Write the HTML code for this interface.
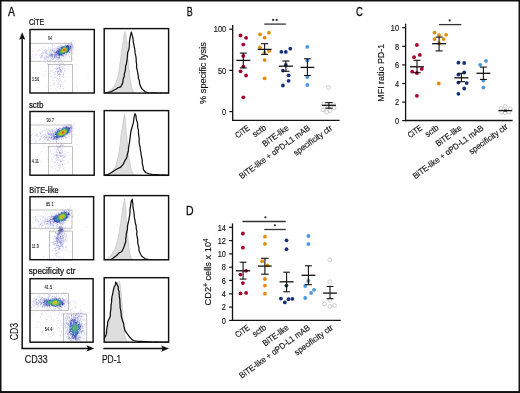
<!DOCTYPE html>
<html><head><meta charset="utf-8"><style>
html,body{margin:0;padding:0;background:#fff;}
svg{display:block;will-change:transform;}
text{font-family:"Liberation Sans", sans-serif;fill:#111;stroke:#111;stroke-width:.15px;}
</style></head><body>
<svg width="520" height="393" viewBox="0 0 520 393">
<defs><filter id="bl" x="-5%" y="-5%" width="110%" height="110%"><feGaussianBlur stdDeviation=".3"/></filter></defs>
<rect width="520" height="393" fill="#fff"/>
<text x="8" y="16" font-size="12" textLength="7" lengthAdjust="spacingAndGlyphs" style="stroke-width:.3px">A</text>
<text x="28.9" y="24.8" font-size="8.3" textLength="15.2" lengthAdjust="spacingAndGlyphs" style="stroke-width:.22px">CiTE</text>
<g filter="url(#bl)">
<path d="M64.31 43.74h.7M73.39 45.21h.7M73.06 49.47h.7M68.14 43.02h.7M70.6 42.76h.7M73.26 48.03h.7M73.92 45.92h.7M74.35 44.31h.7M66.52 56.23h.7M60.24 60.04h.7M63.67 58.58h.7M45.4 55.83h.7M71.19 42.38h.7M69.18 56.82h.7M64.02 43.04h.7M51.9 59.94h.7M45.96 58.68h.7M53.33 61.92h.7M49.59 60.65h.7M55.77 60.75h.7M46.66 59.37h.7M74.69 49.84h.7M45.32 59.85h.7M40.7 56.93h.7M53.88 45.61h.7M32.18 54.97h.7M45.15 53.67h.7M52.15 49.17h.7M31.36 59.19h.7M46.03 53.46h.7M35.51 55.01h.7M57.16 46.41h.7M43.7 53.9h.7M72.64 53.82h.7M43.96 50.42h.7M43.82 59.63h.7M36.39 53.93h.7M50.08 50.84h.7M39.69 54.91h.7M39.82 57.45h.7M47.42 60.2h.7M41.66 57.43h.7M65.34 57.34h.7M48.49 58.64h.7M52.44 48.24h.7M42.38 55.61h.7M46.99 63.77h.7M51.66 45.41h.7M37.36 50.99h.7M46.57 50.71h.7M44.06 57.28h.7M42.24 52.89h.7M32 51.48h.7M48.28 47.74h.7M39.56 54.93h.7M40.7 57.62h.7M41.51 53.47h.7M32.45 61.24h.7M41.67 55.68h.7M41.45 48.44h.7M39.45 61.47h.7M45.15 58.77h.7M44.52 50.12h.7M47.94 48.76h.7M51.49 44.42h.7M72.38 52.36h.7M41.61 55.34h.7M46.27 50.21h.7M45.96 51.28h.7M43.05 52.93h.7M34.44 59.24h.7M41.1 54.85h.7M49.81 49.91h.7M39.02 50.25h.7M41.3 53.63h.7M44.36 59.65h.7M48.63 49.25h.7M42.42 54.91h.7M59.96 45.26h.7M55.62 47.46h.7M68.47 56.42h.7M50.47 49.85h.7M71.26 56.91h.7M48.9 51.46h.7M41.02 56.92h.7M44.89 49.68h.7M50.5 60.93h.7M52.45 44.85h.7M43.04 54.07h.7M43.59 58.28h.7M31.44 56.91h.7M39.27 50.18h.7M47.24 53.01h.7M52.12 47.25h.7M44.79 58.52h.7M49.78 43.1h.7M50.04 48.03h.7M71.32 58.69h.7M71.33 53.83h.7M44.63 56.91h.7M42.68 52.08h.7M42.53 56.9h.7M39.93 56.83h.7M49.7 59.96h.7M44.2 47.43h.7M57.49 87.34h.7M63.2 74.45h.7M62.74 74.33h.7M58.29 61.97h.7M63.03 73.49h.7M55.6 71.69h.7M59.66 80.82h.7M51.89 65.71h.7M59.02 88.41h.7M59.69 79.04h.7M57.19 75.08h.7M53.89 72.99h.7M54.78 77.33h.7M51.47 76.15h.7M65.45 64.99h.7M57.26 78.35h.7M61.55 91.66h.7M60.99 81.76h.7M53.88 74.85h.7M55.98 64.13h.7M62.82 65.22h.7M50.18 64.14h.7M53.54 83.22h.7M53.9 77.86h.7M52.46 78.22h.7M60.06 88.08h.7M57.65 84.05h.7M59.8 65.7h.7M75.25 64.18h.7M57.87 80.79h.7M56.09 69.17h.7M53.03 85.08h.7M56.81 79.12h.7M61.27 61.41h.7M52.35 80.55h.7M58.31 79.64h.7M52.83 72.8h.7M59.35 78.08h.7M58.25 84.03h.7M58.96 78.14h.7M55.99 80.53h.7M54.37 82.88h.7M55.39 60.91h.7M62.39 88.49h.7M50.42 85.54h.7M60.1 84.96h.7M58.47 65.65h.7M50.62 76.69h.7M52.02 71h.7M54.93 72.55h.7M60.66 84.53h.7M45.72 71.62h.7M55.95 76.13h.7M53.94 62.03h.7M65.11 77.1h.7M64.16 70.8h.7M55.47 71.44h.7M63.1 68.12h.7M64.62 69.92h.7M60.47 86.41h.7M53.75 80.04h.7M51.76 71.79h.7M43.61 74.82h.7M54.37 85.87h.7M63.35 88.2h.7M76.18 86.79h.7M61.01 77.3h.7M59.33 82.07h.7M53.7 83.4h.7M56.04 89.65h.7M54.34 68.88h.7M57.76 86.51h.7M54.45 74.3h.7M50.25 71.51h.7M63.38 77.35h.7M60.13 75.09h.7M64.23 68.53h.7M48.82 64.98h.7M50.88 70.06h.7M55.27 88.9h.7M57.59 82.26h.7M60 86.35h.7M58.88 76.3h.7M63.01 75.25h.7M55.93 67.23h.7M55.21 74.74h.7M62.21 68.46h.7M58.89 61.06h.7M57.26 75.36h.7M61.3 63.71h.7M61.51 60.13h.7M59.91 64.34h.7M62.8 67.03h.7M61.97 65.16h.7M58.48 62.87h.7M63.57 72.46h.7M61.31 67.48h.7M59.59 65.49h.7M59.7 63.48h.7M58.65 65.35h.7M58.89 84.88h.7M59.39 65.75h.7M56.46 78.21h.7M64.23 65.5h.7M62.19 66.73h.7M61.73 61.95h.7M54.93 68.49h.7M62.54 81.93h.7M55.04 76.95h.7M61.6 76.19h.7M64.09 80.15h.7M59.13 76.49h.7M64.17 71.24h.7M55.78 71.07h.7M63.86 65.45h.7M60.89 66.02h.7M61.98 69.28h.7M51.99 62.26h.7M72.69 40.56h.7M63.42 63.86h.7M45.52 49.73h.7M66.36 73.3h.7M46.83 60.09h.7M87.51 76.81h.7M49.41 73.54h.7M60.42 80.59h.7M33.34 57.05h.7M47.01 63.98h.7M46.68 49.96h.7M72.96 59.43h.7M47.42 86.48h.7M62.88 85.99h.7M64.62 57.86h.7M37.65 87.77h.7M58.66 61.31h.7M39.92 68.09h.7M72.02 76.14h.7" stroke="rgb(96,96,204)" stroke-width=".7" stroke-opacity="0.45"/>
<path d="M52.06 59.4h.7M52.82 59.45h.7M45.25 51.33h.7M45.36 51.84h.7M44.88 57.6h.7M45.83 52.86h.7M44.81 52.3h.7M54.58 48.46h.7M44.47 52.59h.7M46.08 53.11h.7M47.01 54.03h.7M71.64 50.82h.7M56.41 68.9h.7M58.74 75.66h.7M60.66 74.12h.7" stroke="rgb(84,96,204)" stroke-width=".7" stroke-opacity="0.45"/>
<path d="M71.73 44.62h.7M67.54 44.16h.7M68.36 43.94h.7M72.19 46.3h.7M63.57 56.29h.7M71.57 44.18h.7M53.25 58.6h.7M70.14 51.83h.7M72.32 47.77h.7M57.12 59.4h.7M69.21 44.22h.7M65.66 44.28h.7M71.14 44.09h.7M72.99 47.68h.7M71.92 45.66h.7M70.83 50.99h.7M61.64 57.41h.7M71.87 45.91h.7M70.21 44.32h.7M50.83 58.15h.7M52.75 50.42h.7M68.17 53.86h.7M58.8 58.91h.7M50.18 53.42h.7M69.29 52.74h.7M65.04 55.88h.7M72.07 45.86h.7M50.62 51.11h.7M48.98 55.63h.7M52.72 59.02h.7M53.12 49.24h.7M50.42 57.8h.7M47.16 56.12h.7M57.7 59.51h.7M52.87 51.72h.7M56.53 47.98h.7M47.54 57.09h.7M53.34 58.06h.7M59.06 46.85h.7M51.04 58.33h.7M57.27 47.96h.7M72.31 47.04h.7M47.13 57.46h.7M50.52 58.92h.7M61.4 45.55h.7M58.48 47.18h.7M72.23 49.59h.7M52.14 49.96h.7M48.73 54.13h.7M55.07 49.29h.7M45.99 56.44h.7M48.95 54.41h.7M53.81 50.46h.7M48.23 55.21h.7M59.98 46h.7M46.01 57.49h.7M54.4 50.18h.7M59.83 59.34h.7M51.78 51.01h.7M48.67 56.52h.7M48.75 55.51h.7M58.38 58.66h.7M52.15 50.55h.7M51.69 50.65h.7M58.64 46.77h.7M59.52 58.51h.7M48.11 57.5h.7M56.32 59.24h.7M46.2 56.19h.7M49.48 52.36h.7M48.87 57.99h.7M65.85 54.84h.7M51.64 51.03h.7M49.64 53.98h.7M47.98 56.24h.7M47.25 57.74h.7M51.37 52.19h.7M52.03 57.7h.7M54.07 49.03h.7M55.69 58.09h.7M49.04 53.34h.7M54.17 58.17h.7M49.44 56.58h.7M46.29 56.07h.7M56.84 69.32h.7M58.36 71.27h.7M60.78 70.44h.7M59.21 67.82h.7M59.77 74.71h.7M59.44 69.7h.7M60.33 70.65h.7M61.23 71.72h.7M61.52 71.19h.7M59.62 74.12h.7M61.25 70.24h.7M57.03 67.99h.7M59.17 68.05h.7M58.7 74.72h.7M58.5 75.09h.7M60.25 71.26h.7M58.35 67.25h.7M60.32 69.48h.7M57.24 72.92h.7M59.24 73.11h.7M59.57 67.63h.7M57.94 71.39h.7M57.66 68.18h.7M59.31 69.32h.7M57.16 71.69h.7M58.61 67.61h.7M61.23 72.58h.7M59.5 74.44h.7M58.71 68.53h.7M60.66 71.87h.7M60.79 69.89h.7M57.33 73.42h.7M59.62 70.27h.7M59.56 67.26h.7M57.91 70.95h.7M60.46 72.1h.7M57.09 68.36h.7M59.05 73.24h.7M58.42 68.15h.7M57.2 71.94h.7M57.34 72.19h.7M57.55 70.68h.7M59.61 68.48h.7M56.6 68.59h.7M59.23 70.99h.7M59.95 69.7h.7M58.24 74.61h.7M58.15 74.19h.7M60.32 71.66h.7M60.29 69.32h.7M60.36 71.58h.7M58.5 71.78h.7M45.26 52.51h.7" stroke="rgb(84,84,204)" stroke-width=".7" stroke-opacity="0.45"/>
<path d="M69.37 52.44h.7M59.22 57.96h.7M58.79 58.06h.7M70.49 50.55h.7M69.35 52.24h.7M63.53 56.05h.7M54.73 50.74h.7M50.39 54.02h.7M59.01 57.71h.7M58.59 58.06h.7M55.7 57.93h.7M56.66 48.66h.7M66.03 54.28h.7M51.11 53.1h.7M71.45 45.69h.7M53.97 57.87h.7M50.24 56.35h.7M51.65 53.39h.7M53.64 51.29h.7M53.11 52.05h.7M57.31 57.92h.7M57.35 48.23h.7M53.65 52.02h.7M58.08 58.03h.7M55.63 57.68h.7M56.5 57.9h.7M53.77 51.36h.7M56.22 48.91h.7M52.2 57.16h.7M59.38 46.98h.7M49.28 55.52h.7M54.76 57.67h.7" stroke="rgb(84,84,192)" stroke-width=".7" stroke-opacity="0.45"/>
<path d="M65.09 44.89h.7M69.72 44.86h.7M57.97 57.79h.7M53.88 57.36h.7M51.08 56.71h.7M63.51 55.71h.7M53.93 57.25h.7M57.15 48.61h.7M49.88 55.14h.7M51.86 56.87h.7M50.02 54.58h.7M58.34 57.68h.7M50.33 56.01h.7M54.77 50.99h.7" stroke="rgb(72,84,192)" stroke-width=".7" stroke-opacity="0.45"/>
<path d="M56.25 57.28h.7M70.69 48.2h.7M64.78 54.76h.7M61.93 56.02h.7M70.61 48.89h.7M68.31 44.74h.7M71.35 47.99h.7M69.04 52.15h.7M70.64 46.15h.7M69.78 45.47h.7M65.85 54.13h.7M64.76 45.27h.7M56.67 49.9h.7M54.56 57.11h.7M62.74 55.63h.7M68.72 52.43h.7M70.42 45.88h.7M51.95 55.67h.7M59.23 56.71h.7M51.17 55.18h.7M52.5 54.63h.7M50.79 55.17h.7M56.76 56.99h.7M50.9 55.55h.7M54.94 56.35h.7M61.73 56h.7M56.92 57.34h.7M54.56 56.28h.7M53.8 56.62h.7M52.16 54.38h.7M56.3 56.44h.7M66.86 53.37h.7M51.71 56.09h.7M59.63 56.95h.7M61.61 56.33h.7M54.48 53.14h.7M64.86 45.33h.7M51.42 55.12h.7M69.38 51.75h.7M54.17 55.47h.7M52.69 56.24h.7M56.17 56.18h.7M52.44 55.4h.7M58.03 57.3h.7M51.71 54.89h.7M53.58 56.42h.7M51.43 53.91h.7M51.34 54.43h.7M54.24 55.61h.7M54.51 56.26h.7M54.2 52.85h.7M59.28 57.24h.7M58.22 48.39h.7M52.82 54.71h.7M52.48 55.11h.7M70.89 47.74h.7M51.04 54.44h.7M54.72 56.29h.7M51.39 55.16h.7M54.09 53.04h.7M54.67 55.99h.7M53.54 54.72h.7M58.71 57.36h.7M54.39 52.16h.7M51.39 54.91h.7M50.27 55.48h.7M54.69 52.88h.7M51.95 56.58h.7M62.77 55.94h.7M53.81 54.09h.7M54.64 52.3h.7M52.15 54.87h.7M54.95 55.97h.7M51.62 54.11h.7M51.86 56.65h.7M51.11 55.95h.7M52.01 54.01h.7M57.56 48.59h.7M51.41 54.89h.7M57.37 57.3h.7" stroke="rgb(72,72,192)" stroke-width=".7" stroke-opacity="0.45"/>
<path d="M68.65 45.21h.7M58.49 56.53h.7M60.93 46.73h.7M54.81 55.59h.7M54.33 54.18h.7M54.48 55.11h.7M55.97 55.83h.7M54.81 52.91h.7M54.44 54.76h.7M60.05 47.35h.7" stroke="rgb(60,72,192)" stroke-width=".7" stroke-opacity="0.45"/>
<path d="M57.06 55.96h.7M70.56 46.63h.7M69.82 45.74h.7M55 55.47h.7M55.99 55.73h.7M59.22 48.05h.7M70.65 47.04h.7" stroke="rgb(60,72,180)" stroke-width=".7" stroke-opacity="0.45"/>
<path d="M60.45 47.39h.7M61.6 55.6h.7M58.98 56.02h.7M64.64 54.21h.7M69.98 46.47h.7M65.94 53.46h.7M70.44 46.49h.7M61.77 46.4h.7M56.29 51.11h.7M56.86 50.29h.7M70.53 47.56h.7M70.21 47.66h.7M69.75 50.05h.7M70.12 46.3h.7M57.03 55.19h.7M57.08 49.93h.7M69.97 48.94h.7M70.32 46.8h.7M66.48 53.16h.7M70.38 46.38h.7M70.13 46.36h.7M60.89 47.09h.7M61.96 55.54h.7M58.15 48.96h.7M57.87 49.55h.7M69.55 50.53h.7M56.17 51.65h.7M58.65 48.82h.7M70.55 47.73h.7M70.44 48.37h.7M62.23 46.19h.7M55.56 52.64h.7M59.99 47.83h.7M60.22 55.87h.7M66.35 53.24h.7M55.74 54.26h.7M56.19 54.79h.7M54.77 54.96h.7M56.72 55.02h.7M55.45 53.25h.7M55.16 54.67h.7M56.15 51.13h.7M55.08 52.96h.7M58.41 55.8h.7M56.78 50.39h.7M55.7 51.68h.7M67.65 52.49h.7M55.59 54.12h.7M69.02 51.28h.7M55.3 52.99h.7M55.52 54.27h.7M55.27 54.78h.7M56.15 54.93h.7" stroke="rgb(60,60,180)" stroke-width=".7" stroke-opacity="0.45"/>
<path d="M67.35 52.37h.7M64.2 54.24h.7M62.48 55.23h.7M69.82 49.11h.7M68.38 51.55h.7M58.18 55.64h.7M69.26 46.12h.7M62.63 55.06h.7M69.94 46.83h.7M61.49 55.48h.7M69.73 49.04h.7M55.85 52.55h.7M55.99 52.42h.7M56.78 51.07h.7M56.37 51.76h.7M55.91 53.83h.7M56.1 54.32h.7M57.63 55.33h.7M59.36 55.73h.7M56.03 52.56h.7" stroke="rgb(48,60,180)" stroke-width=".7" stroke-opacity="0.45"/>
<path d="M58.29 55.44h.7M61.3 55.42h.7M57.37 54.76h.7M67.41 45.63h.7M62.53 46.44h.7M69.28 49.95h.7M69.76 48.77h.7M69.69 48.87h.7M69.64 46.67h.7M67.93 51.87h.7M64.11 46h.7M58 49.83h.7M59.49 55.7h.7M61.49 46.9h.7M56.31 52.25h.7M56.25 53.5h.7M68.53 51.17h.7" stroke="rgb(48,48,180)" stroke-width=".7" stroke-opacity="0.45"/>
<path d="M67.51 45.72h.7M68.14 45.83h.7M65.56 45.78h.7M56.42 53.1h.7M68.95 46.16h.7M59.35 55.53h.7M58.04 55.05h.7M67.56 45.69h.7M62.77 46.44h.7M68.95 46.21h.7M56.41 52.25h.7M57.29 50.67h.7M64.83 53.67h.7M56.61 52.22h.7M58.89 49.12h.7M62.62 54.86h.7" stroke="rgb(48,48,168)" stroke-width=".7" stroke-opacity="0.45"/>
<path d="M69.05 47.4h.7M65.66 45.86h.7M59.11 54.98h.7M68.19 51.34h.7M63.81 46.48h.7M67.42 46.29h.7M69.56 47.35h.7M68.1 46.31h.7M58.38 54.45h.7M62.05 47.03h.7M68.56 46.39h.7M66.41 45.87h.7M66.45 52.3h.7M66.86 46.11h.7M68.38 46.29h.7M61.77 54.92h.7M68.13 46.4h.7M58.11 50.07h.7M69.46 47.69h.7M57.76 53.94h.7M68.89 49h.7M59.07 54.9h.7M58.68 54.69h.7M56.95 51.52h.7M67.13 45.74h.7M67.49 51.53h.7M66.85 46.13h.7M60.64 47.88h.7M65.34 46.19h.7M69.18 49.1h.7M59.16 55.34h.7M56.78 52.35h.7M67.96 46.04h.7M60.03 55.34h.7M57.04 53.46h.7M67 52.27h.7M68.96 47.07h.7M67.28 45.76h.7M59.63 49.11h.7M57.1 53.6h.7M59.16 55.06h.7M56.87 53.43h.7M68.13 46.19h.7M59.3 49.38h.7M57.84 50.94h.7M58.96 49.18h.7M58.02 50.11h.7M69.25 48.87h.7M57.03 52.46h.7M68.73 50.2h.7M57.43 51.06h.7M68.94 49.2h.7M57.26 53.65h.7M68 51.05h.7M57.27 51.17h.7M64.4 53.5h.7M57.41 54.13h.7M66.55 46.12h.7M57.74 50.75h.7M57.32 52.17h.7" stroke="rgb(36,48,168)" stroke-width=".7" stroke-opacity="0.7"/>
<path d="M63.14 54.08h.7M68.68 48.93h.7M68.55 49.72h.7M61.47 54.58h.7M67.46 46.41h.7M58.08 51.51h.7M66.12 52.33h.7M64.15 53.47h.7M61.65 54.51h.7M58.81 54.52h.7M59.66 49.14h.7M66.31 46.2h.7M66.45 52.1h.7M58.73 50.06h.7M68.37 47.03h.7M67.88 46.76h.7M61.31 47.84h.7M68.22 50.48h.7M58.56 53.94h.7M63.66 46.69h.7M68.6 48.34h.7M57.9 51.54h.7M68.93 48.44h.7M57.81 51.5h.7M58.34 54.05h.7M68.31 50.18h.7M61.35 47.74h.7M60.81 54.73h.7M61.35 54.68h.7M57.93 53.56h.7M57.76 53.07h.7M57.69 52.5h.7M60.95 48.02h.7M59.18 49.6h.7M63.86 53.7h.7M67.28 46.27h.7M59.21 54.58h.7" stroke="rgb(36,60,168)" stroke-width=".7" stroke-opacity="0.7"/>
<path d="M59.4 54.29h.7M66.47 46.56h.7M66.14 52.07h.7M67.12 51.32h.7M67.96 47.17h.7M66.53 46.46h.7M68.45 48.29h.7M58.27 53.33h.7M58.63 53.89h.7M61.69 47.67h.7M68.14 47.46h.7M68.17 47.55h.7M61.38 47.93h.7M59.56 54.39h.7M59.11 50.05h.7M58.05 51.95h.7M67.97 50.27h.7M67.5 51.06h.7M59 54.21h.7M58.06 51.73h.7M59.88 54.51h.7M58.01 52.3h.7M60.6 48.61h.7" stroke="rgb(36,60,180)" stroke-width=".7" stroke-opacity="0.7"/>
<path d="M62.91 47.18h.7M61.17 48.18h.7M59.16 53.78h.7M64.23 53.09h.7M68.28 48.53h.7M66.11 46.73h.7M67.98 47.75h.7M65.98 46.69h.7M60.83 54.42h.7M62.67 47.24h.7M58.39 51.38h.7M67.66 47.56h.7M67.93 47.87h.7M68.02 48.47h.7M66.07 46.66h.7M61.6 54.14h.7M58.76 53.67h.7M67.53 50.59h.7M67.08 51.04h.7M59.17 50.38h.7M68.22 48.48h.7M65.88 46.63h.7M66.89 46.81h.7M66.62 46.87h.7M58.53 51.68h.7M58.88 53.58h.7M68.25 49.52h.7M66.33 51.74h.7M61.34 54.32h.7M60.83 54.34h.7M60.71 54.34h.7M61.19 54.34h.7M58.36 52.22h.7M67.88 49.84h.7M60.7 54.44h.7M61.2 54.35h.7M59.48 54.06h.7M58.36 52.29h.7M59.91 49.63h.7M61.97 47.55h.7M67.96 50.14h.7" stroke="rgb(36,72,180)" stroke-width=".7" stroke-opacity="0.7"/>
<path d="M67.75 47.81h.7M66.96 47.13h.7M67.53 47.53h.7M58.72 52.98h.7M67.9 49.62h.7M62.83 53.6h.7M60.63 54.13h.7M66.56 46.96h.7" stroke="rgb(24,72,180)" stroke-width=".7" stroke-opacity="0.7"/>
<path d="M63.31 47.19h.7M67.82 49.24h.7M67.79 49.31h.7M61.69 48.07h.7M63.33 53.37h.7M67.88 49.15h.7M63.01 53.46h.7M67.76 48.05h.7M67.41 47.5h.7M64.95 52.51h.7M58.77 52.93h.7M60.85 54.01h.7M65.73 46.86h.7M67.82 48.52h.7" stroke="rgb(24,84,180)" stroke-width=".7" stroke-opacity="0.7"/>
<path d="M62.85 47.37h.7M64.15 47.01h.7M66.64 51.2h.7M67.62 48.03h.7M67.65 49.79h.7M58.82 51.9h.7M63.2 53.33h.7" stroke="rgb(36,84,180)" stroke-width=".7" stroke-opacity="0.7"/>
<path d="M66.46 51.34h.7M67.09 50.7h.7M59.82 53.61h.7M60.72 53.9h.7M66.92 47.36h.7M59.11 53h.7M59.45 50.63h.7M62.78 47.47h.7M59.72 50.3h.7M59.49 53.41h.7" stroke="rgb(36,96,180)" stroke-width=".7" stroke-opacity="0.7"/>
<path d="M67.34 50.06h.7M62.63 47.66h.7M59.23 51.22h.7M59.43 50.84h.7M60.23 49.9h.7M67.44 48.23h.7M66.24 47.23h.7M62.49 47.69h.7M59.43 53.09h.7M61.41 48.6h.7M67.43 49.7h.7M67.45 49.53h.7M64.88 52.32h.7M59.6 50.55h.7M62.22 53.45h.7M59.05 52.19h.7M59.33 53.06h.7M62.16 53.56h.7M59.65 50.62h.7M59.63 50.57h.7M63.76 52.94h.7M60.8 53.67h.7M65.08 52.22h.7M62.92 53.31h.7M63.4 53.11h.7M59.09 51.66h.7M60.92 49.22h.7M65.85 47.16h.7M61.53 48.57h.7" stroke="rgb(36,108,168)" stroke-width=".7" stroke-opacity="0.9"/>
<path d="M63.3 52.98h.7M65.73 51.63h.7M66.65 47.67h.7M65.82 47.3h.7M63.05 47.51h.7M64.67 47.16h.7M67.38 49.61h.7M63.89 52.78h.7M61.49 48.71h.7M65.61 51.74h.7M61.36 53.6h.7M63.42 52.97h.7M66.44 47.49h.7M61.75 53.52h.7M62.2 48.01h.7M61.26 53.55h.7M59.56 53.08h.7M60.15 50.06h.7M59.21 52.25h.7M59.34 52.76h.7" stroke="rgb(36,120,168)" stroke-width=".7" stroke-opacity="0.9"/>
<path d="M59.51 52.82h.7M60.24 53.32h.7M63.53 52.86h.7M59.4 51.69h.7M67.18 49.57h.7M63.18 52.94h.7M59.83 53.15h.7M66.9 50.28h.7M63.45 52.89h.7M66.46 50.92h.7M60.04 53.2h.7M59.67 53h.7M61.8 53.39h.7M59.6 52.95h.7M60.98 49.37h.7M65.54 47.28h.7M64.16 52.56h.7M60.74 49.67h.7M60.82 49.46h.7" stroke="rgb(36,132,168)" stroke-width=".7" stroke-opacity="0.9"/>
<path d="M62.69 53.08h.7M60.87 53.35h.7M64.26 52.42h.7M59.55 52.53h.7M62.63 53.07h.7M60.75 49.69h.7M65.84 47.45h.7M64.31 52.38h.7M67.14 49.37h.7M62.68 53.08h.7M59.47 51.65h.7" stroke="rgb(36,144,168)" stroke-width=".7" stroke-opacity="0.9"/>
<path d="M66.85 50.13h.7M60.03 50.61h.7M64.73 52.09h.7M66.56 50.58h.7M59.56 52.26h.7M59.95 52.95h.7" stroke="rgb(36,144,156)" stroke-width=".7" stroke-opacity="0.9"/>
<path d="M63.22 52.78h.7M59.56 51.87h.7M65.8 47.57h.7M60.29 50.32h.7M61.96 48.53h.7M60.67 53.2h.7M66.86 48.45h.7M60.93 53.27h.7M65.34 47.46h.7M65.28 47.42h.7M60.97 53.26h.7" stroke="rgb(48,144,156)" stroke-width=".7" stroke-opacity="0.9"/>
<path d="M66.94 48.74h.7M66.73 50.2h.7M63.24 47.69h.7M63.42 52.69h.7" stroke="rgb(48,144,144)" stroke-width=".7" stroke-opacity="0.9"/>
<path d="M66.3 50.77h.7M59.82 51.39h.7M59.9 52.63h.7M64.35 47.45h.7M61.26 49.34h.7M62.74 47.96h.7M66.95 49.1h.7M59.99 52.68h.7M63.92 47.49h.7" stroke="rgb(48,156,144)" stroke-width=".7" stroke-opacity="0.9"/>
<path d="M64.69 47.47h.7M62.09 48.52h.7M61.78 48.82h.7" stroke="rgb(48,156,132)" stroke-width=".7" stroke-opacity="0.9"/>
<path d="M66.82 49.1h.7M66.6 50.18h.7M65.42 47.57h.7M60.01 52.53h.7M66.57 48.38h.7M60.16 52.75h.7M63.94 47.55h.7M66.85 49.14h.7" stroke="rgb(60,156,132)" stroke-width=".7" stroke-opacity="0.9"/>
<path d="M66.42 50.4h.7M62.23 52.86h.7M60.69 52.92h.7M66.79 49.18h.7M65.75 51.18h.7M63.06 52.68h.7M60.13 52.55h.7M60.55 50.4h.7" stroke="rgb(60,156,120)" stroke-width=".7" stroke-opacity="0.9"/>
<path d="M65.35 47.67h.7" stroke="rgb(60,156,108)" stroke-width=".7" stroke-opacity="0.9"/>
<path d="M66.32 50.43h.7M60.41 50.66h.7M60.02 52.1h.7" stroke="rgb(60,168,108)" stroke-width=".7" stroke-opacity="0.9"/>
<path d="M65.74 47.88h.7M61.28 52.89h.7M63.49 47.78h.7M60.27 50.98h.7M66.58 48.75h.7M66.2 50.59h.7M66.4 48.42h.7M60.13 51.33h.7M65.76 51.05h.7M60.07 51.67h.7M60.21 51.09h.7" stroke="rgb(72,168,108)" stroke-width=".7" stroke-opacity="0.9"/>
<path d="M63.73 52.21h.7M63.02 52.5h.7M64.76 51.7h.7M60.8 50.25h.7M65.92 48.08h.7M60.22 51.8h.7M60.41 52.41h.7M66.48 48.81h.7M60.93 50.11h.7" stroke="rgb(72,168,96)" stroke-width=".7" stroke-opacity="0.9"/>
<path d="M65.34 47.85h.7M60.84 50.34h.7M63.01 48.11h.7" stroke="rgb(84,168,96)" stroke-width=".7" stroke-opacity="0.9"/>
<path d="M66.3 50.01h.7M66.42 49.75h.7M60.36 51.78h.7M60.46 51.95h.7M66.4 49.84h.7M66.08 50.34h.7M66.3 50.03h.7M62.75 52.44h.7M60.85 50.36h.7M66.45 49.48h.7M64.03 47.77h.7M65.49 47.98h.7M60.58 50.95h.7M60.81 52.52h.7M65.37 47.94h.7" stroke="rgb(84,168,84)" stroke-width=".7" stroke-opacity="0.9"/>
<path d="M63.75 52.05h.7M65.35 51.12h.7M60.66 52.16h.7M65.77 50.71h.7M60.54 51.16h.7M60.55 51.95h.7M60.53 51.24h.7M66.36 49.28h.7" stroke="rgb(84,180,84)" stroke-width=".7" stroke-opacity="0.9"/>
<path d="M61.63 52.43h.7M60.56 51.59h.7M66.31 49.55h.7M65.28 51.08h.7M60.58 51.97h.7M61.81 52.44h.7M61.36 52.41h.7M63.7 47.98h.7M61.28 52.46h.7M63.92 51.93h.7M64.62 47.86h.7M61.29 52.36h.7M62.24 52.44h.7" stroke="rgb(96,180,84)" stroke-width=".7" stroke-opacity="0.9"/>
<path d="M60.96 52.1h.7M60.93 52.02h.7M60.91 52.11h.7M62.56 48.7h.7M60.74 51.88h.7M63.42 52.04h.7M60.95 52.07h.7M65.66 48.31h.7M65.17 51.15h.7M61.27 52.33h.7M62 49.34h.7M65.59 50.74h.7M63.01 52.21h.7M66.1 50.03h.7M60.7 51.33h.7M66.18 49.29h.7M65.69 48.4h.7" stroke="rgb(96,180,72)" stroke-width=".7" stroke-opacity="0.9"/>
<path d="M61.15 52.01h.7M64.06 48.08h.7M64.08 51.64h.7M60.9 51.37h.7M64.55 51.38h.7M65.44 50.8h.7M64.76 51.29h.7M63.36 51.98h.7M60.91 51.02h.7M65.98 49.83h.7M61 51.17h.7M63.8 48.12h.7M61.21 50.58h.7M62.14 52.2h.7M64.75 48.01h.7M61.22 50.46h.7M64.65 47.99h.7M65.84 48.62h.7M65.76 48.65h.7M63.91 48.11h.7M60.95 51.1h.7M61.03 50.8h.7M60.95 51.08h.7M64.02 48.08h.7" stroke="rgb(108,180,72)" stroke-width=".7" stroke-opacity="0.9"/>
<path d="M63.66 51.81h.7M62.64 52.06h.7" stroke="rgb(108,180,60)" stroke-width=".7" stroke-opacity="0.9"/>
<path d="M65.76 48.79h.7M65.9 49.44h.7M61.17 51.55h.7M64.18 51.54h.7M64.1 48.16h.7M61.42 50.56h.7M62.61 48.87h.7M62.83 52.01h.7M65.63 50.33h.7M62.02 52.09h.7" stroke="rgb(120,180,60)" stroke-width=".7" stroke-opacity="0.9"/>
<path d="M63.47 51.76h.7M61.24 51.14h.7M61.42 50.64h.7M62.33 51.99h.7" stroke="rgb(120,192,60)" stroke-width=".7" stroke-opacity="0.9"/>
<path d="M61.43 51.44h.7M63.99 48.26h.7M61.54 51.51h.7M61.64 51.65h.7M63.28 48.49h.7M62.65 48.97h.7M65.76 49.89h.7M61.49 51.69h.7M64.06 51.44h.7M64.84 48.26h.7M61.32 51.34h.7M61.42 51.36h.7" stroke="rgb(132,192,60)" stroke-width=".7" stroke-opacity="0.9"/>
<path d="M63.36 51.63h.7M61.77 50.49h.7M64.53 51.12h.7M61.96 50.13h.7M61.91 51.73h.7M64.04 51.38h.7M63.09 48.7h.7M62.9 51.74h.7M64.94 50.83h.7M63.45 48.48h.7M63 48.77h.7M64.71 51.03h.7M62.96 48.82h.7M65.62 49.95h.7M61.54 51.18h.7M63.43 48.53h.7M61.54 51.09h.7M65.52 48.93h.7M65.21 48.55h.7M62.96 51.7h.7" stroke="rgb(144,192,60)" stroke-width=".7" stroke-opacity="0.9"/>
<path d="M61.74 50.86h.7M62.46 49.47h.7M63.23 48.67h.7M63.94 48.41h.7M64.88 48.48h.7M63.32 48.65h.7M64.15 48.37h.7M61.84 51.38h.7" stroke="rgb(156,192,60)" stroke-width=".7" stroke-opacity="0.9"/>
<path d="M61.98 51.37h.7M62.04 50.15h.7M65.49 49.84h.7M64.62 50.93h.7M65.08 48.65h.7M61.86 50.53h.7" stroke="rgb(156,192,48)" stroke-width=".7" stroke-opacity="0.9"/>
<path d="M61.96 50.75h.7M64.62 48.56h.7M62.24 49.9h.7M63.38 48.71h.7M62.05 51.3h.7M62.25 49.86h.7M64.84 48.59h.7M61.96 51.33h.7M64.24 51.14h.7M64.83 48.61h.7M63.6 48.58h.7M61.98 51h.7M62.94 49.08h.7M65.31 50.15h.7M61.88 51.23h.7M62.15 51.43h.7M65.48 49.49h.7M62.03 51.4h.7M62.75 51.47h.7M61.97 51.32h.7" stroke="rgb(168,192,48)" stroke-width=".7" stroke-opacity="0.9"/>
<path d="M64.37 48.59h.7M65.18 50.18h.7M64.76 50.68h.7M64.97 48.81h.7M64.3 48.62h.7M62.07 50.67h.7M64.16 48.55h.7M64.69 48.66h.7M62.38 51.17h.7M65.16 48.92h.7M62.23 51.05h.7M62.71 51.35h.7M65.24 49.9h.7M64.51 50.8h.7" stroke="rgb(180,204,48)" stroke-width=".7" stroke-opacity="0.9"/>
<path d="M62.63 49.63h.7" stroke="rgb(192,204,48)" stroke-width=".7" stroke-opacity="0.9"/>
<path d="M64.2 48.7h.7M64.55 48.76h.7M63.18 49.13h.7M64.62 48.8h.7M65.17 49.61h.7M62.23 50.68h.7M62.26 50.69h.7M62.24 50.84h.7M63.86 48.68h.7M64.24 50.84h.7M63.2 49.06h.7M62.29 50.58h.7M63.74 48.79h.7M62.56 49.9h.7M62.98 49.22h.7M63.52 51.12h.7" stroke="rgb(192,192,48)" stroke-width=".7" stroke-opacity="0.9"/>
<path d="M64.06 50.86h.7M64.66 50.43h.7M62.42 50.55h.7M65.07 49.85h.7M63.35 51.04h.7M63.07 49.27h.7M64.73 50.4h.7M64.96 49.05h.7M63.86 50.96h.7M64.35 50.69h.7M63.46 51.04h.7M62.44 50.34h.7M64.57 48.88h.7M64.4 48.84h.7M62.54 50.16h.7" stroke="rgb(204,192,48)" stroke-width=".7" stroke-opacity="0.9"/>
<path d="M63.19 49.27h.7M65 49.48h.7M62.87 50.96h.7M64.96 49.95h.7" stroke="rgb(204,192,36)" stroke-width=".7" stroke-opacity="0.9"/>
<path d="M64.97 49.45h.7M64.62 50.37h.7M62.94 50.82h.7M62.76 50.01h.7M63.78 48.97h.7M64.64 50.35h.7M63.29 50.93h.7M64.76 49.15h.7M64.07 50.77h.7M64.24 48.92h.7M62.77 50.03h.7M64.37 49.03h.7M63.04 50.82h.7M63.44 49.21h.7M63.06 50.78h.7M62.91 49.89h.7M63.46 49.08h.7" stroke="rgb(216,192,36)" stroke-width=".7" stroke-opacity="0.9"/>
<path d="M64.71 49.31h.7M63.28 49.39h.7" stroke="rgb(216,180,36)" stroke-width=".7" stroke-opacity="0.9"/>
<path d="M64.72 49.93h.7" stroke="rgb(228,180,36)" stroke-width=".7" stroke-opacity="0.9"/>
<path d="M64.06 49.08h.7M64.45 50.23h.7M64.13 49.12h.7M64.04 50.58h.7M63.51 50.66h.7M63 50.07h.7M64.55 50.11h.7M63.88 49.14h.7M64.7 49.85h.7M63.33 50.65h.7" stroke="rgb(228,168,36)" stroke-width=".7" stroke-opacity="0.9"/>
<path d="M63.13 49.99h.7M64.19 49.21h.7M63.8 50.56h.7M64.58 49.46h.7M64.59 49.84h.7M64.15 50.36h.7M63.42 49.46h.7" stroke="rgb(228,156,36)" stroke-width=".7" stroke-opacity="0.9"/>
<path d="M63.32 50.47h.7M64.36 49.4h.7M64.07 49.24h.7M63.83 49.3h.7M64.42 50.05h.7" stroke="rgb(228,144,36)" stroke-width=".7" stroke-opacity="0.9"/>
<path d="M63.23 50.16h.7M63.41 50.39h.7M63.28 50.15h.7M63.31 50.31h.7M63.32 49.81h.7" stroke="rgb(228,132,36)" stroke-width=".7" stroke-opacity="0.9"/>
<path d="M63.53 50.37h.7M63.5 49.7h.7M64.28 49.5h.7M63.48 50.28h.7M64.21 49.44h.7M64.25 50.1h.7M64.13 50.22h.7M63.35 50.26h.7" stroke="rgb(228,120,36)" stroke-width=".7" stroke-opacity="0.9"/>
<path d="M64.27 49.56h.7M64.3 49.88h.7M63.96 49.49h.7M64.27 49.6h.7M64.21 50.04h.7M63.62 50.25h.7" stroke="rgb(228,108,36)" stroke-width=".7" stroke-opacity="0.9"/>
<path d="M64.26 49.66h.7M63.53 50.17h.7" stroke="rgb(228,108,24)" stroke-width=".7" stroke-opacity="0.9"/>
<path d="M63.87 50.18h.7M63.69 49.68h.7" stroke="rgb(228,96,24)" stroke-width=".7" stroke-opacity="0.9"/>
<path d="M63.62 49.97h.7M63.89 50.06h.7M63.8 49.68h.7M63.83 50.05h.7M63.97 50.04h.7" stroke="rgb(228,84,24)" stroke-width=".7" stroke-opacity="0.9"/>
</g>
<rect x="30" y="43.2" width="41.8" height="18" fill="none" stroke="#9a9a9a" stroke-width=".6"/>
<rect x="48.4" y="64.4" width="24.2" height="28.6" fill="none" stroke="#9a9a9a" stroke-width=".6"/>
<text x="48" y="39.7" font-size="4.6" textLength="3.9" lengthAdjust="spacingAndGlyphs" fill="#111" style="stroke-width:.06px">94</text>
<text x="31.7" y="81.2" font-size="4.6" textLength="7.3" lengthAdjust="spacingAndGlyphs" fill="#111" style="stroke-width:.06px">3.56</text>
<rect x="30" y="29.5" width="64.3" height="63.5" fill="none" stroke="#111" stroke-width="1.45"/>
<clipPath id="hc0"><rect x="104.2" y="28.6" width="64.4" height="64.5"/></clipPath>
<path clip-path="url(#hc0)" d="M104.3 93L106.5 92.6L108.39 91.39L110.7 90.1L112.97 87.59L114.9 85.1L115.8 82.92L116.28 80.54L117.4 78.4L118.27 75.54L118.8 72.8L119.1 70L119.33 67.02L119.73 64.34L120.3 61.6L120.6 58.78L121 55.99L121.3 53.2L121.42 50.32L122.38 47.43L122.5 44.8L123.07 41.99L123.49 39.14L123.8 36.4L124.32 34.06L125 31.7L125.9 33.99L126.3 36.4L126.35 39.03L127.13 41.93L127.2 44.8L127.17 47.63L127.81 50.44L127.8 53.2L127.76 55.97L127.99 58.63L128.3 61.6L128.88 64.39L128.68 67.34L129.2 70L129.76 72.91L129.59 75.49L130 78.4L130.42 80.66L131.03 83.03L131.2 85.1L132.1 87.54L132.5 90.1L134.2 92.6L136 93.2Z" fill="#dedede" stroke="#bdbdbd" stroke-width=".6"/>
<path clip-path="url(#hc0)" d="M104.4 93L107.4 92.6L111.6 91.5L113.73 90.2L115.7 89.3L118.3 87.6L120.8 86.8L122.5 83.4L123.05 80.93L123.22 78.73L124.1 76.7L124.39 73.8L125.22 70.87L125.5 68.3L125.55 66.15L126.46 63.95L126.7 61.6L127.16 59.45L127.28 57.26L127.5 54.9L127.77 52.19L128.8 49.8L129.25 46.83L129.29 44.07L129.5 41.4L129.84 39.08L130.3 36.4L131.3 32.2L132.5 36.4L133.11 39.17L133.23 42.16L133.9 44.8L134.41 47.57L134.97 50.5L135 53.2L135.83 56.09L136.16 58.83L136.2 61.6L136.72 64.58L136.5 67.19L137.2 70L137.7 72.56L138.26 75.72L138.4 78.4L139.36 80.56L139.51 83.09L140.1 85.1L141.12 87.38L142.3 89.3L145.1 91.8L149.3 93L151.57 92.92L153.77 92.87L156.25 92.85L158.95 93.31L160.63 92.82L162.88 93.31L165.28 93.18L168 93.1" fill="none" stroke="#111" stroke-width="1.25" stroke-linejoin="round"/>
<rect x="104.2" y="28.6" width="64.4" height="64.5" fill="none" stroke="#111" stroke-width="1.45"/>
<text x="28.9" y="107.9" font-size="8.3" textLength="14.6" lengthAdjust="spacingAndGlyphs" style="stroke-width:.22px">sctb</text>
<g filter="url(#bl)">
<path d="M72.19 130.67h.7M72.65 124.6h.7M72.83 125.64h.7M73.12 128.81h.7M74.3 122.96h.7M72.8 126.66h.7M67.03 123.84h.7M74.43 128.21h.7M70.91 123.11h.7M61.36 139.88h.7M50.36 141.83h.7M46.07 140.91h.7M47.85 129.88h.7M45.15 134.32h.7M40.09 136.58h.7M37.89 136.59h.7M35.38 132.17h.7M42.23 131.25h.7M65.09 138.45h.7M35.03 140.51h.7M49.01 130.88h.7M41.69 135.87h.7M69.3 136.21h.7M47.59 150.24h.7M41.54 132.47h.7M46.53 129.42h.7M46.54 130.65h.7M43.36 137.52h.7M41.17 137.18h.7M31.38 135.55h.7M42.72 130.63h.7M42.37 140.87h.7M40.65 134.6h.7M72.51 136.84h.7M36.82 135.27h.7M40.52 140.75h.7M50.86 143.52h.7M36.83 136.33h.7M38.66 140.42h.7M40.27 138.82h.7M47.25 131.41h.7M52.11 129.79h.7M51.54 129.92h.7M34.27 139.11h.7M42.02 135.23h.7M38.9 132.45h.7M45.98 128.15h.7M54.68 127.27h.7M37.27 133.97h.7M40.07 133.81h.7M44.36 138.85h.7M34.31 133.24h.7M45.14 131.07h.7M43.44 137.44h.7M30.96 140.93h.7M71.71 134.84h.7M34.62 139.03h.7M44.38 130.82h.7M43.08 134.5h.7M44.13 142.68h.7M32.03 134.14h.7M43.69 136.66h.7M59.78 141.98h.7M36.26 134.36h.7M32.94 136.85h.7M44.55 130.23h.7M66.58 138.15h.7M36.42 141.41h.7M71.57 134.43h.7M32.99 130.1h.7M45.26 134.96h.7M44.93 139.59h.7M49.63 130.5h.7M44.91 143.45h.7M66.67 137.84h.7M40.59 133.14h.7M47.23 140.61h.7M39.76 139.29h.7M42.89 142.76h.7M35.43 135.86h.7M43.7 127.17h.7M40 133.44h.7M34.99 142.59h.7M40.1 132.07h.7M45.6 126.52h.7M32.61 139.06h.7M49.9 142.93h.7M36.65 135.7h.7M35.94 134.62h.7M40.27 139.14h.7M41.45 136.47h.7M39.08 140.13h.7M70.88 158.95h.7M54.75 157.87h.7M51.2 158.76h.7M60.75 162.86h.7M52.8 153.85h.7M59.81 166.98h.7M63.64 167.85h.7M62.98 169.04h.7M54.1 172.45h.7M54.54 162.08h.7M56.98 169.93h.7M54.62 159.29h.7M56.68 166.8h.7M64.27 163.77h.7M59.34 167.75h.7M57.33 162.81h.7M62.37 151.32h.7M62.26 164.74h.7M55.08 155.08h.7M50.98 153.99h.7M58 167.31h.7M67.53 163.26h.7M53.63 156.62h.7M54.03 165.15h.7M56.42 164.35h.7M62.1 164.51h.7M60.77 163.99h.7M55.73 151.14h.7M56.32 152h.7M58.75 159.46h.7M57.66 165.52h.7M67.47 162.22h.7M62.94 157.84h.7M61.18 171.94h.7M64.37 170.1h.7M55.82 161.06h.7M56.12 141.84h.7M67.37 160.28h.7M64.46 156.61h.7M51.18 167.12h.7M61.52 161.55h.7M59.13 165.15h.7M59.29 158.82h.7M51.42 161.08h.7M57.97 160.12h.7M54.52 155.67h.7M52.98 154.84h.7M63.79 157.78h.7M49.84 151.14h.7M54.61 148.27h.7M55.05 168.79h.7M54.82 158.17h.7M61.6 157.96h.7M47.56 159.18h.7M56.13 158.77h.7M58.59 165.52h.7M53.89 152.89h.7M54 166.75h.7M54.67 142.97h.7M52.1 150.08h.7M52.27 166.56h.7M64.95 156.29h.7M63.84 160.59h.7M51.77 159.25h.7M63.79 153.95h.7M54.15 162.76h.7M62.16 164.76h.7M58.51 170.96h.7M67.56 152.5h.7M53.58 141.96h.7M57.14 170.52h.7M63.71 156.88h.7M62.27 152.52h.7M56.89 149.41h.7M59.49 168.82h.7M57.64 162.79h.7M57.66 159.88h.7M60.6 148.22h.7M54.84 162.24h.7M55.86 150.07h.7M59.92 161.71h.7M57.23 148.77h.7M61.94 150.57h.7M61.86 146.31h.7M60.61 149.73h.7M63.56 157.36h.7M61.37 149.48h.7M64.8 151.05h.7M54.6 149.14h.7M56.65 143.81h.7M56.72 160.92h.7M57.83 143.66h.7M61.9 159.71h.7M63.04 145.56h.7M62.98 160.42h.7M56.18 160.06h.7M61.35 144.96h.7M61.21 143.48h.7M62.36 160.2h.7M64.87 154.5h.7M59.36 160.27h.7M62.22 145.5h.7M57.15 147h.7M61.95 146.42h.7M59.98 165.36h.7M58.78 163.81h.7M60.08 142.54h.7M56.19 145.15h.7M56.26 142.94h.7M57.17 147.61h.7M58.18 143.36h.7M60.91 144.23h.7M62.29 148.82h.7M68.23 136.26h.7M40.96 151.75h.7M76.85 144.32h.7M65.37 155.62h.7M46.86 147.03h.7M43.45 146.61h.7M48.7 153.08h.7M40.11 162.08h.7M49.13 140.93h.7M48.85 147.04h.7M38.25 126.34h.7M63.66 147.55h.7" stroke="rgb(96,96,204)" stroke-width=".7" stroke-opacity="0.45"/>
<path d="M69.87 124.73h.7M54.37 129.37h.7M47.88 140.65h.7M44.27 136.57h.7M52.02 129.97h.7M56.16 141.8h.7M58.33 157.83h.7M60.69 161.28h.7M60.57 161.33h.7M60.43 160.32h.7M60.22 161.39h.7M57.69 149.72h.7M60.64 160.42h.7M57.2 152.45h.7M58.08 146.3h.7M60.63 145.12h.7" stroke="rgb(84,96,204)" stroke-width=".7" stroke-opacity="0.45"/>
<path d="M72.3 127.5h.7M70.87 131.34h.7M70.59 132.51h.7M65.82 137.45h.7M55.5 140.76h.7M70.19 126.04h.7M72.46 128.87h.7M69.86 125.07h.7M69.53 134.03h.7M62.41 126.53h.7M69.75 125.81h.7M68.24 125.08h.7M65.06 137.57h.7M49.65 140.29h.7M51.5 139.66h.7M47.69 139.85h.7M63.33 126.34h.7M47.52 137.89h.7M50.44 131.42h.7M52.54 131.59h.7M48.27 133.37h.7M47.89 139.2h.7M46.65 136.24h.7M63.19 138.28h.7M48.53 138.28h.7M51.61 131.08h.7M49.09 131.21h.7M47.75 133.26h.7M46.41 137.75h.7M45.64 135.62h.7M57.91 140.38h.7M56.36 128.62h.7M45.47 137.18h.7M50.31 132.43h.7M56.09 129.03h.7M48.29 136.88h.7M52.2 130.43h.7M47.05 133.34h.7M65.7 124.94h.7M46.73 132.61h.7M47.78 139.35h.7M50.8 131.31h.7M58.25 128.03h.7M45.34 137.6h.7M46.55 137.21h.7M47.78 134.08h.7M47.21 139.14h.7M48.55 139.99h.7M51.73 131.73h.7M47.48 132.21h.7M47.49 134.17h.7M46.61 136.52h.7M45.85 138.21h.7M45.79 134.58h.7M52.09 131.65h.7M53.81 130.58h.7M47.98 132.62h.7M46.33 137.63h.7M46.87 136.07h.7M56.33 140.74h.7M46.88 139.94h.7M59.82 156.01h.7M59.2 146.68h.7M56.18 154.87h.7M58 150.17h.7M56.07 156.91h.7M60.11 154.84h.7M59.76 153.6h.7M60.95 156.55h.7M56.63 156.26h.7M56.66 155.78h.7M60.29 156.04h.7M62.68 156.66h.7M59.88 153h.7M58.59 154.92h.7M60.7 155.73h.7M63.05 155.72h.7M56.76 157.11h.7M59.54 151.49h.7M60.86 152.45h.7M54.1 140.64h.7M59.91 152.7h.7M58.79 151.16h.7M61.35 151.79h.7M58.21 157.4h.7M58.49 147.75h.7M59 152.58h.7M60.04 146.94h.7M57.72 148.11h.7M56.81 155.36h.7M57.65 155.67h.7M59.13 146.93h.7M61.22 153.41h.7M62.61 155.25h.7M58.94 152.61h.7M57.41 153.32h.7M55.7 154.8h.7M60.76 155.95h.7M60.11 153.69h.7M57.53 154.97h.7M59.15 152.5h.7M59.84 146.73h.7M59.2 153.89h.7M58.19 150.09h.7M58.79 152.56h.7M58.69 139.34h.7M60.99 139.05h.7M60.37 146.36h.7M55.98 155.24h.7M59.18 146.6h.7M61.74 153.88h.7M56.55 155.26h.7M60.34 146.03h.7M61.69 156.15h.7M59.18 155.55h.7M59.98 156.18h.7M60.07 146.33h.7M60.27 152.69h.7M61.87 155.43h.7M58.77 152.09h.7M60.01 150.69h.7M58.78 147.83h.7M57.67 157.58h.7M55.55 128.75h.7" stroke="rgb(84,84,204)" stroke-width=".7" stroke-opacity="0.45"/>
<path d="M68.65 125.67h.7M60.21 127.84h.7M70.75 126.65h.7M71.53 129.33h.7M71.49 127.14h.7M69.26 133.59h.7M59.19 128.2h.7M48.24 134.55h.7M57.33 139.75h.7M68.35 125.76h.7M65.22 136.66h.7M49.27 134.04h.7M49.13 136.73h.7M49.46 135.7h.7M53.17 139.8h.7M52.06 139.55h.7M68.44 134.41h.7M49.75 133.35h.7M48.69 137.42h.7M50.93 138.83h.7M48.74 137.49h.7M50.3 138.49h.7M49.4 134.45h.7M51.86 132.74h.7M49.42 137.96h.7M48.24 134.72h.7M48.79 136.67h.7M59.26 138.88h.7M48.94 134.4h.7M48.35 134.38h.7M49.6 137.99h.7" stroke="rgb(84,84,192)" stroke-width=".7" stroke-opacity="0.45"/>
<path d="M64.96 126.11h.7M71.27 127.82h.7M71.34 128.19h.7M67.85 125.88h.7M50.2 134.16h.7M49.46 134.85h.7M51.31 138.63h.7M53.28 139.59h.7M49.92 135.89h.7M50.51 134h.7M50.64 133.79h.7" stroke="rgb(72,84,192)" stroke-width=".7" stroke-opacity="0.45"/>
<path d="M70.86 127.59h.7M66.43 135.46h.7M70.57 128.02h.7M70.76 127.18h.7M70.03 131.35h.7M64.17 126.8h.7M57.77 139.13h.7M53.85 139.46h.7M70.69 128.74h.7M65.38 136.03h.7M54.9 131.3h.7M56.15 139.31h.7M70.09 131.86h.7M53.1 139.19h.7M70.93 128.44h.7M60.65 138.19h.7M71.02 129.02h.7M51.69 135.72h.7M54.33 132.44h.7M55.93 139.43h.7M51.3 134.68h.7M51.3 137.35h.7M57.65 129h.7M59.04 128.56h.7M57.63 129.28h.7M50.67 134.09h.7M54.18 132.01h.7M52.56 132.96h.7M50.13 134.45h.7M51.48 133.52h.7M52.13 135.03h.7M56.34 130.33h.7M52.9 138.83h.7M64.24 136.65h.7M70.43 130.91h.7M70.46 127.61h.7M51.67 134.48h.7M59.67 128.26h.7M50.5 137.72h.7M62.01 127.32h.7M50.89 137.76h.7M56.04 130.12h.7M53.77 133.04h.7M54.64 131.39h.7M56.49 139.68h.7M69.7 127.1h.7M51.02 136.11h.7M51.72 133.51h.7M50.36 135.78h.7M50.9 137.79h.7M57.55 129.31h.7M51.64 136.82h.7M53.21 133.1h.7M51.9 138.35h.7M52.72 133.71h.7M54.81 131.74h.7M66.24 126.05h.7M50.91 135.05h.7M51.55 137.38h.7M53.25 138.88h.7M51.62 137.47h.7M51.26 137.24h.7M50.94 137.43h.7" stroke="rgb(72,72,192)" stroke-width=".7" stroke-opacity="0.45"/>
<path d="M69.42 132.14h.7M70.03 127.42h.7M57.64 129.46h.7M52.88 134.37h.7M52.38 135.12h.7M53.52 133.69h.7M55.54 139.19h.7M59.74 138.05h.7" stroke="rgb(60,72,192)" stroke-width=".7" stroke-opacity="0.45"/>
<path d="M54.68 139.01h.7M52.79 138.28h.7" stroke="rgb(60,72,180)" stroke-width=".7" stroke-opacity="0.45"/>
<path d="M63.07 136.95h.7M69.2 131.96h.7M69.8 127.75h.7M53.06 137.12h.7M59.38 129.07h.7M70.16 128.77h.7M55.72 138.76h.7M54.02 138.7h.7M68.3 126.95h.7M61.87 128.08h.7M55.53 138.69h.7M55.2 132.07h.7M56.51 138.75h.7M70.08 127.66h.7M69.88 129.59h.7M66.93 134.46h.7M65.96 135.06h.7M57.24 129.92h.7M68.8 132.65h.7M63.84 136.77h.7M60.58 128.5h.7M69.07 127.34h.7M61.88 137.42h.7M66.02 126.52h.7M53.69 138.64h.7M52.8 136.65h.7M53.05 136.51h.7M54.9 138.85h.7M56.67 130.4h.7M54.07 138.22h.7M52.56 137.81h.7M53.41 134.75h.7M56.89 138.72h.7M53.39 138.23h.7M52.69 135.25h.7M52.89 136.99h.7M69.9 130.49h.7M53.68 134.95h.7M53.12 134.89h.7M52.74 135.98h.7M56.66 138.9h.7M53.62 133.92h.7M54.76 138.75h.7M53.58 138.33h.7M58.41 129.55h.7M53.11 135.1h.7M66.47 126.55h.7M58.08 138.31h.7M56.67 138.59h.7M53.75 134.12h.7" stroke="rgb(60,60,180)" stroke-width=".7" stroke-opacity="0.45"/>
<path d="M69.46 130.78h.7M55.32 132.17h.7M67.45 133.77h.7M61.36 137.41h.7M66.3 126.81h.7M53.71 137.74h.7M69.38 131.08h.7M68.37 132.86h.7M69.64 130.47h.7M67.41 133.85h.7M57.62 138.18h.7M63.29 127.59h.7M66.88 126.84h.7M53.61 135.75h.7M58.03 138.14h.7M53.49 135.79h.7M58.4 129.58h.7M54.08 137.86h.7" stroke="rgb(48,60,180)" stroke-width=".7" stroke-opacity="0.45"/>
<path d="M68.62 132.53h.7M55.12 132.77h.7M63.52 127.53h.7M54.19 135.08h.7M53.7 136.49h.7M57.7 130.16h.7M53.74 136.46h.7M57.91 129.97h.7M69.34 127.99h.7M54.45 137.9h.7M58.37 129.73h.7" stroke="rgb(48,48,180)" stroke-width=".7" stroke-opacity="0.45"/>
<path d="M59.19 137.56h.7M68.41 132.49h.7M69.42 128.35h.7M65.48 127.07h.7M58.8 129.74h.7M68.72 132.06h.7M68.01 133.04h.7M68.04 127.34h.7M60.23 129.14h.7M68.86 131.94h.7M65.16 127.13h.7M69.55 128.84h.7M69.52 129.1h.7M53.98 136.77h.7M54.38 137.45h.7M61.09 137.29h.7M56.58 131.19h.7M55.22 137.93h.7M56.91 130.94h.7M57.61 130.33h.7M54.12 137.31h.7M56.44 138.06h.7M54.43 137.15h.7" stroke="rgb(48,48,168)" stroke-width=".7" stroke-opacity="0.45"/>
<path d="M56.96 131.25h.7M55.11 134.28h.7M55.72 137.82h.7M68.64 128.06h.7M68.83 130.29h.7M66.17 127.06h.7M69.08 128.26h.7M68.79 128.51h.7M68.44 131.9h.7M62.93 128.2h.7M58.51 130.22h.7M69.27 128.69h.7M69.07 129.36h.7M62.45 136.77h.7M67.29 127.56h.7M67.7 127.59h.7M67.8 127.55h.7M63.42 127.83h.7M69.05 130.09h.7M67.46 132.96h.7M56.27 137.85h.7M66.59 127.09h.7M68.87 128.34h.7M68.68 128.66h.7M62.58 136.45h.7M66.08 134.42h.7M56.5 137.24h.7M63.83 136.04h.7M67.82 127.91h.7M55.03 137.07h.7M68.9 129.09h.7M57.06 137.79h.7M61.38 128.76h.7M57.18 137.59h.7M57.77 137.51h.7M55.28 134.52h.7M60.45 137.32h.7M54.73 134.46h.7M54.58 135.98h.7M55.99 137.55h.7M55.33 134.11h.7M55.2 136.62h.7M62.12 136.68h.7M54.93 136.51h.7M55.14 133.1h.7M64.48 127.47h.7M65.95 127.32h.7M54.55 136.48h.7M55.79 136.87h.7M54.55 137.13h.7M67.51 132.83h.7M55.45 132.99h.7M55.71 132.38h.7M55.41 133.92h.7" stroke="rgb(36,48,168)" stroke-width=".7" stroke-opacity="0.7"/>
<path d="M58.67 130.34h.7M55.61 136.35h.7M63.57 135.74h.7M65.72 127.62h.7M68.43 130.15h.7M55.98 136.59h.7M55.38 134.51h.7M57.6 136.98h.7M56.43 132.33h.7M66.82 133.39h.7M59 136.98h.7M68.56 129.47h.7M65.77 127.53h.7M57.2 137.03h.7M57.4 137.09h.7M68.15 128.76h.7M68.27 128.82h.7M55.92 136.7h.7M64.19 127.93h.7M56.52 132.23h.7M57.05 136.94h.7M56.39 137.11h.7M56.83 131.9h.7M56.02 136.45h.7M55.55 134.55h.7M65.87 127.59h.7M61.93 128.8h.7M61.97 136.48h.7M55.46 134.43h.7M65.15 134.85h.7M55.81 135.59h.7" stroke="rgb(36,60,168)" stroke-width=".7" stroke-opacity="0.7"/>
<path d="M68.32 130.18h.7M59.38 130.36h.7M59.62 130.26h.7M59.09 130.48h.7M61.84 136.42h.7M67.17 132.71h.7M68.3 130.41h.7M67.89 131.7h.7M66.7 133.24h.7M64.64 128.04h.7M66.53 133.4h.7M67.93 131.69h.7M62.62 136.18h.7M62.5 128.78h.7M67.62 128.48h.7M67.66 128.36h.7M62.48 128.71h.7M67.53 132.32h.7M67.22 128.22h.7M61.25 136.58h.7M57.09 131.86h.7M58.04 136.95h.7M56.29 132.78h.7M56.43 136.44h.7M57.25 131.61h.7M67.18 128.16h.7" stroke="rgb(36,60,180)" stroke-width=".7" stroke-opacity="0.7"/>
<path d="M67.81 129.39h.7M56.61 136.24h.7M66.54 128.1h.7M57.32 131.99h.7M62.72 128.8h.7M65.79 128h.7M68.04 129.77h.7M68.01 130.89h.7M64.21 128.33h.7M65.79 128.11h.7M58.81 136.58h.7M63.49 135.6h.7M68.15 130.71h.7M64.69 128.08h.7M63.05 128.73h.7M61.37 136.48h.7M58.65 136.73h.7M66.27 128.07h.7M59.98 130.26h.7M67.93 129.05h.7M65.93 133.58h.7M62.48 136.1h.7M64.4 134.95h.7M57.58 136.59h.7M58.24 131.17h.7M60.39 136.51h.7M56.25 133.39h.7M56.37 135.98h.7M56.67 135.86h.7M65.74 128.11h.7M57.83 136.62h.7M65.22 128.04h.7M56.22 135.92h.7M61.87 129.18h.7M60.2 136.63h.7M67.8 131.69h.7M65.97 133.78h.7" stroke="rgb(36,72,180)" stroke-width=".7" stroke-opacity="0.7"/>
<path d="M66.69 132.78h.7M67.54 131.56h.7M67.23 132.14h.7M60.63 130.06h.7M56.55 133.06h.7M67.79 129.5h.7M60.24 136.47h.7M56.27 133.64h.7M63.35 135.48h.7M58.85 136.54h.7M57.88 136.48h.7M56.55 135.57h.7M56.29 135.01h.7" stroke="rgb(24,72,180)" stroke-width=".7" stroke-opacity="0.7"/>
<path d="M57.03 136.04h.7M56.36 133.65h.7M67.02 132.25h.7M57.38 136.21h.7M67.3 128.95h.7M65.45 133.91h.7M57.34 136.2h.7M56.31 134.67h.7M67.09 132.18h.7M65.77 133.64h.7M67.69 130.53h.7M59.95 136.47h.7M59.11 136.47h.7M56.41 135h.7M63.98 135.05h.7M59.08 130.94h.7M56.49 133.43h.7" stroke="rgb(24,84,180)" stroke-width=".7" stroke-opacity="0.7"/>
<path d="M58.82 136.42h.7M66.12 133.21h.7M67.56 131h.7M61 136.24h.7M63.94 128.64h.7M57.2 132.39h.7M62.48 135.78h.7M58.53 131.31h.7" stroke="rgb(36,84,180)" stroke-width=".7" stroke-opacity="0.7"/>
<path d="M60.14 136.3h.7M67.45 129.57h.7M65.65 128.44h.7M64.51 134.51h.7M63.93 134.98h.7M59.35 130.95h.7M67.24 129.13h.7M66.48 128.67h.7M66.68 132.43h.7" stroke="rgb(36,96,180)" stroke-width=".7" stroke-opacity="0.7"/>
<path d="M57.23 135.78h.7" stroke="rgb(36,96,168)" stroke-width=".7" stroke-opacity="0.7"/>
<path d="M66.72 128.85h.7M56.72 133.59h.7M58.9 131.29h.7M65.9 128.62h.7M62.45 135.6h.7M66.54 128.8h.7M62.76 135.46h.7M64.84 128.65h.7M65.01 134.07h.7M65.21 128.56h.7M66.68 128.85h.7M67.41 129.83h.7M56.9 133.24h.7M57.98 131.89h.7M56.72 133.57h.7M62.05 135.83h.7M56.73 133.49h.7M61.47 135.92h.7M60.63 136.14h.7M56.63 134.28h.7" stroke="rgb(36,108,168)" stroke-width=".7" stroke-opacity="0.9"/>
<path d="M67.09 131.27h.7M61.24 130.13h.7M66.43 128.93h.7M66.83 129.33h.7M61.91 129.75h.7M67.07 131.35h.7M56.96 133.23h.7M66.15 128.82h.7M66.64 129.12h.7M61.65 129.82h.7M56.85 134.78h.7M56.82 134.52h.7M59.55 131.04h.7M56.77 134.69h.7M57.77 135.89h.7M56.72 134.09h.7M57.32 135.56h.7M67.29 130.71h.7M56.87 133.51h.7" stroke="rgb(36,120,168)" stroke-width=".7" stroke-opacity="0.9"/>
<path d="M60.19 136.04h.7M59.8 136.08h.7M66.78 131.75h.7M67.02 129.96h.7M66.9 129.6h.7M67.01 131.08h.7M58.14 135.82h.7M62.35 129.62h.7M57.55 132.58h.7M56.93 134.09h.7" stroke="rgb(36,132,168)" stroke-width=".7" stroke-opacity="0.9"/>
<path d="M64.94 133.82h.7M66.06 128.99h.7M66.99 130.63h.7M65.28 128.85h.7M63.27 129.25h.7M66.95 129.87h.7M62.13 129.76h.7M58.51 135.85h.7M66.41 132.14h.7M57.32 133.1h.7M59.81 131.1h.7M61.52 130.12h.7M58.28 132.02h.7M57.56 132.69h.7M59.98 130.95h.7" stroke="rgb(36,144,168)" stroke-width=".7" stroke-opacity="0.9"/>
<path d="M62.66 129.54h.7M66.96 130.56h.7M61.14 130.37h.7M57.58 135.36h.7" stroke="rgb(36,144,156)" stroke-width=".7" stroke-opacity="0.9"/>
<path d="M64.37 129.05h.7M64.16 129.1h.7M59.07 131.62h.7M66.79 129.99h.7M57.17 134.72h.7M66.89 130.61h.7M62.22 135.41h.7" stroke="rgb(48,144,156)" stroke-width=".7" stroke-opacity="0.9"/>
<path d="M57.25 133.48h.7" stroke="rgb(48,144,144)" stroke-width=".7" stroke-opacity="0.9"/>
<path d="M65.7 132.81h.7M64.49 129.11h.7M57.32 133.43h.7M57.24 133.56h.7M62.53 129.69h.7M59.67 135.86h.7M62.16 135.36h.7" stroke="rgb(48,156,144)" stroke-width=".7" stroke-opacity="0.9"/>
<path d="M57.25 134.32h.7M61.4 130.34h.7M65.94 132.5h.7M60.82 130.7h.7M61.94 135.4h.7" stroke="rgb(48,156,132)" stroke-width=".7" stroke-opacity="0.9"/>
<path d="M58.52 132.12h.7M57.78 135.2h.7M58.05 135.37h.7M58.42 132.22h.7M65.4 129.16h.7M58.26 132.37h.7M62.85 129.63h.7M57.28 134.1h.7M60.16 131.09h.7M66.1 132.22h.7" stroke="rgb(60,156,132)" stroke-width=".7" stroke-opacity="0.9"/>
<path d="M62.66 135.02h.7M66.53 130.06h.7M66.35 129.67h.7M64.37 134.01h.7M59.47 135.69h.7M63.31 129.51h.7M66.17 132.04h.7M64.73 133.68h.7M57.36 133.9h.7M66.38 131.59h.7M58.01 135.23h.7M62.16 135.21h.7M63.1 129.6h.7M63.2 129.55h.7M58.7 135.59h.7" stroke="rgb(60,156,120)" stroke-width=".7" stroke-opacity="0.9"/>
<path d="M57.43 133.82h.7" stroke="rgb(60,168,108)" stroke-width=".7" stroke-opacity="0.9"/>
<path d="M58.46 135.43h.7M62.02 130.16h.7M61.59 130.41h.7M65.45 129.36h.7M63.76 134.36h.7M57.78 133.09h.7M58.4 135.42h.7M58.32 132.49h.7" stroke="rgb(72,168,108)" stroke-width=".7" stroke-opacity="0.9"/>
<path d="M65.2 129.4h.7M58.4 132.53h.7M58.98 135.47h.7M66.45 130.47h.7M59.8 131.58h.7M66.32 130.04h.7M59.42 131.78h.7M64.35 133.86h.7M65.32 129.44h.7M60.73 135.45h.7M58.65 135.4h.7M65.93 132.03h.7M65.93 129.73h.7M66.27 131.34h.7M63.66 129.59h.7M57.63 134.62h.7M65.09 129.36h.7M62.68 134.9h.7M60.84 130.89h.7M63.32 134.58h.7M62.24 135.1h.7" stroke="rgb(72,168,96)" stroke-width=".7" stroke-opacity="0.9"/>
<path d="M65.7 129.63h.7M58.06 132.98h.7M60.53 135.46h.7" stroke="rgb(84,168,96)" stroke-width=".7" stroke-opacity="0.9"/>
<path d="M66.24 130.51h.7M58.43 132.71h.7M57.87 134.39h.7M64.86 133.3h.7M61.45 130.72h.7M62.18 130.23h.7M63.83 134.17h.7M59.32 135.43h.7M66.18 130.87h.7M63.18 129.77h.7M65.19 129.59h.7M63.14 134.58h.7M57.81 134.51h.7M65.4 129.67h.7M57.77 133.6h.7M57.77 134.19h.7M60.83 135.39h.7M61.69 135.12h.7M65.98 131.71h.7M63.77 134.23h.7M60.2 131.47h.7" stroke="rgb(84,168,84)" stroke-width=".7" stroke-opacity="0.9"/>
<path d="M65.44 129.74h.7M59.49 135.35h.7M66.02 130.31h.7M65.01 129.61h.7M65.74 132h.7M59.59 135.38h.7M60.87 135.29h.7" stroke="rgb(84,180,84)" stroke-width=".7" stroke-opacity="0.9"/>
<path d="M65.72 131.94h.7M58.73 135.07h.7M62.52 134.73h.7M60.4 131.43h.7M63.51 134.23h.7M60.84 131.14h.7M61.68 135.03h.7M64.73 133.21h.7M61.93 134.96h.7M61.49 130.79h.7M63.63 134.19h.7M63.95 133.92h.7M64.35 133.64h.7M65.64 131.99h.7M65.14 132.72h.7M57.92 134.04h.7M58.37 132.94h.7M58.18 133.23h.7M58.15 133.24h.7M65.41 129.83h.7" stroke="rgb(96,180,84)" stroke-width=".7" stroke-opacity="0.9"/>
<path d="M63.51 129.86h.7M58.32 134.59h.7M63.88 133.89h.7M61.68 130.74h.7M58.03 134.22h.7M59.73 135.24h.7M64.07 129.8h.7M62.44 130.37h.7M58.67 134.93h.7M65.36 129.98h.7M64.7 133.21h.7M59.94 131.78h.7M63.76 129.85h.7M58.19 134.34h.7M65.93 131.18h.7" stroke="rgb(96,180,72)" stroke-width=".7" stroke-opacity="0.9"/>
<path d="M64.02 129.9h.7M65.77 131.42h.7M63.29 130.05h.7M59.83 135.18h.7M63.97 133.75h.7M60.86 131.36h.7M64.96 129.99h.7M62.2 130.51h.7M61.07 134.96h.7M59.23 135.1h.7M65.36 132.15h.7M58.29 133.96h.7M63.9 129.97h.7M58.7 134.88h.7M65.57 131.85h.7M65.73 130.71h.7M62.97 134.4h.7M63.95 129.86h.7M63.28 134.18h.7M62.63 130.35h.7M64.6 133.11h.7M63.37 134.08h.7M65.8 130.85h.7M58.56 133h.7M65.25 129.99h.7M62.1 130.58h.7M59.97 135.11h.7M59.81 132.02h.7M60.76 135.09h.7M58.89 134.88h.7M63.93 133.74h.7M62.62 130.38h.7" stroke="rgb(108,180,72)" stroke-width=".7" stroke-opacity="0.9"/>
<path d="M60.02 135.06h.7M65.38 130.31h.7M63.51 130.1h.7M65.54 130.5h.7M65.44 131.87h.7M60.23 135.03h.7M58.32 133.79h.7" stroke="rgb(108,180,60)" stroke-width=".7" stroke-opacity="0.9"/>
<path d="M65.53 130.53h.7M58.55 134.33h.7M65.56 130.68h.7M63.13 134.15h.7M58.92 132.87h.7M63.9 130.04h.7M65.45 130.47h.7M65.57 130.65h.7M59.67 134.99h.7M58.43 133.55h.7M62.71 130.4h.7M64.3 133.27h.7M65.53 131.53h.7M60.2 135.01h.7M64.09 133.48h.7M58.74 134.58h.7M58.98 132.77h.7M62.04 134.62h.7M59.47 132.44h.7M61.74 130.96h.7" stroke="rgb(120,180,60)" stroke-width=".7" stroke-opacity="0.9"/>
<path d="M62.27 134.45h.7M59.94 132.13h.7M61.19 134.78h.7M61.15 134.81h.7M58.53 134.19h.7M63.63 133.81h.7M60.14 132h.7M58.66 133.33h.7" stroke="rgb(120,192,60)" stroke-width=".7" stroke-opacity="0.9"/>
<path d="M62.83 130.51h.7M60.89 131.57h.7M58.75 134.41h.7M65.24 130.64h.7M63.4 133.88h.7M61.75 134.59h.7M58.68 133.86h.7M60.73 134.83h.7M61.53 131.14h.7M61.2 131.39h.7M58.66 133.71h.7M62.93 130.47h.7M64.56 130.22h.7M65.29 130.72h.7M65.41 131.14h.7M59.39 134.71h.7M65.35 131.3h.7M59.38 132.58h.7M60.26 134.81h.7M62.01 134.51h.7M65.18 132.06h.7M60.04 134.88h.7" stroke="rgb(132,192,60)" stroke-width=".7" stroke-opacity="0.9"/>
<path d="M59.41 132.71h.7M64.66 130.28h.7M59.17 134.47h.7M59.87 132.42h.7M58.93 134.24h.7M58.74 133.95h.7M60.29 132.14h.7M63.73 133.61h.7M64.97 130.41h.7M64.58 132.71h.7M64.72 130.29h.7M59.43 132.78h.7M60.99 131.61h.7M58.93 133.45h.7M62.64 130.63h.7M60.99 134.68h.7M63.23 133.88h.7M59.9 134.71h.7M59.34 132.84h.7M62.16 130.91h.7" stroke="rgb(144,192,60)" stroke-width=".7" stroke-opacity="0.9"/>
<path d="M65.13 131.1h.7M59.62 134.61h.7M64.81 132.26h.7M64.88 130.64h.7M60.08 132.31h.7M64.06 133.23h.7M63.95 133.32h.7M64.1 133.16h.7M64.12 130.37h.7M60.99 134.58h.7M60.69 131.9h.7M60.77 134.65h.7" stroke="rgb(156,192,60)" stroke-width=".7" stroke-opacity="0.9"/>
<path d="M60.48 132.11h.7M64.73 132.25h.7M59.34 134.4h.7M59.19 134.19h.7" stroke="rgb(156,192,48)" stroke-width=".7" stroke-opacity="0.9"/>
<path d="M60.55 134.47h.7M59.08 133.59h.7M63.3 130.65h.7M59.18 133.47h.7M63.86 133.22h.7M61.06 131.82h.7M63.74 130.56h.7M64.89 131.02h.7M61.02 134.44h.7M59.13 133.59h.7M64.81 130.8h.7M59.24 133.46h.7" stroke="rgb(168,192,48)" stroke-width=".7" stroke-opacity="0.9"/>
<path d="M64.82 131.78h.7" stroke="rgb(180,192,48)" stroke-width=".7" stroke-opacity="0.9"/>
<path d="M60.68 134.32h.7M62.9 130.91h.7M59.42 134.14h.7M59.7 133.08h.7M60.8 132.15h.7M64.37 130.71h.7M61.06 134.32h.7M64.38 130.65h.7M63.02 130.79h.7M60.84 132.04h.7M62.86 130.88h.7M59.26 133.81h.7M63.67 130.62h.7M64.88 131.21h.7M64.23 130.72h.7M59.87 132.87h.7M62.12 131.23h.7M64.18 130.7h.7M59.66 134.23h.7M59.36 133.35h.7M59.36 133.79h.7M60 134.33h.7M61.34 131.81h.7" stroke="rgb(180,204,48)" stroke-width=".7" stroke-opacity="0.9"/>
<path d="M59.71 133.14h.7M64.24 130.78h.7M64.28 130.79h.7M62.27 133.94h.7" stroke="rgb(192,204,48)" stroke-width=".7" stroke-opacity="0.9"/>
<path d="M64.56 131.05h.7M61.2 134.11h.7M64.61 131.25h.7M61.24 134.08h.7M64.42 132.27h.7M61.36 134.08h.7M61 134.11h.7M64.61 131.56h.7M63.03 133.57h.7M60.38 132.54h.7M59.96 132.88h.7M64.07 132.79h.7M60.12 132.73h.7M60.93 134.15h.7M61.78 131.62h.7M60.06 134.15h.7M64.5 131.98h.7M59.73 133.15h.7M59.59 133.44h.7M59.7 133.61h.7M60.8 132.23h.7" stroke="rgb(192,192,48)" stroke-width=".7" stroke-opacity="0.9"/>
<path d="M60.36 133.93h.7M64.13 132.42h.7M60.88 134.1h.7M60.12 133.09h.7M62.43 131.33h.7M60.18 133.97h.7M64.13 131.04h.7M60.99 132.26h.7M64.48 131.63h.7M63.97 132.74h.7M63.55 133.1h.7M63.72 132.92h.7M59.97 133.75h.7M64.49 131.78h.7M60.19 132.98h.7M60.57 132.61h.7" stroke="rgb(204,192,48)" stroke-width=".7" stroke-opacity="0.9"/>
<path d="M61.1 133.95h.7M64.09 131.11h.7M60.42 132.85h.7M60.1 133.76h.7M61.62 133.86h.7M63.95 132.59h.7M63.48 133.08h.7M63.86 131.02h.7M63.2 133.28h.7" stroke="rgb(204,192,36)" stroke-width=".7" stroke-opacity="0.9"/>
<path d="M61.06 132.44h.7M63.07 131.25h.7M64.2 131.64h.7M60.82 133.86h.7M62.09 133.65h.7M61.5 132.08h.7M60.78 133.68h.7M63.55 131.18h.7M60.86 132.59h.7M61.74 131.95h.7M63.95 132.36h.7M60.54 133.8h.7M60.65 133.57h.7M61.07 132.38h.7M62.76 131.33h.7M60.5 133.25h.7M64.17 132.01h.7M60.52 133.28h.7M64.29 131.44h.7M63.52 132.84h.7M60.7 132.92h.7M62.99 131.2h.7M62.1 133.61h.7M61.96 133.65h.7M63.48 132.9h.7M63.09 131.28h.7" stroke="rgb(216,192,36)" stroke-width=".7" stroke-opacity="0.9"/>
<path d="M62.1 131.82h.7" stroke="rgb(216,180,36)" stroke-width=".7" stroke-opacity="0.9"/>
<path d="M62.75 133.27h.7M63.29 131.32h.7M63.92 131.51h.7M62.78 133.25h.7M62.61 133.35h.7M62.89 133.23h.7M63.39 132.87h.7M60.76 133.46h.7" stroke="rgb(228,180,36)" stroke-width=".7" stroke-opacity="0.9"/>
<path d="M61.19 132.72h.7M63.64 131.43h.7M60.97 133.11h.7M63.43 132.78h.7M61.92 132.03h.7M61.3 132.59h.7M62.03 131.99h.7M63.92 131.68h.7M63.32 131.37h.7M63.72 132.44h.7M62.43 133.34h.7M63.08 131.46h.7M61.06 132.79h.7" stroke="rgb(228,168,36)" stroke-width=".7" stroke-opacity="0.9"/>
<path d="M61.39 133.28h.7M63.09 132.92h.7M63.06 131.5h.7M63.32 132.81h.7M61.67 132.37h.7M61.6 132.38h.7M62.74 133.13h.7M63.78 131.84h.7M62.08 133.28h.7" stroke="rgb(228,156,36)" stroke-width=".7" stroke-opacity="0.9"/>
<path d="M62.23 133.14h.7M63.61 132.1h.7M63.1 132.87h.7M61.7 133.23h.7M63.59 132.28h.7M63.55 132.26h.7M62.72 131.79h.7M61.98 133.26h.7M63.17 131.66h.7M61.43 132.8h.7" stroke="rgb(228,144,36)" stroke-width=".7" stroke-opacity="0.9"/>
<path d="M61.62 132.94h.7M62.86 132.93h.7M61.64 132.76h.7M61.64 132.82h.7" stroke="rgb(228,132,36)" stroke-width=".7" stroke-opacity="0.9"/>
<path d="M62 132.4h.7M62.64 131.91h.7" stroke="rgb(228,120,36)" stroke-width=".7" stroke-opacity="0.9"/>
<path d="M62.07 132.78h.7M62.34 132.26h.7M61.96 132.56h.7M63.33 132.25h.7M62.47 132.87h.7M62.74 132.82h.7M62.59 132.06h.7" stroke="rgb(228,108,36)" stroke-width=".7" stroke-opacity="0.9"/>
<path d="M63.12 132.46h.7" stroke="rgb(228,108,24)" stroke-width=".7" stroke-opacity="0.9"/>
<path d="M62.36 132.78h.7M63.19 132.32h.7M62.3 132.34h.7M63.16 132.35h.7M62.35 132.7h.7" stroke="rgb(228,96,24)" stroke-width=".7" stroke-opacity="0.9"/>
<path d="M62.5 132.63h.7M62.51 132.58h.7M62.85 132.18h.7M62.95 132.22h.7M62.66 132.33h.7" stroke="rgb(228,84,24)" stroke-width=".7" stroke-opacity="0.9"/>
</g>
<rect x="30" y="125" width="41.8" height="18.4" fill="none" stroke="#9a9a9a" stroke-width=".6"/>
<rect x="48.4" y="146.3" width="24.2" height="28.9" fill="none" stroke="#9a9a9a" stroke-width=".6"/>
<text x="46.4" y="121.6" font-size="4.6" textLength="7.5" lengthAdjust="spacingAndGlyphs" fill="#111" style="stroke-width:.06px">93.7</text>
<text x="31.7" y="162.9" font-size="4.6" textLength="7.3" lengthAdjust="spacingAndGlyphs" fill="#111" style="stroke-width:.06px">4.11</text>
<rect x="30" y="111.5" width="64.2" height="63.7" fill="none" stroke="#111" stroke-width="1.45"/>
<clipPath id="hc1"><rect x="104.2" y="110.6" width="64.4" height="64.7"/></clipPath>
<path clip-path="url(#hc1)" d="M104.3 175.2L106.5 174.7L109.24 173.5L111.6 172.1L113.6 169.42L115.4 167.1L116.03 164.77L116.74 162.51L117.4 160.4L117.65 158.33L118.56 155.79L118.8 153.7L119.36 150.74L119.44 148.28L119.9 145.3L120.46 142.49L120.62 139.66L120.8 136.9L121.44 134.03L121.49 131.17L122.1 128.5L122.58 125.72L123.14 122.77L123.3 120.1L124.08 117.06L124.5 113.7L125.05 116.76L125.3 120.1L125.36 122.75L125.73 125.79L126.1 128.5L126.19 131.28L126.43 134.16L127 136.9L126.93 139.81L127.4 142.39L127.5 145.3L127.89 148.05L128.05 150.92L128.3 153.7L128.56 155.9L129.27 158.3L129.5 160.4L130.04 162.66L130.39 164.74L130.5 167.1L131.79 169.89L132.5 173L134.2 174.7L136 175.3Z" fill="#dedede" stroke="#bdbdbd" stroke-width=".6"/>
<path clip-path="url(#hc1)" d="M104.4 175.2L105.7 175L108.16 174.41L109.9 173.5L111.9 172.31L114.1 170.8L117.4 168.8L120.8 167.1L123.3 164.1L125 160.4L126.7 157.9L127.5 153.7L128.35 150.99L128.5 148.37L128.8 146.1L129.35 143.33L129.75 140.78L130 138.5L130.31 135.93L130.63 133.22L131.2 130.2L132.2 126.8L133.4 122.6L133.77 119.48L134.2 116.7L135 113.7L135.99 115.86L136.2 118.4L136.75 120.87L137.53 122.9L137.6 125.1L137.74 127.65L138.4 130.2L138.48 132.87L138.77 135.57L139.2 138.5L139.08 141.44L139.36 144.14L140.1 146.9L140.35 149.78L140.91 152.49L141.2 155.3L141.82 158.14L142.29 160.95L142.3 163.7L143.19 166.85L143.4 169.6L145.6 172.5L149 173.8L152.7 174.7L155.44 174.69L157.79 174.64L160.55 175.03L163.19 174.81L165.12 175.2L168 175.2" fill="none" stroke="#111" stroke-width="1.25" stroke-linejoin="round"/>
<rect x="104.2" y="110.6" width="64.4" height="64.7" fill="none" stroke="#111" stroke-width="1.45"/>
<text x="29.3" y="192.8" font-size="8.3" textLength="29.4" lengthAdjust="spacingAndGlyphs" style="stroke-width:.22px">BiTE-like</text>
<g filter="url(#bl)">
<path d="M65.16 206.72h.7M70.33 205.84h.7M72.74 217.53h.7M62.15 209.47h.7M68.93 208.85h.7M72.15 216.42h.7M72.95 216.06h.7M71.14 217.22h.7M67.05 208.86h.7M67.85 209.19h.7M70.59 210.54h.7M47.59 227.44h.7M50.82 214.7h.7M51.47 227.61h.7M45.66 217.92h.7M47.93 227.72h.7M42 225.55h.7M55.81 226.76h.7M49.16 226.48h.7M75.75 210h.7M71.76 215.99h.7M46.75 230.57h.7M48.9 216.33h.7M42.52 220.52h.7M35.33 219.44h.7M44.23 224.28h.7M37.94 221.29h.7M44.33 217.85h.7M32.7 216.98h.7M35.56 219.38h.7M41 226.18h.7M36.03 221.38h.7M34.84 220.36h.7M41.67 222.71h.7M42.29 224.23h.7M34.04 228.21h.7M48.83 216.45h.7M42.59 217.58h.7M52.33 213.72h.7M70.28 221.75h.7M45.57 227.35h.7M37.19 214.78h.7M39.65 223.11h.7M41.14 222.77h.7M40.14 219.16h.7M40.87 222.17h.7M55.41 209.6h.7M38.72 216.89h.7M42.55 225.27h.7M47.69 225.77h.7M37.19 220.81h.7M33.79 226.59h.7M39.15 226.03h.7M46.32 211.31h.7M35.15 217.18h.7M38.54 224.37h.7M36.24 219.18h.7M32.66 221.89h.7M40.71 216.47h.7M45.31 213.38h.7M41.11 226.99h.7M38.61 226.43h.7M30.94 225.99h.7M43.09 217.08h.7M36.7 218.85h.7M50.08 230.19h.7M53.02 226.45h.7M47.62 217.51h.7M33.91 217.02h.7M52.46 227.21h.7M35.18 221.07h.7M47.15 213.69h.7M42.74 221.65h.7M35.25 216.68h.7M41.15 215.94h.7M39.63 223.85h.7M35.67 227.69h.7M42.83 217.01h.7M38.15 221.44h.7M37.59 220.45h.7M38.63 222h.7M42.05 219.58h.7M55.3 248.87h.7M52.03 242.58h.7M66.66 240.97h.7M67.05 237.83h.7M65.64 241.03h.7M65.34 237.03h.7M52.87 238.37h.7M53.29 238.96h.7M65.01 239.63h.7M56.51 227.3h.7M64.35 228.18h.7M66.05 247.79h.7M63.42 246.35h.7M62.01 250.84h.7M66.5 234.29h.7M66.34 236.76h.7M69.23 230.37h.7M66.11 234.72h.7M55.32 250.45h.7M62.9 248.2h.7M65.48 230.91h.7M55.15 232.3h.7M50.58 237.36h.7M58.98 257.03h.7M65.19 227.2h.7M43.31 256.85h.7M56.2 226.2h.7M65.06 233.68h.7M56.62 256.74h.7M65.1 247.09h.7M59.67 256.04h.7M54.35 229.59h.7M65.19 239.39h.7M55.6 255.77h.7M55.04 250.82h.7M49.14 251.01h.7M56.92 252.32h.7M55.73 253.29h.7M52.54 258.6h.7M66.61 246.1h.7M54.15 236.49h.7M54.67 248.3h.7M58.34 251.71h.7M69.82 251.38h.7M49.41 244.85h.7M54.51 248.59h.7M65.69 246.88h.7M61.38 258.09h.7M58.62 253.21h.7M56.24 253.4h.7M54.9 247.79h.7M57.02 253.82h.7M55.62 254.13h.7M53.11 241.3h.7M67.59 251.29h.7M66.36 249.66h.7M54.98 254.33h.7M55.99 256.04h.7M56.23 250.67h.7M53.87 258.64h.7M61.25 249.82h.7M62.99 257.79h.7M59.52 250.05h.7M52.59 243.65h.7M56.09 253.2h.7M51.93 250.51h.7M48.92 245.64h.7M65.82 235.44h.7M64.57 250.26h.7M50.29 213.23h.7M40.23 225.15h.7M43.37 212.27h.7M55.04 232.46h.7M58.17 257h.7M45.21 228.2h.7M48.68 236.07h.7M70.6 207.23h.7M65.32 231.7h.7M86.71 227.39h.7M53.04 244.29h.7M67.99 220.34h.7M71.2 226.65h.7" stroke="rgb(96,96,204)" stroke-width=".7" stroke-opacity="0.45"/>
<path d="M45.05 218.85h.7M41.62 223.32h.7M40 224.54h.7M63.09 226.13h.7M62.56 247.24h.7M63.48 244.23h.7M64.91 236.92h.7M52.82 242.47h.7M52.98 242.15h.7" stroke="rgb(84,96,204)" stroke-width=".7" stroke-opacity="0.45"/>
<path d="M69.53 211.9h.7M52.87 224.29h.7M68.06 210.7h.7M68.5 218.11h.7M68.72 210.09h.7M65.88 210.21h.7M62.55 210.22h.7M68.92 217.38h.7M69.86 211.17h.7M68.77 211.1h.7M64.12 223.13h.7M69.12 211.04h.7M68.1 210.59h.7M49.07 224.05h.7M63.61 222.58h.7M57.71 225.07h.7M44.54 222.64h.7M50.2 225.3h.7M70.95 213.82h.7M51.65 225.37h.7M47.6 224.81h.7M62.55 223.7h.7M47.18 223.19h.7M45.54 224.22h.7M54.68 214.3h.7M45.43 221.97h.7M56 213.11h.7M50.4 225.03h.7M62.68 223.77h.7M47.54 218.64h.7M46.47 224.13h.7M52.8 225.18h.7M48.65 218.61h.7M53.22 225.87h.7M50.45 216.33h.7M53.89 214.26h.7M45.59 219.23h.7M57.6 224.49h.7M48.63 224.7h.7M46.77 219.15h.7M58.07 212.82h.7M51.38 215.41h.7M51.6 224.9h.7M45.7 221.49h.7M45.46 221.07h.7M46.85 223.13h.7M44.18 221.73h.7M40.87 224.25h.7M62.14 224.29h.7M40.23 224.45h.7M43.68 223.08h.7M50.25 225.12h.7M44.51 222.88h.7M45.8 223.98h.7M62.1 224.74h.7M44.78 221.26h.7M52.51 225.58h.7M53.43 224.96h.7M55.49 213.89h.7M47.38 223.49h.7M46.12 223.47h.7M49.95 217.3h.7M44.6 220.02h.7M62.56 223.1h.7M44.59 220.37h.7M62.41 223.79h.7M57.03 228.75h.7M62.31 244.66h.7M63.21 239.07h.7M62.9 240.4h.7M62.99 235.52h.7M59.89 247.92h.7M63.9 235.51h.7M64.52 240.31h.7M55.93 225.22h.7M58.38 249.05h.7M56.12 233.26h.7M64.58 230.87h.7M56.82 246.81h.7M57.61 249.56h.7M54.95 236.99h.7M56.55 245.36h.7M55.92 245.28h.7M57.58 247.63h.7M63.76 241.7h.7M60.4 248.43h.7M64.59 236.09h.7M62.13 246.13h.7M54.64 237.21h.7M54.14 241.81h.7M59.3 248.38h.7M63.07 238.1h.7M57.63 227.28h.7M54.73 245.43h.7M63.79 233.17h.7M55.94 246.19h.7M62.94 237.56h.7M64.25 233.23h.7M58.91 248.52h.7M63.32 235.75h.7M55.38 236.16h.7M64.07 234.13h.7M55.76 243.68h.7M58.36 249.23h.7M58.45 247.48h.7M63.15 237.64h.7M61.91 245.01h.7M54.75 244.29h.7M55.33 232.74h.7M62.51 246.71h.7M54.91 241.57h.7M55.98 247.72h.7M64.07 241.07h.7M55.59 243.54h.7M56.04 244.59h.7M58.76 249.13h.7M55.58 233.43h.7M54.62 241.89h.7M57.43 224.55h.7M58.93 249.82h.7M63.08 243.58h.7M54.78 243.8h.7M54.21 244.57h.7M54.33 243.47h.7M61.75 246.5h.7M56.64 245.82h.7M57.03 247.11h.7M59.12 247.94h.7M54.26 240.58h.7M62.84 242.19h.7M53.49 243.66h.7M63.08 241.13h.7M57.31 224.63h.7" stroke="rgb(84,84,204)" stroke-width=".7" stroke-opacity="0.45"/>
<path d="M68.32 217.84h.7M65.77 220.64h.7M58.54 212.61h.7M69.98 215.18h.7M52.3 223.96h.7M51.15 216.61h.7M51.18 223.69h.7M53.02 223.47h.7M50.36 223.46h.7M52.69 223.71h.7M46.58 220.97h.7M50.27 224.06h.7M51.09 216.69h.7M49.41 218.82h.7M60.31 223.7h.7M46.37 221.62h.7M46.75 220.08h.7M47.2 220.2h.7M56.01 223.69h.7M50.68 223.53h.7M47.17 219.89h.7M46.66 221.63h.7M56.89 224.18h.7M48.5 223.24h.7M46.77 221.56h.7M49.99 217.6h.7M60.21 226.02h.7M61.02 223.41h.7M61.15 223.74h.7M63.67 230.99h.7M60.24 224.06h.7M59.13 226.33h.7M62.44 235.57h.7M62.72 234.02h.7M60.69 223.78h.7M57.91 245.36h.7M57.42 245.94h.7M62.38 238.47h.7M56.44 232.66h.7M60.57 245.81h.7M62.02 236.61h.7M62.68 239.19h.7M59 246.33h.7M62.24 235.75h.7M62.41 237.58h.7M57.64 245.31h.7M57.97 245.52h.7M60.75 246.23h.7M62.16 234.28h.7M59.78 246.43h.7M61.85 243.48h.7M57.16 243.76h.7M62.75 240.72h.7M60.04 246.21h.7M58.84 246.84h.7M58.13 244.96h.7M60.17 246.59h.7M61.71 244.54h.7M61.18 244.59h.7M58.29 245.81h.7M55.76 243.67h.7M58.46 246.01h.7M55.21 238.49h.7M56.89 243.4h.7M58.65 246.2h.7M61.02 245.39h.7M62.63 238.73h.7M60.76 245.61h.7M51.77 215.88h.7M66.21 220.22h.7" stroke="rgb(84,84,192)" stroke-width=".7" stroke-opacity="0.45"/>
<path d="M62.49 210.99h.7M64.27 210.78h.7M69.84 214.89h.7M59.42 223.75h.7M49.25 219.05h.7M51.57 216.39h.7M48.07 220.19h.7M61.08 226.43h.7M61.48 234.98h.7M61.67 236.14h.7M61.84 242.92h.7M61.38 243.84h.7M55.94 241.5h.7M63.05 232.15h.7M59.59 244.35h.7M61.84 240.53h.7M61.89 237.02h.7M60.4 244.88h.7" stroke="rgb(72,84,192)" stroke-width=".7" stroke-opacity="0.45"/>
<path d="M58.93 223.17h.7M64.45 221h.7M59.91 212.34h.7M62.52 222.33h.7M68.13 217.22h.7M61.02 222.47h.7M61.05 211.64h.7M68.86 212.82h.7M64.29 210.9h.7M68.92 215.77h.7M59.84 212.2h.7M64.39 211.05h.7M63.34 210.88h.7M49.94 219.68h.7M52.7 216.32h.7M47.45 221.52h.7M55.46 223.36h.7M51.81 216.75h.7M50.01 221.44h.7M53.04 216.15h.7M52.75 221.99h.7M67.33 211.86h.7M50.66 219.53h.7M49.7 220.44h.7M49.93 219.41h.7M52.76 222.14h.7M49.25 220.65h.7M50.22 219.21h.7M52.99 222.8h.7M50.09 222.77h.7M51.72 221.5h.7M56.78 214.33h.7M54.45 223.01h.7M49.34 220.11h.7M50.61 219.26h.7M50.57 222.98h.7M51.13 221.2h.7M48.77 220.53h.7M49.83 222.31h.7M49.68 222.79h.7M50.39 222.57h.7M52.02 216.63h.7M55.97 214.56h.7M51.64 221.54h.7M49.45 220.51h.7M50.02 222.97h.7M58.43 213.34h.7M53.06 222.43h.7M47.64 221.76h.7M50.34 218.99h.7M48.78 221.23h.7M49.22 221.63h.7M47.67 221.71h.7M49.75 220.85h.7M48.71 222.37h.7M50.45 221.12h.7M47.53 221.41h.7M48.03 221.49h.7M51.42 217.01h.7M50.27 222.14h.7M63.43 229.99h.7M59.54 226.97h.7M58.46 228.44h.7M60.46 226.54h.7M60.48 226.77h.7M58.08 230.34h.7M63.45 229.96h.7M62.15 227.48h.7M62.5 232.19h.7M63.08 230.91h.7M58.05 230.23h.7M59.31 226.93h.7M60.26 236.56h.7M59.19 227.09h.7M60.32 237.22h.7M56.66 234.32h.7M59.71 238.43h.7M59.83 236.99h.7M60.69 238.22h.7M60.63 236.81h.7M57.14 240.62h.7M60.03 237.98h.7M59.26 237.25h.7M59.78 242.12h.7M57.84 230.54h.7M57.28 235.7h.7M60.49 241.1h.7M56.42 237.96h.7M56.68 237.07h.7M59.1 242.47h.7M61.66 242.29h.7M56.93 235.05h.7M60.04 241.68h.7M59.81 234.74h.7M55.62 239.05h.7M59.87 238.17h.7M61.39 233.94h.7M59.23 237.96h.7M55.86 238.71h.7M58.25 242.33h.7M56.92 240.89h.7M61.25 238.23h.7M61.5 241.87h.7M56.12 238h.7M58.68 227.52h.7M60.25 242.98h.7M59.09 240.14h.7M61.04 239.43h.7M56.61 242.14h.7M56.42 237.96h.7M56.55 238.39h.7M60.61 236.89h.7M60.5 243.13h.7M60.96 238.64h.7M60.15 239.56h.7M60.12 237.96h.7M56.97 233.49h.7M63.27 230.22h.7M56.82 241.93h.7M61.32 240.99h.7M57.53 241.85h.7M60.52 236.03h.7M61.33 234.45h.7M60.46 236.39h.7M56.64 240.94h.7M60.23 243.25h.7M57.37 236h.7M56.12 240.92h.7M61.09 241.94h.7M57.09 242.61h.7M56.51 241.97h.7M57.74 240.82h.7M59.6 241.63h.7M57.16 234.84h.7M57.73 241.56h.7M55.87 240.86h.7M58.97 241.69h.7M61.8 233.37h.7M56.55 237.53h.7M58.3 242.91h.7M60.8 243.29h.7M60.18 236.16h.7M59.54 242.39h.7M60.65 235.09h.7M56.36 240.25h.7M61.11 240.3h.7M60.2 240.44h.7M56.33 239.38h.7M59.04 241.78h.7M61.54 239.94h.7M60.92 242.53h.7M58.78 240.96h.7M59.45 243.03h.7M61.03 242.53h.7M59.79 242.64h.7M61.93 242.08h.7M57.13 241.73h.7M61.62 240.66h.7M60.12 241.8h.7M59.59 239h.7M56.54 235.98h.7M58.93 241.07h.7M60.16 243.55h.7M56.7 237.44h.7M55.92 239.75h.7" stroke="rgb(72,72,192)" stroke-width=".7" stroke-opacity="0.45"/>
<path d="M67.81 212.16h.7M68.99 213.11h.7M53.51 222.29h.7M68.43 212.44h.7M66 211.6h.7M51.76 221.3h.7M54.31 222.53h.7M59.39 227.41h.7M62.72 231.2h.7M59.62 227.3h.7M58.4 240.02h.7M57.44 234.76h.7M57.66 236.55h.7M58.67 237.39h.7M61.31 233.03h.7M57.69 232.58h.7M57.57 236.57h.7M57.39 237.1h.7M56.66 238.02h.7M57.65 235.31h.7M57.48 236.94h.7M58.74 237.42h.7M58.3 239.94h.7M58.53 239.66h.7M58.48 237.13h.7" stroke="rgb(60,72,192)" stroke-width=".7" stroke-opacity="0.45"/>
<path d="M67.77 212.19h.7M51.12 219.6h.7M61.53 232.74h.7M58.12 231.2h.7M58.68 238.36h.7M56.9 238.87h.7M58.83 235.21h.7M56.9 238.62h.7M57.75 234.92h.7M58.35 235.47h.7M57.49 234.19h.7M58.14 239.82h.7" stroke="rgb(60,72,180)" stroke-width=".7" stroke-opacity="0.45"/>
<path d="M68.44 212.64h.7M62.95 221.44h.7M68.02 216.72h.7M68.98 213.87h.7M64.21 211.42h.7M68.68 213.35h.7M68.74 213.65h.7M65 220.16h.7M64.08 211.46h.7M69.02 214.81h.7M69.12 214.54h.7M65.78 211.76h.7M66.47 212.01h.7M68.75 214.62h.7M68.86 213.88h.7M68.85 214.49h.7M66.64 218.51h.7M52.99 216.73h.7M66.49 211.81h.7M54.84 215.76h.7M66.85 218.53h.7M53.9 215.95h.7M56.44 214.81h.7M59.71 222.63h.7M64.66 220.47h.7M51.9 220.9h.7M51.87 220.6h.7M58.81 222.81h.7M60.11 222.62h.7M53.09 221.44h.7M53.04 216.64h.7M51.52 220.04h.7M51.91 219.05h.7M52.11 220.08h.7M51.43 218.87h.7M61.98 228.12h.7M59.7 227.73h.7M57.67 233.87h.7M59.88 227.66h.7M58.78 229.31h.7M59.59 227.68h.7M60.21 233.21h.7M59.33 228.08h.7M61.56 227.97h.7M58.99 228.96h.7M62.57 230.23h.7M60.63 227.53h.7M61.77 228.22h.7M62.26 231.43h.7M58.16 232.05h.7M57.12 238.69h.7M57.13 238.59h.7M57.65 234.43h.7M58.39 233.36h.7M59.1 234.73h.7M57.99 233.85h.7M62.54 228.99h.7M58.64 233.7h.7M58.29 230.61h.7M58.04 234.56h.7M59.65 233.93h.7M57 239.14h.7M57.78 234.27h.7M59.04 228.87h.7M58.38 232.27h.7M59.8 233.67h.7M57.66 239.17h.7M58.16 232.87h.7M62.25 231.62h.7M57.57 239.07h.7M61.53 227.92h.7M58.35 230.87h.7M57.88 238.19h.7M57.66 238.74h.7M57.83 239.66h.7M57.83 233.97h.7M65.13 220.06h.7M57.67 234.67h.7" stroke="rgb(60,60,180)" stroke-width=".7" stroke-opacity="0.45"/>
<path d="M67.58 212.7h.7M57.68 222.65h.7M65.31 211.92h.7M56.21 215.21h.7M65.07 219.92h.7M53.11 216.88h.7M54.88 215.85h.7M52.14 218.79h.7M53.34 216.7h.7M52.2 218.85h.7M61.47 231.81h.7M58.98 233.21h.7M58.91 233.22h.7M60.5 227.8h.7M61.37 231.88h.7M60.92 227.99h.7M61.99 228.79h.7M61.79 228.46h.7M58.76 230.43h.7M59.15 233.39h.7M61.96 231.21h.7M59.6 233.09h.7M60.12 232.89h.7" stroke="rgb(48,60,180)" stroke-width=".7" stroke-opacity="0.45"/>
<path d="M68.02 215.97h.7M61.73 212.09h.7M68.4 215.26h.7M68.38 213.78h.7M68.01 216.11h.7M52.68 220.32h.7M52.25 219.4h.7M55.66 215.54h.7M62.05 229.1h.7M62.01 229.28h.7M58.9 231.93h.7M59.72 232.79h.7M59.69 228.33h.7M60.2 232.57h.7M58.89 232.79h.7M59.35 232.99h.7M60.35 228.06h.7M59.17 233.12h.7M61.88 231.09h.7M60.65 228.05h.7" stroke="rgb(48,48,180)" stroke-width=".7" stroke-opacity="0.45"/>
<path d="M54.59 221.68h.7M65.49 219.21h.7M52.71 218.02h.7M68.3 214.28h.7M67.31 217.1h.7M68.02 213.47h.7M59.59 222.09h.7M59.5 222.1h.7M56.98 222.44h.7M62.97 221.02h.7M59.14 222.29h.7M58.34 214.17h.7M55.1 215.94h.7M52.66 218.08h.7M59.42 232.63h.7M61.91 229.64h.7M61.75 229.19h.7M61.91 229.3h.7M61.92 229.18h.7M61.17 231.64h.7M59.45 232.17h.7" stroke="rgb(48,48,168)" stroke-width=".7" stroke-opacity="0.45"/>
<path d="M54.13 217.4h.7M68.05 214.27h.7M54.45 221h.7M59.09 221.81h.7M64.92 212.48h.7M56.89 222.15h.7M57.59 222.13h.7M62.04 220.88h.7M56.41 221.86h.7M67.89 214.74h.7M60.79 221.31h.7M57.36 222.33h.7M61.11 212.64h.7M68.22 214.37h.7M58.54 214.19h.7M67.52 214.08h.7M54.51 221.27h.7M62.97 220.83h.7M66.24 217.84h.7M63.16 212.01h.7M64.23 220.21h.7M67.93 213.96h.7M67.45 214.07h.7M59.03 213.96h.7M57 215.65h.7M61.48 221.28h.7M67.97 213.48h.7M61.62 212.5h.7M65.39 212.39h.7M66.37 218.1h.7M54.21 217.2h.7M58.73 214.08h.7M67.09 217.33h.7M67.28 216.69h.7M65.56 212.68h.7M57.84 222.33h.7M56.52 215.65h.7M66.62 213.25h.7M68.08 213.73h.7M64.69 219.69h.7M65.13 219.26h.7M65.71 218.66h.7M58.04 222.16h.7M52.76 219.09h.7M60.26 221.68h.7M54.98 221.49h.7M53.3 218.44h.7M53.35 218.8h.7M54.65 216.63h.7M53.39 218.73h.7M55.76 216.31h.7M53.33 217.69h.7M54.11 221.01h.7M54.82 216.87h.7M53.69 220.07h.7M54.58 220.97h.7M56.17 221.96h.7M53.33 218.53h.7M68 214.49h.7M53.85 217.55h.7M54.21 216.67h.7M56.57 215.38h.7M53.22 219.36h.7M54.69 216.77h.7M55.87 222.1h.7M55.43 215.95h.7M53.74 219.94h.7M52.99 217.93h.7M67.74 214.9h.7M56.81 221.93h.7M67.92 213.58h.7M54.63 221.21h.7M53.44 218.39h.7M58 214.58h.7M54.83 221.5h.7M56.34 222.02h.7M56.88 221.94h.7M56.62 215.54h.7M53.58 220h.7M66.23 218.18h.7M59.43 230.71h.7M61.2 230.36h.7M59.62 231.22h.7M60.85 230.63h.7M59.36 230.28h.7M59.44 230.21h.7M60.65 229.19h.7M61.74 229.92h.7M61.48 230.05h.7M60.11 230.63h.7M61.14 229.56h.7M60.12 230.88h.7M59.8 230.92h.7M61.11 230.71h.7M61.27 229.27h.7M60.82 229.39h.7M61.25 229.93h.7M59.54 231.32h.7M60.52 228.49h.7M61.2 230.52h.7M61.3 229.19h.7M61.67 230.09h.7M60.18 230.64h.7M59.82 230.8h.7M59.32 230.44h.7M61.37 231.01h.7M60.23 229.69h.7M60.05 231.7h.7M60.01 230.08h.7M59.38 231.56h.7M60.25 228.66h.7M60.47 231.68h.7M59.44 231.83h.7M60.87 231.19h.7M59.61 229.78h.7M60.44 228.66h.7M60.02 228.72h.7M60.24 230.33h.7" stroke="rgb(36,48,168)" stroke-width=".7" stroke-opacity="0.7"/>
<path d="M65.25 218.59h.7M56.88 221.65h.7M64.94 212.68h.7M67.42 215.08h.7M66.27 217.53h.7M58.75 221.51h.7M66.75 216.89h.7M66.47 217.26h.7M67.04 215.69h.7M63.86 219.82h.7M66.62 213.33h.7M66.91 216.58h.7M53.99 218.68h.7M55.42 221.25h.7M53.96 218.71h.7M60.67 213.25h.7M54.74 217.02h.7M54.47 220.73h.7M66.78 216.71h.7M53.64 219.36h.7M54.05 217.84h.7M65.86 212.95h.7M55.54 221.26h.7M56.06 221.35h.7M65.49 218.39h.7M61.08 221.06h.7M64.41 219.63h.7M58.42 221.57h.7M54.44 220.19h.7M54.34 220.27h.7M54.83 217.32h.7M53.76 219.96h.7M62.72 220.59h.7M56.05 216.22h.7M54.51 220.73h.7M54.32 220.63h.7M58.58 221.54h.7M53.88 218.69h.7M55.56 221.36h.7M57.09 215.83h.7M55.59 221.4h.7M53.82 219.24h.7M55.64 216.62h.7" stroke="rgb(36,60,168)" stroke-width=".7" stroke-opacity="0.7"/>
<path d="M59.14 214.46h.7M64.13 212.67h.7M55.52 216.95h.7M61.47 212.86h.7M56.86 221.28h.7M63.83 219.7h.7M62.98 220.28h.7M64.9 212.8h.7M64.05 212.61h.7M65.89 213.27h.7M66.67 216.66h.7M55.87 216.68h.7M54.11 219.43h.7M64.2 219.49h.7M65.28 213.02h.7M64.93 212.89h.7M54.42 218.5h.7M54.27 219.65h.7M54.82 217.71h.7M58.51 221.39h.7M54.58 220.18h.7M54.15 218.55h.7M55.83 220.96h.7M56.4 221.18h.7" stroke="rgb(36,60,180)" stroke-width=".7" stroke-opacity="0.7"/>
<path d="M59.23 220.95h.7M62.55 220.22h.7M66.8 214.57h.7M58 215.46h.7M63.42 212.66h.7M66.61 214.61h.7M64.01 219.29h.7M64.63 213.03h.7M66.33 214.24h.7M55.33 220.37h.7M56.63 220.97h.7M66.26 217.04h.7M60.51 213.67h.7M55.04 218.88h.7M61.07 213.18h.7M65.86 217.54h.7M66.74 215.19h.7M61.68 212.92h.7M59.13 220.98h.7M57.54 221.23h.7M61.66 213.06h.7M59.33 220.91h.7M66.27 213.74h.7M54.94 218.32h.7M66.34 214.33h.7M66.16 217.24h.7M58.47 221.23h.7M55 218.75h.7M64.22 212.85h.7M66.51 214.66h.7M66.77 214.36h.7M56.37 220.64h.7M55.16 220.23h.7M55.17 217.59h.7M55.17 218.33h.7M66.36 216.85h.7M56.83 221.03h.7M57.05 216.46h.7M58.33 215.38h.7M56.59 216.67h.7M65.94 217.16h.7M55.1 220.13h.7M55.15 219.42h.7" stroke="rgb(36,72,180)" stroke-width=".7" stroke-opacity="0.7"/>
<path d="M62.74 212.92h.7M61.81 220.35h.7M57.45 216.21h.7M62.07 220.25h.7M66.48 215.7h.7M62.92 219.95h.7M56.58 220.61h.7M65.66 213.69h.7M66.07 214.15h.7M58.62 215.25h.7M55.74 220.01h.7M55.83 217.57h.7M55.68 217.73h.7" stroke="rgb(24,72,180)" stroke-width=".7" stroke-opacity="0.7"/>
<path d="M64.81 218.33h.7M62.01 220.22h.7M55.5 218.67h.7M61.01 220.42h.7M59.8 214.32h.7M55.51 218.62h.7M58.27 220.97h.7M66.3 216.14h.7M55.48 218.89h.7" stroke="rgb(24,84,180)" stroke-width=".7" stroke-opacity="0.7"/>
<path d="M66.19 216.1h.7M60.99 213.59h.7M62.62 213.04h.7M62.45 213.07h.7M56.07 219.97h.7M61.93 213.18h.7M55.58 218.68h.7M61.82 220.2h.7M65.41 213.69h.7M57.92 220.82h.7" stroke="rgb(36,84,180)" stroke-width=".7" stroke-opacity="0.7"/>
<path d="M57.26 216.75h.7M64.2 213.22h.7M62.77 213.09h.7M63.25 213.1h.7M57.58 220.63h.7M64.38 213.26h.7M59.65 214.62h.7M57.59 216.4h.7M58.94 215.23h.7M66.16 215.88h.7M65.95 214.51h.7M57.3 220.52h.7M65.83 216.86h.7M56.27 217.69h.7M60.21 220.46h.7M55.83 218.41h.7M56.88 217.17h.7M58.35 220.68h.7M58.95 220.62h.7" stroke="rgb(36,96,180)" stroke-width=".7" stroke-opacity="0.7"/>
<path d="M64.47 218.41h.7M56.33 217.85h.7M59.85 214.5h.7M56.21 219.51h.7M56.2 219.48h.7M56.17 218.15h.7" stroke="rgb(36,96,168)" stroke-width=".7" stroke-opacity="0.7"/>
<path d="M66.02 215.14h.7M64.04 218.76h.7M62.19 219.88h.7M58.95 220.53h.7M56.78 217.54h.7M63.65 219.14h.7M56.37 218.19h.7M56.28 218.16h.7M59.48 214.86h.7M56.38 219.19h.7M66.04 215.31h.7M62.25 213.21h.7M60.34 214.23h.7M65.2 217.43h.7M56.79 217.45h.7M58.56 220.59h.7M57.53 216.59h.7M56.09 218.94h.7M58.85 220.57h.7M61.01 213.7h.7M61.3 213.61h.7M65.91 214.75h.7M56.65 219.84h.7M56.39 217.9h.7M61.74 213.44h.7M64.48 218.3h.7" stroke="rgb(36,108,168)" stroke-width=".7" stroke-opacity="0.9"/>
<path d="M63.58 213.31h.7M57.69 216.64h.7M56.88 217.84h.7M65.7 216.33h.7M57.19 217.15h.7M63.73 213.27h.7M65.83 215.09h.7M56.52 218.59h.7M57.73 220.25h.7M56.54 219.09h.7M57.31 220.02h.7M59.16 215.27h.7M58.16 220.42h.7M60.6 214.06h.7M56.63 218.65h.7M57.42 220.07h.7M57.38 217.11h.7M65.49 214.4h.7" stroke="rgb(36,120,168)" stroke-width=".7" stroke-opacity="0.9"/>
<path d="M57.42 219.86h.7M58.99 220.2h.7M65.13 217.19h.7M59.88 220.16h.7M57.07 219.6h.7M57.31 219.88h.7M61.29 213.82h.7M62.22 219.68h.7M65.24 217.04h.7M64.47 218.05h.7M63.24 219.15h.7M58.84 220.19h.7M63.44 218.97h.7M56.82 219.27h.7M57.99 220.05h.7M57.55 219.86h.7M62.9 219.36h.7" stroke="rgb(36,132,168)" stroke-width=".7" stroke-opacity="0.9"/>
<path d="M63.26 219.09h.7M57.14 217.8h.7M65.61 215.99h.7M57.02 219.12h.7M62.59 213.47h.7M57.76 217h.7M57.3 219.37h.7M58.63 216.03h.7M57.06 218.5h.7M62.59 219.45h.7" stroke="rgb(36,144,168)" stroke-width=".7" stroke-opacity="0.9"/>
<path d="M65.26 214.54h.7M64.22 213.71h.7M60.84 219.9h.7M60.48 219.96h.7M64.88 214.13h.7M59.09 220.05h.7M62.39 219.53h.7" stroke="rgb(36,144,156)" stroke-width=".7" stroke-opacity="0.9"/>
<path d="M60.86 219.87h.7M62.01 213.64h.7M64.88 214.19h.7M61.07 219.86h.7M57.96 216.93h.7M61.21 214h.7M60.1 219.96h.7M58.05 216.79h.7" stroke="rgb(48,144,156)" stroke-width=".7" stroke-opacity="0.9"/>
<path d="M61.35 213.93h.7" stroke="rgb(48,144,144)" stroke-width=".7" stroke-opacity="0.9"/>
<path d="M63.07 213.56h.7M65.34 215.04h.7M61.59 219.66h.7M65.03 216.86h.7M64.58 214.01h.7M62.78 219.22h.7M57.82 217.2h.7M57.49 219.12h.7M57.39 218.13h.7" stroke="rgb(48,156,144)" stroke-width=".7" stroke-opacity="0.9"/>
<path d="M59.63 219.85h.7M57.98 219.5h.7" stroke="rgb(48,156,132)" stroke-width=".7" stroke-opacity="0.9"/>
<path d="M64.73 214.3h.7M58.74 219.75h.7M57.52 218.14h.7M59.62 215.32h.7M65.29 215.95h.7M65.29 215.66h.7M63.56 218.56h.7M62.46 219.31h.7M58.09 219.42h.7M65.33 215.92h.7" stroke="rgb(60,156,132)" stroke-width=".7" stroke-opacity="0.9"/>
<path d="M57.72 217.86h.7M64.14 213.95h.7M64.74 217.04h.7M65.23 215.46h.7M58.07 217.19h.7M63.25 218.71h.7M60.44 219.67h.7M64.93 214.58h.7M61.71 219.54h.7M61.47 214.02h.7M58.78 216.3h.7M59.14 215.87h.7M57.67 218.19h.7M58.28 219.41h.7M59.68 215.38h.7M57.9 219.19h.7M60.78 214.46h.7M61.29 219.61h.7" stroke="rgb(60,156,120)" stroke-width=".7" stroke-opacity="0.9"/>
<path d="M58.26 219.34h.7" stroke="rgb(60,156,108)" stroke-width=".7" stroke-opacity="0.9"/>
<path d="M63.07 213.75h.7M58.41 219.38h.7M60.16 219.65h.7" stroke="rgb(60,168,108)" stroke-width=".7" stroke-opacity="0.9"/>
<path d="M57.95 218.78h.7M64.58 214.35h.7M57.83 218.46h.7M64.71 214.54h.7M58.72 219.42h.7M58.85 219.51h.7M63.37 213.84h.7M58.05 219.05h.7M58.72 219.45h.7M63.67 213.88h.7M64.88 214.8h.7M62.1 219.32h.7M62.67 219.04h.7M64.8 216.83h.7M62.73 219.02h.7M64.96 214.9h.7M58 217.75h.7" stroke="rgb(72,168,108)" stroke-width=".7" stroke-opacity="0.9"/>
<path d="M58.5 217.01h.7M65.07 215.64h.7M60.6 214.72h.7M59 219.5h.7M60.09 215.2h.7M62.34 213.94h.7M60.46 219.55h.7M60.82 214.62h.7M60.63 219.46h.7M62.88 213.83h.7M64.27 217.46h.7M58.58 219.13h.7M64.1 214.09h.7M62.24 213.89h.7M59.5 215.67h.7M62.75 213.83h.7" stroke="rgb(72,168,96)" stroke-width=".7" stroke-opacity="0.9"/>
<path d="M58.24 217.69h.7M63.91 214.12h.7M62.98 218.68h.7M61.91 214.08h.7" stroke="rgb(84,168,96)" stroke-width=".7" stroke-opacity="0.9"/>
<path d="M64.77 216.38h.7M64.83 216.06h.7M64.72 216.26h.7M63.31 218.35h.7M59.37 219.28h.7M60.09 215.29h.7M63.03 218.56h.7M64.58 216.62h.7M63.74 214.1h.7M63.93 214.28h.7M59.82 219.35h.7M63.74 217.86h.7M60.71 214.84h.7M58.48 217.25h.7M59.32 216.1h.7M59.78 215.55h.7M58.55 217.25h.7" stroke="rgb(84,168,84)" stroke-width=".7" stroke-opacity="0.9"/>
<path d="M64.43 214.73h.7M64.57 216.61h.7M61.5 214.39h.7M62.96 218.52h.7M60.97 219.3h.7M59.03 219.04h.7M58.45 217.76h.7M58.86 218.93h.7M60.44 215.1h.7" stroke="rgb(84,180,84)" stroke-width=".7" stroke-opacity="0.9"/>
<path d="M59.95 215.59h.7M64.64 216.23h.7M61.68 219.12h.7M64.49 216.66h.7M63.46 214.19h.7M64.39 216.88h.7M62.28 218.85h.7M58.54 217.9h.7" stroke="rgb(96,180,84)" stroke-width=".7" stroke-opacity="0.9"/>
<path d="M58.88 218.44h.7M60.04 219.16h.7M61.79 214.41h.7M59.07 218.67h.7M64.26 216.9h.7M64.1 214.72h.7M64.45 216.5h.7M58.81 217.38h.7M60.67 219.17h.7M58.88 217.09h.7M58.75 217.68h.7M59.01 216.87h.7M60.24 219.18h.7" stroke="rgb(96,180,72)" stroke-width=".7" stroke-opacity="0.9"/>
<path d="M62.4 214.31h.7M58.91 218.24h.7M63.86 214.69h.7M62.47 214.38h.7M61.92 218.86h.7M62.24 214.42h.7M63.13 214.42h.7M64.05 214.71h.7M60.49 219.03h.7M64.19 214.89h.7M64.38 216.21h.7M61.92 218.84h.7M63.5 217.73h.7M58.97 218.41h.7M61.52 218.88h.7M59.77 218.87h.7M58.9 218.33h.7M58.87 217.47h.7M64.34 215.33h.7" stroke="rgb(108,180,72)" stroke-width=".7" stroke-opacity="0.9"/>
<path d="M59.22 216.95h.7M59.83 216.06h.7M64.08 216.74h.7M60.24 218.92h.7M62.72 214.39h.7M60 215.86h.7M59.86 218.81h.7M59.47 218.6h.7M63.41 217.68h.7M59.8 216.08h.7" stroke="rgb(108,180,60)" stroke-width=".7" stroke-opacity="0.9"/>
<path d="M63.9 214.85h.7M60.07 218.77h.7M61.96 214.58h.7M61.31 218.85h.7M61.73 214.7h.7M59.23 217.15h.7M59.29 217.01h.7" stroke="rgb(120,180,60)" stroke-width=".7" stroke-opacity="0.9"/>
<path d="M63.8 214.94h.7M60.12 215.92h.7M62.34 218.41h.7M63.24 217.71h.7M63.65 217.23h.7" stroke="rgb(120,192,60)" stroke-width=".7" stroke-opacity="0.9"/>
<path d="M59.59 216.67h.7M64.04 216.39h.7M59.36 217.85h.7M61.9 218.59h.7M63.56 214.9h.7M62.69 218.13h.7M64.05 215.85h.7M62.26 218.37h.7M61.76 214.73h.7M62.48 214.64h.7M63.93 216.66h.7M63.85 216.8h.7M59.9 216.22h.7M63.46 214.75h.7M63.89 215.24h.7M64.07 216.18h.7M62.15 214.65h.7M59.42 218h.7M60.29 218.64h.7M59.57 218.24h.7M60.55 218.66h.7M59.59 216.78h.7" stroke="rgb(132,192,60)" stroke-width=".7" stroke-opacity="0.9"/>
<path d="M59.59 217.15h.7M63.98 216.12h.7M61.67 218.53h.7M61.58 215.02h.7M61.9 214.83h.7M63.16 214.79h.7M63.93 215.51h.7M63.16 217.47h.7M60.24 216.05h.7M60 216.29h.7M60.36 215.94h.7M62.17 218.35h.7M59.75 216.74h.7M61.5 215.01h.7M60.65 215.57h.7M63.67 216.83h.7M59.54 217.69h.7" stroke="rgb(144,192,60)" stroke-width=".7" stroke-opacity="0.9"/>
<path d="M60.25 216.17h.7M63.61 215.19h.7M63.84 216.18h.7M60.03 216.37h.7M59.6 217.32h.7M61.5 215.1h.7M59.75 218.06h.7M60.79 218.5h.7M62.97 217.64h.7M59.92 218.17h.7M59.71 217.05h.7M61.23 218.48h.7" stroke="rgb(156,192,60)" stroke-width=".7" stroke-opacity="0.9"/>
<path d="M60.43 218.36h.7M60.42 216.05h.7M60.14 216.38h.7M63.6 215.36h.7" stroke="rgb(156,192,48)" stroke-width=".7" stroke-opacity="0.9"/>
<path d="M60.23 216.33h.7M61.52 218.3h.7M60.87 218.4h.7M62.89 217.51h.7M63.47 216.68h.7M62.1 215h.7M62.47 215.01h.7M60.49 218.33h.7M59.82 217.55h.7M62.08 215.06h.7M63.37 215.17h.7M59.83 216.95h.7M63.66 216.24h.7M61.82 215.1h.7M61.13 218.31h.7M62.33 214.97h.7M59.91 216.99h.7M62.42 217.93h.7M59.99 217.93h.7" stroke="rgb(168,192,48)" stroke-width=".7" stroke-opacity="0.9"/>
<path d="M60.02 217.86h.7" stroke="rgb(180,192,48)" stroke-width=".7" stroke-opacity="0.9"/>
<path d="M63.35 216.66h.7M60.05 217.77h.7M63.26 216.87h.7M62.94 215.15h.7M63.46 216.25h.7M61.77 215.31h.7M60.85 218.14h.7M61.91 218.06h.7M62.7 217.47h.7M63.12 215.3h.7M63.49 215.78h.7M63.21 216.84h.7M60.47 216.26h.7M62.64 217.51h.7M63.51 216.02h.7M60.67 215.99h.7M60.12 216.85h.7" stroke="rgb(180,204,48)" stroke-width=".7" stroke-opacity="0.9"/>
<path d="M60.56 218.03h.7" stroke="rgb(192,204,48)" stroke-width=".7" stroke-opacity="0.9"/>
<path d="M60.28 217.04h.7M62.18 217.75h.7M61.69 218.03h.7M63.38 215.82h.7M60.64 217.9h.7M61.94 217.87h.7M63.07 216.7h.7M60.75 216.24h.7M63.31 215.77h.7M60.35 217.52h.7M61.39 218.03h.7M63.35 216.05h.7M60.73 216.15h.7M63.25 216.38h.7M61.35 217.98h.7" stroke="rgb(192,192,48)" stroke-width=".7" stroke-opacity="0.9"/>
<path d="M62.79 215.49h.7M62.9 215.63h.7M62.99 215.68h.7M62.12 215.43h.7M61.19 215.97h.7M61.06 217.93h.7M60.71 216.48h.7" stroke="rgb(204,192,48)" stroke-width=".7" stroke-opacity="0.9"/>
<path d="M62.2 217.47h.7M62.9 216.61h.7" stroke="rgb(204,192,36)" stroke-width=".7" stroke-opacity="0.9"/>
<path d="M62.34 215.59h.7M60.61 217.01h.7M61.37 216.14h.7M60.55 217.1h.7M61.44 217.58h.7M62.34 217.18h.7M62.46 217.01h.7M61.86 215.81h.7M62.25 217.2h.7M61.31 217.52h.7M60.81 217.62h.7M62.02 215.61h.7M61.95 215.67h.7M61.82 215.87h.7M62.81 216.49h.7M60.66 216.72h.7M60.74 216.86h.7M60.77 217.59h.7M61.51 215.94h.7M60.65 217.21h.7M60.77 217.01h.7M61.57 217.66h.7M61.9 215.73h.7M62.37 217.19h.7" stroke="rgb(216,192,36)" stroke-width=".7" stroke-opacity="0.9"/>
<path d="M62.08 217.19h.7M60.92 217.04h.7M62.16 215.88h.7M62.5 215.92h.7" stroke="rgb(216,180,36)" stroke-width=".7" stroke-opacity="0.9"/>
<path d="M62.1 217.09h.7M61.2 217.36h.7M61.86 215.98h.7M61.67 216.07h.7M62.61 216.29h.7" stroke="rgb(228,180,36)" stroke-width=".7" stroke-opacity="0.9"/>
<path d="M62.37 216.68h.7M62.01 216.02h.7M62.2 216.75h.7M62.1 216.08h.7M61.67 217.18h.7M62.52 216.38h.7M61.76 217.13h.7M62.09 216.02h.7" stroke="rgb(228,168,36)" stroke-width=".7" stroke-opacity="0.9"/>
<path d="M61.45 216.84h.7M61.66 217.05h.7M61.83 216.62h.7M61.82 216.92h.7M61.91 216.26h.7M62.21 216.68h.7M61.92 216.4h.7M61.77 217.04h.7M62.12 216.36h.7" stroke="rgb(228,156,36)" stroke-width=".7" stroke-opacity="0.9"/>
</g>
<rect x="30.4" y="210" width="41.6" height="18.2" fill="none" stroke="#9a9a9a" stroke-width=".6"/>
<rect x="49.3" y="231.1" width="23.3" height="29" fill="none" stroke="#9a9a9a" stroke-width=".6"/>
<text x="45.9" y="206.4" font-size="4.6" textLength="7.7" lengthAdjust="spacingAndGlyphs" fill="#111" style="stroke-width:.06px">85.1</text>
<text x="31.7" y="248.2" font-size="4.6" textLength="7.3" lengthAdjust="spacingAndGlyphs" fill="#111" style="stroke-width:.06px">11.9</text>
<rect x="30" y="196.7" width="63.6" height="63" fill="none" stroke="#111" stroke-width="1.45"/>
<clipPath id="hc2"><rect x="104.2" y="195.6" width="64.4" height="64.2"/></clipPath>
<path clip-path="url(#hc2)" d="M104.3 260.2L107.4 258.8L109.29 257.03L110.7 255.5L112.48 253.06L114.1 250.4L115.1 248.19L115.77 245.96L116.6 243.7L117.11 241.49L117.97 239.18L118.3 237L118.63 234.74L119.25 232.44L119.4 230.3L119.83 227.59L120.27 224.83L120.8 221.9L121.26 218.96L121.59 216.17L122.1 213.5L122.46 210.65L122.8 208.02L123.3 205.1L124.14 201.99L124.5 198.7L125.06 202.04L125.3 205.1L125.78 207.78L126.01 210.58L126 213.5L126.1 216.4L126.25 219.27L126.7 221.9L127.13 224.52L127.12 227.65L127.2 230.3L127.49 233.11L127.79 235.92L128 238.7L128.32 241.56L128.81 244.15L128.8 247.1L129.04 249.16L129.34 251.46L130 253.8L131.3 258L132.5 259.7L134 260.3Z" fill="#dedede" stroke="#bdbdbd" stroke-width=".6"/>
<path clip-path="url(#hc2)" d="M104.4 260.2L107.91 259.85L110.7 259.7L113.2 258L116.6 255.5L119.1 252.9L121.6 251.8L123.3 248.7L124.24 246.1L125 243.7L125.81 241.3L125.64 239.16L126.1 237L126.31 233.97L126.94 231.24L127.5 228.6L127.5 226.01L128.23 222.74L128.8 220.2L129.3 217.39L129.77 214.52L130 211.8L129.94 209.34L130.44 206.94L130.8 204.2L131.4 200.5L131.9 201.5L132.3 199.2L132.44 201.55L132.9 204.2L132.95 206.6L133.33 209.28L133.9 211.8L134.15 214.85L134.37 217.64L135 220.2L135.25 222.99L136.21 225.95L136.2 228.6L136.94 231.42L136.7 234.29L137.2 237L137.77 239.55L137.65 242.84L138.4 245.4L139 247.81L138.92 250.12L139.6 252.1L140.52 254.01L141.8 256.3L145.1 258.8L149.3 259.7L151.51 259.68L153.58 260.01L156.65 259.72L158.7 260.15L160.88 260.02L163.09 260.06L165.49 260.31L168 260.2" fill="none" stroke="#111" stroke-width="1.25" stroke-linejoin="round"/>
<rect x="104.2" y="195.6" width="64.4" height="64.2" fill="none" stroke="#111" stroke-width="1.45"/>
<text x="28.8" y="274.4" font-size="8.3" textLength="46.6" lengthAdjust="spacingAndGlyphs" style="stroke-width:.22px">specificity ctr</text>
<g filter="url(#bl)">
<path d="M48.16 294.62h.7M66.15 305.19h.7M72.94 302.27h.7M68.02 300.39h.7M66.38 299.1h.7M67.56 309.34h.7M70.06 300.92h.7M73.64 300.89h.7M75.14 302.89h.7M69.7 306.94h.7M69.45 302.29h.7M68.44 303.82h.7M70.75 309.34h.7M63.97 294.75h.7M71.5 304.95h.7M51.08 309.57h.7M31.64 307.79h.7M37.51 295.9h.7M39.5 295.87h.7M58.08 295.12h.7M32.86 293.41h.7M35.83 308.07h.7M47.95 309.24h.7M43.95 294.53h.7M61.19 310.13h.7M44.36 310.45h.7M40.94 313.2h.7M34.02 298.7h.7M55.6 293.89h.7M31.64 302.26h.7M67.18 295.69h.7M37.28 307.69h.7M56.04 294.81h.7M33.71 306.67h.7M31.13 306.38h.7M64.6 295.23h.7M45.49 309.02h.7M60.82 295.62h.7M37.59 296.39h.7M32.17 304.35h.7M31.02 307.86h.7M73.96 307.46h.7M85.07 327.36h.7M63.1 319.35h.7M84.35 338.65h.7M62.9 322.92h.7M86.19 323.55h.7M81.21 312.18h.7M75.81 307.71h.7M82.16 313.76h.7M69.94 311.09h.7M73.3 311.25h.7M75.36 307.21h.7M68.76 313.8h.7M63.08 329.15h.7M80.57 340.62h.7M83.13 314.13h.7M63.56 328.45h.7M71.98 309.03h.7M83.7 335.67h.7M83.01 338.74h.7M84.28 304.32h.7M85.72 318.03h.7M84.57 332.2h.7M80.12 341.29h.7M63.64 333.86h.7M70.41 312.11h.7M83.37 320.09h.7M71.21 312.68h.7M83.6 320.66h.7M65.88 337.44h.7M64.97 340.97h.7M82.67 311.76h.7M83.96 319.82h.7M51.39 333.52h.7M56.81 322.89h.7M65.36 311.84h.7M42.06 313.08h.7M49.33 294.83h.7M63.13 313.85h.7M50.39 312.4h.7M31.74 313.83h.7M66.77 313.56h.7M57.57 333.85h.7M55.93 318.43h.7M51.14 324.47h.7M53.05 328.97h.7M79.96 310.76h.7M62.87 317.16h.7M60.09 322.05h.7M53.55 340.36h.7M62.92 292.57h.7M62.87 326.21h.7M46.38 319.39h.7M57.69 320.53h.7M58.69 313.29h.7M52.51 328.74h.7M52.68 311.62h.7M61.51 323.41h.7M52.79 333.53h.7M70.62 309.61h.7M41.01 334.74h.7M61.66 325h.7M58.06 315.33h.7M43.41 340.99h.7M84.15 330.07h.7M40.97 314.56h.7M61.71 327.71h.7M54.01 310.16h.7M46.37 314.09h.7M59.93 336.95h.7M88.9 323.6h.7M60.99 331.58h.7M85.48 323.19h.7M40.09 324.3h.7M67.43 307.84h.7M60.59 325.16h.7M63.11 315.09h.7M48.45 316.87h.7M53.49 332.6h.7M47.41 310.83h.7M60.73 319.95h.7M56.68 328.43h.7M84.15 333.78h.7M37.4 325.26h.7M80.56 310.46h.7M75.59 302.29h.7M59.51 328.13h.7M40.21 317.91h.7M38.27 321.69h.7M67.61 314h.7M57.52 323.46h.7M61.63 314.12h.7M59.61 312.99h.7M47.29 319.64h.7M63.03 316.34h.7M88.52 312.87h.7M60.96 310.04h.7M42.79 314.7h.7M51.85 335.54h.7M56.13 325.45h.7M68.79 303.1h.7M49.46 336.5h.7M50.3 316.4h.7M47.9 335.03h.7M61.61 314.59h.7M60.75 332.87h.7M36.67 327.47h.7M67.31 310.99h.7M83.14 317.95h.7M54.49 314.72h.7M50.21 323.9h.7M52.89 320.24h.7M62.72 335.09h.7M68.59 302.99h.7M44.63 319.05h.7M43.8 322.81h.7M42.39 332.39h.7M40.73 332.55h.7M58.57 331.7h.7M67.66 307.26h.7M60.24 335.19h.7M49.45 327.18h.7M42.17 331.91h.7M57.8 327.55h.7M58.04 321.04h.7M36.9 322.37h.7M47.76 310.73h.7M37.57 310.7h.7M40.24 316.21h.7M50.98 319.03h.7" stroke="rgb(96,96,204)" stroke-width=".7" stroke-opacity="0.45"/>
<path d="M67.67 303.57h.7M50.02 295.24h.7M41.9 307.69h.7M84.09 325.06h.7M82.6 319.46h.7M59.88 309.97h.7" stroke="rgb(84,96,204)" stroke-width=".7" stroke-opacity="0.45"/>
<path d="M66.74 302.69h.7M51.78 296.45h.7M65.67 298.79h.7M53.68 296.5h.7M66.73 300.98h.7M66.39 301.75h.7M65.56 302.32h.7M64.65 306.07h.7M66.56 299.92h.7M42.52 307h.7M46.77 297.04h.7M53.94 309.28h.7M62.27 297.67h.7M64.21 306.59h.7M60.52 308.66h.7M53.26 308.94h.7M39.91 298.19h.7M33.9 303.23h.7M32.75 301.86h.7M38.19 305.42h.7M53.42 309.33h.7M35.16 305.26h.7M36.49 298.91h.7M55.25 309.03h.7M40 306.09h.7M34.68 301.05h.7M49.31 296.76h.7M40.95 297.46h.7M32.64 301.62h.7M67.04 301.27h.7M47.1 308.14h.7M35.87 304.74h.7M48.33 296.46h.7M48.63 295.89h.7M38.52 306.02h.7M33.44 300.49h.7M64.36 306.76h.7M44.22 308.1h.7M59.18 297.25h.7M49.71 295.3h.7M34.81 303.95h.7M40.91 296.78h.7M35.73 299.27h.7M33.75 305.35h.7M32.92 302.29h.7M52.59 295.85h.7M42.08 297.54h.7M33.69 303.56h.7M56.39 296.46h.7M45.27 297.72h.7M51.95 296.48h.7M36.6 306.22h.7M39.18 296.97h.7M38.66 297.81h.7M59.09 309.57h.7M35.82 299.77h.7M59.48 308.63h.7M35.23 300.03h.7M33.31 304.78h.7M41.39 306.24h.7M36.35 299.07h.7M35.11 300.38h.7M80.65 338.88h.7M81.58 334.28h.7M73.64 313.96h.7M68.48 315.85h.7M82.63 316.58h.7M82.67 328.35h.7M80.55 313.52h.7M80.84 313.44h.7M71.11 315.13h.7M77.49 313.14h.7M71.77 313.88h.7M66.27 331.25h.7M79.8 339.53h.7M70.99 341.21h.7M66.13 321.09h.7M64.68 327.81h.7M65.17 333.93h.7M81.26 321.66h.7M72.78 340.7h.7M75.67 313.91h.7M80.24 336.39h.7M66.1 318.45h.7M65.73 316.55h.7M81.41 318.35h.7M81.17 316.38h.7M65.07 324.81h.7M67.07 317.12h.7M65.02 326h.7M81.3 318.01h.7M80.05 319.42h.7M70.67 314.12h.7M83.43 328.79h.7M66.73 334.56h.7M73.27 314.21h.7M68.09 339.3h.7M83.5 324.82h.7M65.79 327.26h.7M78.36 313.09h.7M70.46 340.56h.7M63.79 323.27h.7M66.57 319.47h.7M78.5 313.08h.7M66.55 320.73h.7M81.42 333.59h.7M80.12 313.3h.7M64.67 317.58h.7M80.71 321.22h.7M66.57 320.52h.7M83.81 326.3h.7M65.3 332.32h.7M73.82 313.78h.7M64.69 326.46h.7M69.44 341.13h.7M82.23 316.67h.7M83.23 330.71h.7M80.32 337.79h.7M66.66 330.06h.7M81.93 323.27h.7M66.9 315.97h.7M70.55 315.51h.7M67.25 338.74h.7M70.59 340.64h.7M65.39 318.51h.7M78.92 340.39h.7M80.53 316.08h.7M65.26 327.99h.7M82.84 332.4h.7M66.04 336.84h.7M80.25 320.48h.7M81.14 337.67h.7M81.02 333.65h.7M65.44 322.11h.7M76.42 313.34h.7M82.88 324.17h.7M73.46 341.24h.7M65.61 334.26h.7M80.91 315.79h.7M67.52 316.33h.7M64.36 321.12h.7M65.4 317.06h.7M63.79 324.95h.7M69.01 316.7h.7M46.58 308.3h.7M66.14 315.57h.7M64.99 325.56h.7M81.16 316.39h.7M79.55 312.64h.7M64.32 323.91h.7M65.02 320.82h.7M64.47 319.67h.7M64.87 318.12h.7M71.29 315.16h.7M65.8 327.78h.7M54.99 308.43h.7" stroke="rgb(84,84,204)" stroke-width=".7" stroke-opacity="0.45"/>
<path d="M62.02 307.13h.7M61.5 298.16h.7M51.94 297.36h.7M64.01 299.47h.7M42.2 306.25h.7M41.21 298.74h.7M36.66 304.31h.7M51.24 297.34h.7M38.08 300.57h.7M36.41 304.38h.7M48.43 297.69h.7M38.48 300.18h.7M34.65 301.67h.7M57.86 308.35h.7M43.99 307.01h.7M37.35 304.71h.7M61.6 307.4h.7M39.14 299.9h.7M37.81 300.77h.7M40.7 298.9h.7M36.12 300.4h.7M41.45 298.7h.7M43.53 298.24h.7M79.04 315.48h.7M66 323.11h.7M68.61 318.65h.7M67.73 317.72h.7M82.85 326.11h.7M76.72 313.92h.7M69.08 318.03h.7M67.09 334.31h.7M80.29 317.53h.7M79.79 318.77h.7M68 338.45h.7M73.05 315.62h.7M71.27 316.04h.7M67.39 317.81h.7M81.12 323.2h.7M75.17 340.9h.7M77.81 314.73h.7M67.77 337.27h.7M75.76 340.93h.7M67.38 318.6h.7M70.51 340.25h.7M80.03 316.43h.7M67.24 328.9h.7M71.23 315.26h.7M69.62 316.92h.7M66.86 331.63h.7M67.16 329.65h.7M75.75 314.03h.7M67.35 336.69h.7M67.22 327.08h.7M69.11 339.51h.7M82.5 326.85h.7M69.36 317.91h.7M67.14 318.98h.7M66.95 328.25h.7M65.39 323.71h.7M82.77 331.23h.7M76.18 314.03h.7M66.43 332.55h.7M79.66 336.1h.7M65.97 324.92h.7M71.29 315.45h.7" stroke="rgb(84,84,192)" stroke-width=".7" stroke-opacity="0.45"/>
<path d="M62.52 298.7h.7M59.18 308.18h.7M37.58 304.02h.7M48.31 297.89h.7M42.64 306.34h.7M40.04 304.67h.7M35.6 302.25h.7M55.78 297.11h.7M35.91 303.12h.7M36.18 301.69h.7M40.24 299.39h.7M36.23 303.41h.7M64.83 301.01h.7M44.05 298.32h.7M35.54 302.16h.7M82.26 330.91h.7M66.5 323.21h.7M79.59 337.39h.7M67.14 333.87h.7M79.09 316.11h.7M68.26 338.5h.7M79.38 336.76h.7M77.03 314.86h.7M74.99 315.3h.7M67.01 333.07h.7M81.3 332.55h.7M72.34 340.13h.7M66.34 323.44h.7M76.62 314.51h.7M67.09 330.87h.7M66.98 326.02h.7M71.05 316.69h.7M82.38 325.94h.7M67.42 328.18h.7M66.4 322.94h.7" stroke="rgb(72,84,192)" stroke-width=".7" stroke-opacity="0.45"/>
<path d="M61.05 307.23h.7M56.97 307.91h.7M64.64 300.72h.7M59.59 307.65h.7M40.11 303.34h.7M63.02 299.47h.7M62.6 298.96h.7M48.58 298.37h.7M53.91 297.56h.7M59.08 298.22h.7M64.72 301.8h.7M40.29 299.86h.7M64.2 301.05h.7M63.13 299.11h.7M40.6 301.12h.7M59.46 298.24h.7M63.96 300.05h.7M51.26 307.01h.7M40.38 304.07h.7M60.27 298.13h.7M40.71 299.61h.7M42.24 299.48h.7M46.47 306.78h.7M39.72 304.33h.7M44.6 306.44h.7M41.42 300.55h.7M42.58 305.58h.7M37.8 303.63h.7M39.73 302.2h.7M39.01 302.86h.7M38.55 303.7h.7M62.08 298.77h.7M38.83 301.51h.7M38.57 302.95h.7M39.62 300.75h.7M49.58 307h.7M36.05 302.2h.7M36.96 302.28h.7M39.55 301.71h.7M41.2 304.38h.7M43.55 298.52h.7M38.29 303.1h.7M36.64 302.7h.7M42.78 306.05h.7M39.88 299.86h.7M37.48 302.39h.7M39.52 301.6h.7M49.01 307.2h.7M67.59 323.08h.7M75.59 340.7h.7M77.21 317.56h.7M81.64 326.49h.7M73.38 316.4h.7M77.83 340.32h.7M68.62 337.56h.7M73.01 317.12h.7M70.6 318.57h.7M79 320.8h.7M78.97 337.57h.7M68.15 333.46h.7M76.94 317.21h.7M77.95 316.43h.7M69.11 334.86h.7M67.15 324.24h.7M69.09 338.73h.7M81.7 326.98h.7M78.48 337.92h.7M69.36 337.67h.7M77.38 317.44h.7M77.31 339.95h.7M77.56 316.06h.7M77.7 339.95h.7M67.55 330.66h.7M68.99 337.25h.7M76.97 317.63h.7M78.81 317.05h.7M76.7 340.5h.7M68.08 333.72h.7M78.67 316.86h.7M76.13 316.63h.7M81.72 331.58h.7M68.73 320.53h.7M76.87 340.04h.7M68.53 336.79h.7M71.37 339.13h.7M74.81 316.2h.7M81.67 331.85h.7M78.58 339.34h.7M78.57 338.08h.7M68.28 335.69h.7M81.41 325.09h.7M75.63 315.59h.7M81.42 328.6h.7M77.79 319.56h.7M75.66 315.15h.7M79.6 333.15h.7M73.89 316.68h.7M80.9 332.22h.7M81.39 330.86h.7M77.72 315.54h.7M72.04 317.18h.7M68.15 334.71h.7M78.75 335.34h.7M69.08 337.15h.7M80.5 322.92h.7M81.4 330.77h.7M78.91 339.52h.7M73.61 317.11h.7M78.67 316.22h.7M80.74 331.81h.7M80.68 331.53h.7M67.69 324.04h.7M71.07 339.77h.7M78.87 320.09h.7M69.21 338.96h.7M77.74 319.14h.7M68.3 336.44h.7M71.34 317.65h.7M68.73 338.11h.7M80.87 323.77h.7M81.66 327.56h.7M81.71 329.01h.7M78.27 318.19h.7M81.78 330.74h.7M76.69 340.09h.7M78.71 339.7h.7M79.51 337.4h.7M67.99 325.07h.7M67.46 322.24h.7M68.87 320.09h.7M75.15 315.68h.7M78.91 320.92h.7M68.28 320.94h.7M67.68 333.52h.7M78.19 320.01h.7M64.04 300.12h.7M78.55 318.34h.7M67.07 324.17h.7M68.04 325.63h.7" stroke="rgb(72,72,192)" stroke-width=".7" stroke-opacity="0.45"/>
<path d="M64.22 302.68h.7M63.96 304.45h.7M58.87 298.25h.7M41.02 303.52h.7M40.47 301.9h.7M40.09 302.46h.7M41.27 303.79h.7M69.75 319.63h.7M79.37 322.42h.7M70.47 338.39h.7M70.41 338.39h.7M75.72 317.46h.7M78.33 337.42h.7M78.18 336.86h.7M73.97 339.76h.7M70.23 338.38h.7M68.06 323.97h.7" stroke="rgb(60,72,192)" stroke-width=".7" stroke-opacity="0.45"/>
<path d="M62.93 300.02h.7M44.78 298.95h.7M42.32 300.47h.7M43.6 299.34h.7M81.05 324.94h.7M76.87 318.82h.7M80.25 331.71h.7M79.63 332.58h.7M68.28 323.42h.7M79.01 322.01h.7" stroke="rgb(60,72,180)" stroke-width=".7" stroke-opacity="0.45"/>
<path d="M57.9 298.25h.7M60.05 298.72h.7M46.46 299h.7M47.53 298.88h.7M42.97 304.3h.7M55.34 297.71h.7M53.81 298.04h.7M63.26 300.68h.7M63.82 304.6h.7M62.14 305.93h.7M42 301.98h.7M61.34 306.29h.7M54.74 297.93h.7M52.97 306.94h.7M43.54 299.5h.7M47.84 298.86h.7M56.97 307.25h.7M43.82 305.1h.7M41.1 302.93h.7M50.52 298.71h.7M43.09 305.02h.7M47.16 306.51h.7M64.05 303.51h.7M44.22 305.41h.7M45.02 299.18h.7M41.2 302.78h.7M63.02 300.48h.7M42.82 304.76h.7M44.6 299.3h.7M42.94 300.11h.7M45.28 306.16h.7M44.2 305.38h.7M44.58 305.96h.7M40.82 302.7h.7M43.48 304.67h.7M41.5 303.12h.7M45.85 299.11h.7M42.38 301.33h.7M41.86 303.17h.7M68.34 324.34h.7M70.84 337.77h.7M69.77 320.72h.7M77.49 338.45h.7M71.58 338.22h.7M68.47 327.08h.7M73.2 318.07h.7M78.83 333.54h.7M76.14 318.04h.7M68.98 322.05h.7M75.4 339.65h.7M74.83 317.54h.7M69.73 334.75h.7M69.04 333.37h.7M68.49 332.31h.7M70.64 319.08h.7M70.54 335.61h.7M80.8 325.25h.7M70.21 335.93h.7M75.03 318.24h.7M75.76 318.62h.7M77.8 338.25h.7M74.02 317.7h.7M76.28 339.49h.7M75.05 339.78h.7M77.69 320.92h.7M70.92 337.4h.7M68.58 327.28h.7M77.84 336.29h.7M71.62 318.64h.7M77.67 338.43h.7M68.59 332.33h.7M80.63 329.98h.7M78.81 322.42h.7M70.09 335.1h.7M77.73 335.51h.7M77.52 320.88h.7M74.99 339.63h.7M79.58 323.55h.7M76.88 319.08h.7M80.33 329.94h.7M80.9 327.45h.7M70.36 319.84h.7M74.69 317.6h.7M76.14 339.92h.7M71.12 318.75h.7M69.67 334.12h.7M79.4 323.28h.7" stroke="rgb(60,60,180)" stroke-width=".7" stroke-opacity="0.45"/>
<path d="M60.29 299.26h.7M63.2 304.8h.7M63.09 301.18h.7M56.47 307.11h.7M63.73 303.45h.7M58.08 306.97h.7M42.75 303.27h.7M58.67 307.03h.7M62.73 305.25h.7M43.16 300.78h.7M68.91 332.48h.7M72.01 318.91h.7M75.36 318.91h.7M73.46 338.94h.7M71.5 319.26h.7M77.25 338.16h.7M77.36 320.95h.7M71.99 338.3h.7M72.74 338.74h.7M70.25 320.76h.7M78.77 333.31h.7M69.8 321.55h.7M76.97 338.3h.7M76.39 320.05h.7M77.79 321.56h.7M80.43 328.95h.7M79.2 323.27h.7M68.64 331.31h.7M69.3 322.84h.7M68.66 330.37h.7M79.68 330.85h.7M69.89 321.6h.7" stroke="rgb(48,60,180)" stroke-width=".7" stroke-opacity="0.45"/>
<path d="M59.84 306.65h.7M42.88 303.09h.7M42.74 302.53h.7M45.57 305.58h.7M62.77 305.15h.7M51.82 298.74h.7M48 306.12h.7M63.37 304.23h.7M61.8 300.28h.7M46.14 305.86h.7M46.68 305.89h.7M45.49 305.58h.7M59.82 306.63h.7M51.75 298.79h.7M44.04 300.04h.7M46.95 305.96h.7M44.28 299.87h.7M55.83 298.18h.7M72.49 338.25h.7M74.03 318.72h.7M79.94 329.6h.7M74.04 339.03h.7M72.24 338.21h.7M68.95 332h.7M71.92 319.26h.7M72.89 338.5h.7M77.87 322.04h.7M68.81 331.72h.7M70.45 320.6h.7M75.1 319.03h.7M80.55 325.62h.7M75.29 339.21h.7M69 326h.7M70.46 320.85h.7M69.09 332.58h.7M73.4 318.74h.7" stroke="rgb(48,48,180)" stroke-width=".7" stroke-opacity="0.45"/>
<path d="M59.74 299.34h.7M43.3 302.09h.7M63.35 303.84h.7M60.08 299.55h.7M59.06 299.04h.7M49.57 306.03h.7M58.91 306.66h.7M54.94 298.21h.7M49.89 306.1h.7M43.23 302.78h.7M46.18 299.51h.7M49.52 306.07h.7M47.45 305.9h.7M43.89 300.53h.7M45.11 305.12h.7M71.65 336.89h.7M71.49 336.6h.7M75.18 319.65h.7M74.38 318.96h.7M70.21 321.75h.7M79.75 329.61h.7M80.28 328.16h.7M79.2 323.88h.7M80.14 328.92h.7M77.2 321.39h.7M80.54 325.97h.7M76.9 321.15h.7" stroke="rgb(48,48,168)" stroke-width=".7" stroke-opacity="0.45"/>
<path d="M52.26 298.96h.7M45.72 304.53h.7M56.74 298.8h.7M60.49 305.74h.7M62.3 304.63h.7M55.17 306.55h.7M53.2 298.59h.7M44.38 302.68h.7M44.62 300.2h.7M48.83 299.36h.7M62.23 304.49h.7M45.1 303.77h.7M49.24 305.72h.7M44.48 304.55h.7M44.35 301.78h.7M61.94 301.32h.7M63.03 303.44h.7M56.89 306.61h.7M58.51 299.07h.7M49.06 305.74h.7M55.43 306.47h.7M57.98 298.81h.7M61.72 300.75h.7M44.31 303.69h.7M48.9 305.48h.7M61.83 301.26h.7M62.51 301.8h.7M46.51 299.82h.7M60.28 306.17h.7M62.77 303.02h.7M63.29 303.2h.7M59.8 306.39h.7M55.97 298.72h.7M59.65 306.19h.7M44.53 300.48h.7M46.61 305.22h.7M55.15 306.61h.7M45.71 300.27h.7M43.52 302.63h.7M48.67 305.61h.7M43.96 301.31h.7M44.13 301.41h.7M47.69 299.56h.7M50.61 299.24h.7M44.5 302.64h.7M43.49 302.65h.7M53.67 298.49h.7M45 304.38h.7M62.76 303.83h.7M47.79 299.41h.7M43.96 301.99h.7M62.72 302.28h.7M44.71 303.96h.7M47.12 305.52h.7M62.08 304.86h.7M45.12 300.62h.7M69.42 331.1h.7M79.74 324.66h.7M72.67 319.83h.7M76.21 338.16h.7M70.86 320.94h.7M77.67 322.46h.7M72.13 319.98h.7M70.96 334.26h.7M78.56 332.07h.7M70.77 333.61h.7M70.45 333.61h.7M69.75 332.25h.7M69.76 324.58h.7M69.74 323.34h.7M69.38 326.95h.7M71.39 321.26h.7M69.79 324.89h.7M75.64 321.44h.7M72.22 320.47h.7M74.58 338.19h.7M71.78 321.79h.7M73.75 337.88h.7M74.71 319.5h.7M76.42 336.23h.7M74.93 320.46h.7M78.99 330.99h.7M72.46 321.67h.7M69.85 323.83h.7M75.94 337.25h.7M70.04 323.1h.7M74.94 338.44h.7M72.13 335.87h.7M77.76 333.57h.7M80.18 325.91h.7M71.29 320.38h.7M76.83 321.61h.7M74.17 319.71h.7M73.24 320.29h.7M80.02 325.31h.7M75.57 337.7h.7M76.8 336.18h.7M69.84 326.37h.7M79.71 326.48h.7M71.67 322.97h.7M70.61 323.21h.7M74.74 337.96h.7M69.62 325.99h.7M79.25 330.27h.7M70.38 322.04h.7M69.56 329.01h.7M80.26 326.7h.7M79.59 324.51h.7M77.18 322.11h.7M72.36 336.39h.7M79.08 324.23h.7M72.58 337.97h.7M79.96 327.47h.7M74.67 320.77h.7M73.65 319.29h.7M70.7 334.08h.7M73.17 337.88h.7M79.48 329.37h.7M78.45 332.54h.7M70.71 322.4h.7M71.74 336.25h.7M72.17 319.66h.7M70.61 323.39h.7M69.25 329.14h.7M74.08 319.58h.7M73.37 337.82h.7M69.91 323.18h.7M69.34 330.51h.7M75.8 338.28h.7M73.13 320.22h.7M70.01 324.84h.7M75.62 338.44h.7M77.58 322.9h.7M73.56 320.53h.7M71.4 322.77h.7M71.8 335.64h.7M75.5 320.99h.7M69.53 324.76h.7M72.32 337.21h.7M75.04 338.85h.7M71.29 320.44h.7M79.81 326.54h.7M69.6 331.88h.7M71.7 334.69h.7M73.19 319.84h.7M69.72 326.07h.7M69.68 331.8h.7M70.12 333.2h.7M75.78 320.54h.7M69.54 327.08h.7M71.34 322.82h.7M71.65 320.6h.7M69.25 328.85h.7M70.11 323.04h.7M80.38 326.47h.7" stroke="rgb(36,48,168)" stroke-width=".7" stroke-opacity="0.7"/>
<path d="M50.48 299.8h.7M52.88 306h.7M55.41 306.28h.7M54.04 306.36h.7M61.15 301.08h.7M46.55 304.7h.7M54.16 306.36h.7M62.03 304.39h.7M44.63 302.24h.7M59.57 305.74h.7M60.06 300.28h.7M45.77 300.58h.7M61.19 301.13h.7M46.38 304.39h.7M56.1 298.91h.7M61.47 304.97h.7M51.87 305.89h.7M62.25 304.42h.7M62.33 303.4h.7M60.01 300.44h.7M48.76 305.32h.7M45.25 303.52h.7M45.2 303.2h.7M62 304.42h.7M44.52 301.95h.7M45.06 301.44h.7M46.27 304.56h.7M58.07 299.44h.7M48.54 305.12h.7M47.74 305.11h.7M46.37 304.6h.7M46.61 300.29h.7M51.36 305.66h.7M71.69 333.3h.7M70.08 326.75h.7M75.68 336.7h.7M72.11 335.16h.7M71.26 323.9h.7M79.17 328.13h.7M78.96 325.31h.7M69.88 329.32h.7M78.91 328.7h.7M78.48 324.86h.7M73.61 320.83h.7M76.54 323.14h.7M79.44 326.96h.7M74.97 337.46h.7M75.75 322.58h.7M79.57 326.78h.7M78.17 324.31h.7M73.51 320.88h.7M78.28 324.39h.7M70.08 330.81h.7M71.7 334.52h.7M71.43 333.19h.7M69.72 329.7h.7M73.52 337.24h.7M78.81 325.33h.7M72.76 323.17h.7M77.75 324.17h.7M70.83 324.21h.7M70.48 325.13h.7M69.96 328.87h.7M72.98 321.43h.7M72.64 335.9h.7M74 321.51h.7M74.67 321.7h.7M71.87 334.82h.7M79.02 328.44h.7M69.87 330.9h.7M72.94 321.59h.7M69.89 327.72h.7M70.71 323.93h.7M75.68 322.25h.7M76.39 335.11h.7M72.51 336.42h.7M70.75 324.71h.7M73.18 322.26h.7M78.63 325.02h.7M70.13 326.78h.7M78.69 324.73h.7M78.9 328.36h.7M79.28 327.33h.7M75.47 322.41h.7M78.36 329.92h.7M73.75 320.95h.7M73.09 322.37h.7M74.5 337.65h.7M79.32 328.24h.7M73.66 320.88h.7M70.37 331.51h.7M72.12 334.86h.7M74.35 322.08h.7M73.21 321.58h.7M75.79 322.25h.7M74.64 337.6h.7M76.76 334.78h.7M45 301.11h.7M69.95 330.81h.7M78.52 329.6h.7M71.12 323.77h.7M73.97 320.9h.7" stroke="rgb(36,60,168)" stroke-width=".7" stroke-opacity="0.7"/>
<path d="M52.62 305.9h.7M62.18 303.23h.7M62 302.92h.7M51.69 299.74h.7M60.27 300.96h.7M55.58 299.06h.7M61.09 304.77h.7M61.9 304.12h.7M48.75 300.01h.7M61.57 301.82h.7M50.61 299.88h.7M62.01 302.79h.7M55.42 299.09h.7M48.44 304.92h.7M46.79 300.35h.7M62.25 302.96h.7M74.72 337.09h.7M76.74 334.46h.7M71.72 333.1h.7M75.48 322.68h.7M75.14 336.88h.7M70.32 326.04h.7M76.28 323.11h.7M73.53 322.81h.7M78.78 326.01h.7M77.43 333.24h.7M76.65 323.59h.7M75.61 336.02h.7M70.19 329.82h.7M72.35 323.91h.7M74.54 337.06h.7M78.46 328.77h.7M76.27 334.94h.7M75.87 323.05h.7M75.23 336.44h.7M75.25 322.53h.7M75.9 322.87h.7M75.5 336.25h.7M70.24 326.4h.7M77.21 333.69h.7M78.31 325.2h.7M70.51 331.22h.7M75.68 335.83h.7M73.6 322.75h.7M75.28 336.5h.7M73.98 322.56h.7" stroke="rgb(36,60,180)" stroke-width=".7" stroke-opacity="0.7"/>
<path d="M61.61 302.27h.7M61.63 303.78h.7M56.95 299.55h.7M55.93 299.39h.7M56.85 299.5h.7M52.19 305.53h.7M61.48 302.46h.7M55.54 299.24h.7M60.99 302.16h.7M59.81 305.12h.7M54.24 299.27h.7M61.38 303.52h.7M56 299.26h.7M61.18 302.48h.7M52.18 299.76h.7M61.36 302.92h.7M45.59 301.79h.7M59.66 305.15h.7M61.44 302.57h.7M46.14 303.31h.7M55.19 306.02h.7M45.66 301.81h.7M58.24 299.96h.7M59.77 300.96h.7M45.89 302.87h.7M45.98 301.44h.7M59.88 301.11h.7M51.78 299.8h.7M61.28 302.64h.7M54.69 299.34h.7M46.94 304.13h.7M55.92 306.03h.7M59.28 300.44h.7M47.18 304.44h.7M72.49 334.06h.7M77.7 331.94h.7M76.25 323.4h.7M77.17 333.04h.7M70.79 326.03h.7M77.59 331.8h.7M73.5 335.27h.7M71.8 332.62h.7M72.66 323.91h.7M70.4 326.75h.7M72.03 332.96h.7M78.53 327.61h.7M71.57 325.1h.7M71.86 332.48h.7M75.38 322.96h.7M75.12 323.15h.7M73.56 323.65h.7M73.14 334.86h.7M77.27 333.42h.7M76.65 334.09h.7M75.88 323.53h.7M78.49 327.67h.7M74.95 336.63h.7M77.44 331.96h.7M75.02 323.21h.7M73.87 336.44h.7M70.49 330.15h.7M77.81 329.45h.7M75.67 335.49h.7M73.46 323.59h.7M74.21 336.06h.7M73.81 336.48h.7M73.37 323.97h.7M73.05 334.6h.7M78.61 326.69h.7M78.02 325.78h.7M70.6 331.03h.7M77.41 333.07h.7M70.76 331.01h.7M70.23 329.21h.7M71.34 331.61h.7M73.04 335.19h.7M72.93 335.03h.7M74.15 336.49h.7M76.24 334.26h.7M77.75 331.85h.7M73.66 335.64h.7M77.95 329.95h.7M78.17 325.46h.7M77.41 331.91h.7M75.89 335.1h.7M73.93 336.32h.7M78.38 327.82h.7M78.43 327.05h.7M70.96 331.38h.7M73.97 323.33h.7M77.46 331.28h.7M76.81 324.48h.7M77.24 333.04h.7M75.65 322.99h.7M72.09 332.31h.7M75.88 335.22h.7M77.85 329.5h.7M56.4 305.92h.7M60.6 304.76h.7M73.02 334.48h.7" stroke="rgb(36,72,180)" stroke-width=".7" stroke-opacity="0.7"/>
<path d="M60.42 304.46h.7M48.65 304.52h.7M56.84 305.8h.7M56.26 299.5h.7M46.39 301.32h.7M60.36 301.6h.7M58.17 305.56h.7M46.79 300.98h.7M61.29 303.2h.7M50.41 304.95h.7M45.98 302.49h.7M58.71 305.45h.7M50.49 300.26h.7M51.03 305.11h.7M76.99 333.13h.7M73.72 335.2h.7M71.15 325.82h.7M77.21 332.69h.7M75.69 334.78h.7M77.32 330.92h.7M71.27 325.54h.7M74.76 335.63h.7M74.97 335.45h.7M70.87 326.3h.7M70.7 330.01h.7M73.8 335.41h.7" stroke="rgb(24,72,180)" stroke-width=".7" stroke-opacity="0.7"/>
<path d="M46.46 303.16h.7M50.52 300.4h.7M60.44 301.93h.7M53.96 299.57h.7M47.82 300.67h.7M57.08 305.7h.7M46.24 302.08h.7M53.15 299.79h.7M53.52 305.72h.7M46.62 301.26h.7M48.71 300.41h.7M72.83 332.71h.7M77.13 325.15h.7M70.81 327.29h.7M78 326.51h.7M77.16 332.42h.7M75.02 335h.7M73.46 334h.7M72.98 333.24h.7M78.06 327.63h.7M73.46 324.24h.7M73.97 324.03h.7M73.24 334.04h.7M78.11 327.6h.7M74.04 335.27h.7M77.67 325.73h.7M78.11 326.5h.7M73.12 333.81h.7M73.44 334.04h.7M75.47 323.84h.7M73.35 333.96h.7M72.05 325.07h.7M73.88 335.09h.7M71.36 325.75h.7M71.66 331.46h.7M72.99 333.22h.7" stroke="rgb(24,84,180)" stroke-width=".7" stroke-opacity="0.7"/>
<path d="M58.24 300.25h.7M53.98 305.69h.7M51.14 304.98h.7M57.55 305.55h.7M53.66 305.67h.7M60.74 303.69h.7M59.33 301.01h.7M46.63 303.21h.7M48.86 300.5h.7M49.57 300.49h.7M71.95 325.27h.7M76.55 333.32h.7M77.03 332.18h.7M77 325.13h.7M77.07 331.13h.7M72.28 325.08h.7M72.51 324.95h.7M74.48 334.86h.7M76.05 324.32h.7M76.8 332.91h.7" stroke="rgb(36,84,180)" stroke-width=".7" stroke-opacity="0.7"/>
<path d="M58.51 305.28h.7M59.34 301.18h.7M58.88 305.09h.7M58.91 300.81h.7M46.95 301.35h.7M58.9 305.08h.7M60.45 303.98h.7M49.69 300.53h.7M49.96 304.55h.7M47.95 304.01h.7M60.03 301.78h.7M51.5 304.98h.7M48.83 304.23h.7M59.86 304.43h.7M47.11 301.16h.7M47.18 301.08h.7M47.52 303.68h.7M46.88 303.1h.7M49.63 304.52h.7M46.37 302.3h.7M53.3 305.53h.7M48.59 300.57h.7M77.7 326.17h.7M76.7 332.85h.7M70.93 329.57h.7M70.86 328.32h.7M72.46 331.78h.7M73.04 324.77h.7M76.74 332.81h.7M77.91 326.9h.7M76.14 324.52h.7M70.96 328.39h.7M71.74 325.56h.7M70.86 328.97h.7M72.82 332.12h.7M73.15 332.43h.7M70.88 328.8h.7M71.31 326.53h.7M70.86 329.13h.7M75.22 334.42h.7M77.52 328.71h.7M77.14 329.75h.7M77.17 330.04h.7" stroke="rgb(36,96,180)" stroke-width=".7" stroke-opacity="0.7"/>
<path d="M58.02 300.31h.7M58.01 300.31h.7M71.56 326.09h.7" stroke="rgb(36,96,168)" stroke-width=".7" stroke-opacity="0.7"/>
<path d="M59.52 301.59h.7M54.44 299.73h.7M58.11 300.4h.7M57.79 300.33h.7M52.31 305.14h.7M59.38 301.48h.7M53.7 305.5h.7M51.04 304.67h.7M46.82 301.97h.7M51.84 305.04h.7M56.38 299.79h.7M59.53 304.6h.7M54.35 299.79h.7M58.38 305.07h.7M48.87 300.76h.7M46.93 301.6h.7M51.34 300.65h.7M49.01 300.74h.7M74.76 333.7h.7M76.26 332.95h.7M75 334.07h.7M74.49 333.87h.7M73.38 332.35h.7M75.51 324.51h.7M73.68 332.45h.7M71.77 330.83h.7M73.61 332.8h.7M75.03 333.97h.7M74.6 333.96h.7M75.78 333.62h.7M74.89 324.4h.7M76.6 332.52h.7M76.82 330.62h.7M72.2 331.37h.7M72.63 325.22h.7M75.21 324.49h.7M76.77 331.37h.7M75.6 333.73h.7M77.54 327.59h.7M76.81 330.89h.7M75.97 333.29h.7" stroke="rgb(36,108,168)" stroke-width=".7" stroke-opacity="0.9"/>
<path d="M46.94 302.11h.7M59.99 302.6h.7M59.76 302.23h.7M60.1 303h.7M58.59 300.99h.7M53.29 300.09h.7M51.46 300.75h.7M47.25 301.47h.7M48.21 300.99h.7M56.21 305.48h.7M57.13 305.31h.7M59.24 304.55h.7M48.93 304.06h.7M59.71 304.09h.7M57.27 305.29h.7M52.12 304.99h.7M50.99 300.82h.7M59.99 303.81h.7M47.24 303.05h.7M52.16 300.55h.7M50.04 300.86h.7M48.11 301h.7M47.27 301.58h.7M74.25 324.83h.7M77 329.18h.7M73.47 331.91h.7M74.39 332.94h.7M76.12 331.74h.7M72.53 325.57h.7M75.89 332.79h.7M75.43 332.74h.7M75.57 332.76h.7M71.24 328.55h.7M76.51 330.96h.7M76.59 330.79h.7M71.27 328.86h.7M76.4 331.86h.7M75.09 333.25h.7M75.12 333.39h.7M73.72 332.09h.7M75.08 333h.7M75.09 324.71h.7M75.28 332.66h.7M76.11 332.01h.7M75.02 332.67h.7M77.42 327.05h.7M77.47 327.69h.7M72.95 331.46h.7M76.78 329.81h.7M71.2 328.84h.7" stroke="rgb(36,120,168)" stroke-width=".7" stroke-opacity="0.9"/>
<path d="M58.77 304.66h.7M47.14 302.52h.7M59.58 303.81h.7M59.8 303h.7M51.4 304.67h.7M47.49 302.86h.7M57.57 300.43h.7M52.09 300.69h.7M47.8 303.3h.7M56.45 300.08h.7M59.58 304.05h.7M50.82 304.33h.7M53.91 300.05h.7M49.83 301.04h.7M56.04 305.38h.7M49.1 303.87h.7M50.43 300.97h.7M49.3 300.98h.7M58.53 301.04h.7M51.35 304.58h.7M53.15 300.24h.7M50.5 300.98h.7M49.21 303.92h.7M52.09 300.67h.7M50.3 300.96h.7M47.94 303.45h.7M76.43 325.43h.7M74.23 331.77h.7M72.75 325.59h.7M72.23 330.57h.7M73.1 325.33h.7M71.48 329.11h.7M76.37 330.22h.7M71.75 329.7h.7M72.45 330.9h.7M72.04 330.28h.7M71.87 326.76h.7M75.02 331.87h.7M71.45 329.29h.7M73.58 331.56h.7M76.14 325.3h.7M73.64 325.1h.7M74.84 332.33h.7M71.47 328.62h.7M74.86 324.85h.7M76.84 325.85h.7M75.56 332.58h.7" stroke="rgb(36,132,168)" stroke-width=".7" stroke-opacity="0.9"/>
<path d="M58.48 301.11h.7M54.41 300.09h.7M56.93 300.28h.7M55.57 300.01h.7M59.37 303.99h.7M59.24 304.06h.7M49.87 303.96h.7M51.07 304.38h.7M47.9 303.11h.7M50.78 301.04h.7M49.44 303.81h.7M74.66 331.46h.7M75.07 325.1h.7M73.21 331.23h.7M76.53 329.42h.7M71.71 327.79h.7M73.65 331.24h.7M75.3 331.26h.7M74.15 325.18h.7M76.71 326.17h.7M77.02 327.94h.7M75.16 331.43h.7M75 325.03h.7" stroke="rgb(36,144,168)" stroke-width=".7" stroke-opacity="0.9"/>
<path d="M57.28 305.05h.7M49.16 301.17h.7M76.07 325.54h.7M71.73 328.7h.7M73.14 331.01h.7M75.12 331.18h.7M71.97 327.08h.7M71.72 329.01h.7M76.38 325.8h.7M76.67 328.74h.7M71.82 327.65h.7M72.28 330.23h.7M72.08 326.85h.7" stroke="rgb(36,144,156)" stroke-width=".7" stroke-opacity="0.9"/>
<path d="M56.98 305.1h.7M47.6 302.27h.7M53.74 300.25h.7M52.42 304.81h.7M59.2 303.99h.7M59.49 302.71h.7M47.67 302.5h.7M47.7 301.89h.7M52.85 304.99h.7M57.42 304.98h.7M72.2 329.94h.7M75.86 330.36h.7M71.89 327.77h.7M75.8 330.25h.7M76.73 326.5h.7M75.78 330.3h.7M72.88 330.67h.7M76.29 325.79h.7M71.96 327.25h.7M74.47 325.23h.7M76.11 325.65h.7M73.25 330.92h.7M73.05 325.81h.7M73.39 330.93h.7M72.74 326.06h.7" stroke="rgb(48,144,156)" stroke-width=".7" stroke-opacity="0.9"/>
<path d="M58.82 304.24h.7M47.75 302.52h.7M55.33 300.15h.7M76.29 325.88h.7M72.69 330.47h.7" stroke="rgb(48,144,144)" stroke-width=".7" stroke-opacity="0.9"/>
<path d="M49.42 301.33h.7M47.79 302.29h.7M52.3 300.87h.7M51.31 301.23h.7M48.61 301.49h.7M53.19 304.99h.7M51.12 304.11h.7M75.63 330.3h.7M76.29 329.01h.7M71.97 328.36h.7M74.75 325.4h.7M76.49 326.36h.7M72.53 326.59h.7M74.42 325.39h.7M73.06 330.53h.7M72.14 329.4h.7" stroke="rgb(48,156,144)" stroke-width=".7" stroke-opacity="0.9"/>
<path d="M48.33 301.73h.7M53.4 300.49h.7M59.1 302.38h.7M76.5 328.45h.7M75.72 329.95h.7M73.19 330.52h.7M72.61 330.03h.7M72.33 327.09h.7M72.73 326.45h.7M76.03 329.46h.7M75.75 329.86h.7M76.5 328.43h.7" stroke="rgb(48,156,132)" stroke-width=".7" stroke-opacity="0.9"/>
<path d="M48.71 303.09h.7M56.6 300.46h.7M48.86 301.53h.7M56.37 305.03h.7M51.34 301.33h.7M58.73 301.87h.7M48.06 302.48h.7M48.5 303.02h.7M72.2 328.98h.7M72.31 327.23h.7M72.18 328.5h.7M73.72 330.64h.7" stroke="rgb(60,156,132)" stroke-width=".7" stroke-opacity="0.9"/>
<path d="M54.55 300.36h.7M51.12 301.48h.7M59.06 303.18h.7M48.24 302.06h.7M57.74 304.55h.7M50.54 303.62h.7M50.34 301.66h.7M56.96 300.69h.7M48.62 301.85h.7M48.6 302.72h.7M48.78 301.72h.7M53.53 300.55h.7M75.49 325.77h.7M74.41 330.48h.7M72.42 329.07h.7M75.93 329.24h.7M75.15 325.74h.7M73.65 330.29h.7M72.39 328.64h.7M75.36 330.02h.7M76.34 328.08h.7M72.28 328.11h.7" stroke="rgb(60,156,120)" stroke-width=".7" stroke-opacity="0.9"/>
<path d="M48.81 302.79h.7M58.54 301.92h.7M58.63 302.02h.7M48.57 302.12h.7M49.1 301.86h.7M75.05 329.95h.7M72.88 329.66h.7" stroke="rgb(60,168,108)" stroke-width=".7" stroke-opacity="0.9"/>
<path d="M49.04 302.03h.7M49.86 301.82h.7M48.93 302.13h.7M49.25 302.91h.7M49.76 303.08h.7M49.28 302.87h.7M58.89 303.09h.7M57.48 304.56h.7M53.21 300.79h.7M54.43 300.43h.7M50.24 303.26h.7M49.24 302.86h.7M58.72 303.64h.7M52.83 300.92h.7M73.83 326.05h.7M75.79 329.04h.7M76.28 327.53h.7M73.32 326.4h.7M76.04 326.34h.7M73 326.81h.7M75.29 329.57h.7M74.03 330.17h.7" stroke="rgb(72,168,108)" stroke-width=".7" stroke-opacity="0.9"/>
<path d="M58.66 302.61h.7M57.39 301.05h.7M50.18 301.96h.7M57.59 304.39h.7M56.57 304.8h.7M50.58 302.97h.7M50.61 303.16h.7M49.5 302.47h.7M51.15 303.67h.7M53.58 304.85h.7M53.15 300.85h.7M51.02 303.53h.7M51.44 303.84h.7M49.91 303.07h.7M56.45 300.73h.7M55.09 304.94h.7M50.4 303.24h.7M58.46 303.64h.7M50.18 302.84h.7M49.41 302.82h.7M55.52 304.93h.7M73.56 329.44h.7M75.41 329.12h.7M76.07 328.3h.7M76.18 327.46h.7M72.91 328.83h.7M73.94 329.85h.7M73.78 326.2h.7M76.2 327.47h.7M73.58 326.54h.7M75.86 328.25h.7M73.48 329.51h.7M73.1 328.92h.7M76.26 327.25h.7M73.46 326.52h.7M74.05 329.75h.7M74.05 329.61h.7M76.2 327.13h.7M75.63 326.11h.7M74.11 329.88h.7M75.38 326.13h.7M75.22 326.05h.7M75.73 326.52h.7M76.25 327.18h.7M73.52 326.44h.7M73.98 329.95h.7M73.74 329.74h.7M72.9 327.1h.7M74.43 325.94h.7" stroke="rgb(72,168,96)" stroke-width=".7" stroke-opacity="0.9"/>
<path d="M50.55 302.88h.7M56.97 304.58h.7M52.51 301.3h.7M58.59 303.03h.7M57.02 304.55h.7M50.37 302.72h.7M50.55 302.91h.7M54.52 304.9h.7M51.66 303.8h.7M73.08 327.7h.7M75.82 328.28h.7M75.84 328.23h.7M75.05 329.27h.7M73.92 329.53h.7" stroke="rgb(84,168,96)" stroke-width=".7" stroke-opacity="0.9"/>
<path d="M53.58 304.74h.7M58.16 302.15h.7M58.34 303.65h.7M55.39 300.64h.7M56.77 304.55h.7M51.12 303.12h.7M53.57 300.84h.7M53.29 304.65h.7M51.98 301.8h.7M58.51 303.29h.7M54.31 304.8h.7M58.27 303.5h.7M51.26 302.42h.7M54.76 304.84h.7M52.67 304.35h.7M51.9 301.8h.7M50.61 302.72h.7M52.03 301.63h.7M50.81 302.83h.7M73.49 328.41h.7M75.4 326.71h.7M74.44 329.4h.7M75.87 326.99h.7M73.28 328.06h.7M73.61 327.41h.7M73.13 327.88h.7M74.16 326.43h.7M73.71 326.72h.7M74.86 329.3h.7M73.63 326.74h.7M73.51 326.97h.7M74.99 326.26h.7M75.36 328.57h.7M74.09 329.2h.7" stroke="rgb(84,168,84)" stroke-width=".7" stroke-opacity="0.9"/>
<path d="M57.03 301.18h.7M55.84 300.77h.7M55.37 304.75h.7M51.79 302.16h.7M53.22 304.53h.7M74.72 328.84h.7M75.35 326.82h.7M75.57 327.81h.7M73.69 327.84h.7M75.43 327.05h.7" stroke="rgb(84,180,84)" stroke-width=".7" stroke-opacity="0.9"/>
<path d="M52.92 301.4h.7M57.03 301.26h.7M51.63 303.25h.7M54.19 300.83h.7M54.94 304.71h.7M53.64 304.58h.7M57.66 301.69h.7M53.4 304.52h.7M52.61 304.14h.7M52.54 304.1h.7M51.71 302.59h.7M56.7 301.11h.7M75.16 327.16h.7M74.05 328.44h.7M75.31 327.4h.7M74.34 328.28h.7M74.87 328.37h.7M74.78 327.03h.7M74.1 328.62h.7M75.33 327.6h.7M74.55 327.11h.7M75.05 327.01h.7M73.98 328.29h.7M73.84 327.62h.7M74.11 327h.7M75.22 328.14h.7M74.2 327.09h.7" stroke="rgb(96,180,84)" stroke-width=".7" stroke-opacity="0.9"/>
<path d="M57.92 303.34h.7M57.07 301.36h.7M57.81 302.09h.7M57.86 303.4h.7M57.83 303.41h.7M57.09 301.37h.7M51.73 303h.7M51.7 302.87h.7M56.41 304.42h.7M54.58 304.68h.7M74.66 327.55h.7M74.73 327.61h.7M74.8 327.93h.7" stroke="rgb(96,180,72)" stroke-width=".7" stroke-opacity="0.9"/>
<path d="M54.25 300.97h.7M57.53 303.59h.7M52.33 303.37h.7M56.98 304.07h.7M53.45 301.29h.7M57.43 302.08h.7M54.84 300.9h.7M53.16 304.24h.7M57.74 303.31h.7M57.64 303.62h.7M56.82 301.42h.7M57.64 303.18h.7M57.55 302.05h.7M57.69 302.52h.7M57.14 301.58h.7M56.08 304.4h.7M52.72 303.84h.7" stroke="rgb(108,180,72)" stroke-width=".7" stroke-opacity="0.9"/>
<path d="M54.72 301.08h.7M55.06 304.46h.7M56.93 303.88h.7" stroke="rgb(108,180,60)" stroke-width=".7" stroke-opacity="0.9"/>
<path d="M55.47 304.33h.7M52.51 303.45h.7M53.23 301.63h.7M55.27 301.14h.7M52.56 302.33h.7M57.3 302.1h.7M55.42 301.17h.7M53.06 303.93h.7M53.14 301.72h.7M57.33 302.1h.7" stroke="rgb(120,180,60)" stroke-width=".7" stroke-opacity="0.9"/>
<path d="M53.59 301.49h.7M52.97 303.81h.7M56.18 301.39h.7M52.48 303.02h.7" stroke="rgb(120,192,60)" stroke-width=".7" stroke-opacity="0.9"/>
<path d="M55.09 304.25h.7M56.98 302.01h.7M57.05 302.02h.7M57.02 303.4h.7M57.28 302.75h.7M56.58 303.89h.7M52.54 302.81h.7M52.73 303.22h.7M57.17 303h.7M52.99 302.15h.7M53.52 301.59h.7" stroke="rgb(132,192,60)" stroke-width=".7" stroke-opacity="0.9"/>
<path d="M54.19 301.47h.7M52.95 302.53h.7M55.28 304.1h.7M56.71 302.13h.7M55.45 301.46h.7M55.85 304.07h.7M56.12 303.9h.7M54.38 304.21h.7" stroke="rgb(144,192,60)" stroke-width=".7" stroke-opacity="0.9"/>
<path d="M56.5 303.5h.7M54.63 301.49h.7M56.05 301.76h.7M56.76 303.21h.7M56.92 302.88h.7" stroke="rgb(156,192,60)" stroke-width=".7" stroke-opacity="0.9"/>
<path d="M54.38 301.56h.7" stroke="rgb(156,192,48)" stroke-width=".7" stroke-opacity="0.9"/>
<path d="M56.34 302.22h.7M54.94 304.01h.7M56.42 302.37h.7M55.5 301.65h.7M54.13 303.92h.7M53.14 303.05h.7" stroke="rgb(168,192,48)" stroke-width=".7" stroke-opacity="0.9"/>
<path d="M55.49 301.93h.7M55.72 301.87h.7M53.68 302.2h.7M53.61 303.44h.7M56.26 302.3h.7M53.51 303.16h.7M53.55 303.28h.7M55.97 302.19h.7M55.66 301.85h.7M53.76 303.52h.7M56.01 302.16h.7" stroke="rgb(180,204,48)" stroke-width=".7" stroke-opacity="0.9"/>
<path d="M54.45 301.88h.7M54.54 303.74h.7" stroke="rgb(192,204,48)" stroke-width=".7" stroke-opacity="0.9"/>
<path d="M53.87 302.24h.7M55.32 301.94h.7M53.52 302.93h.7M53.66 303.05h.7M53.66 302.91h.7M55.42 303.51h.7M53.85 302.45h.7M55.96 303.07h.7M54.38 301.97h.7M54.12 303.62h.7M54.23 303.58h.7M55.52 303.41h.7M53.64 302.87h.7M54.79 301.85h.7M55.95 302.74h.7M54.28 302.06h.7" stroke="rgb(192,192,48)" stroke-width=".7" stroke-opacity="0.9"/>
<path d="M53.95 303.02h.7M55.09 303.43h.7M53.81 302.9h.7M53.93 303.12h.7M53.96 302.58h.7M55.18 303.37h.7M55.33 303.46h.7M55.68 303.26h.7M55.48 303.19h.7M55.75 302.91h.7M53.95 303.07h.7M54.75 303.44h.7" stroke="rgb(204,192,48)" stroke-width=".7" stroke-opacity="0.9"/>
<path d="M55.09 302.28h.7M54.99 302.2h.7M54.29 302.39h.7" stroke="rgb(204,192,36)" stroke-width=".7" stroke-opacity="0.9"/>
<path d="M54.61 303.27h.7M54.68 302.74h.7M55.09 303.13h.7M54.89 302.89h.7M54.6 302.94h.7M55.12 302.86h.7M55.23 302.86h.7M54.39 302.57h.7M54.69 303.19h.7M54.98 302.68h.7" stroke="rgb(216,192,36)" stroke-width=".7" stroke-opacity="0.9"/>
</g>
<rect x="30.2" y="293.6" width="38.2" height="16.9" fill="none" stroke="#9a9a9a" stroke-width=".6"/>
<rect x="63.4" y="314" width="23.4" height="28.3" fill="none" stroke="#9a9a9a" stroke-width=".6"/>
<text x="44.4" y="289.1" font-size="4.6" textLength="7.8" lengthAdjust="spacingAndGlyphs" fill="#111" style="stroke-width:.06px">41.5</text>
<text x="44.8" y="330.8" font-size="4.6" textLength="7.8" lengthAdjust="spacingAndGlyphs" fill="#111" style="stroke-width:.06px">54.4</text>
<rect x="30" y="278.7" width="63.1" height="63.5" fill="none" stroke="#111" stroke-width="1.45"/>
<clipPath id="hc3"><rect x="104.2" y="277.7" width="64.4" height="64.5"/></clipPath>
<path clip-path="url(#hc3)" d="M104.3 342.3L105.3 341.7L106.09 338.84L106.5 335.8L107.24 333.05L107.5 330.27L108.2 327.4L108.58 325.08L109.03 322.6L109.47 320.31L109.45 317.97L109.9 315.6L110.47 313.44L110.22 311.05L110.85 309.06L111.06 306.68L111.02 304.31L111.6 302.2L112.32 299.31L112.69 296.67L113.2 293.8L114.02 291.3L114.82 288.53L115.5 286L117.5 282.5L119.6 281.6L120.15 284.42L120.6 287.1L120.57 289.79L121.12 292.32L121.49 294.51L121.5 297.2L121.45 299.83L121.75 302.35L122.39 304.8L122.3 307.2L122.55 309.7L122.9 312.3L122.58 314.86L123 317.3L123.1 319.97L123.32 323.03L123.6 325.7L124.05 328.46L124.39 331.32L124.5 334.1L125.05 336.46L125.8 339.1L127.5 341.7L130 342.3Z" fill="#dedede" stroke="#bdbdbd" stroke-width=".6"/>
<path clip-path="url(#hc3)" d="M104.4 338.5L104.8 337.5L106 334.9L106.5 332.26L106.67 329.76L107 327.4L107.52 324.93L107.6 323L108.2 320.7L109.9 317.3L110.48 315.19L110.24 312.78L110.7 310.6L111 308.04L111.01 305.16L111.6 302.2L111.62 299.58L111.98 296.54L112.7 293.8L113.05 291.66L113.47 289.5L114.1 287.1L115.34 284.67L115.7 282L117.1 284.6L118.3 287.1L118.14 289.12L119.11 291.52L119.1 293.8L119.38 296.79L119.83 299.41L119.9 302.2L120.02 304.77L120.15 307.56L120.8 310.6L121.14 313.64L121.32 316.21L122.1 319L122.77 321.47L123.68 323.55L123.8 325.7L124.47 328.31L125 330.7L127.5 334.1L130 337.5L131.64 339.15L133.4 340.5L137.6 341.3L140.14 341.28L142.09 341.47L144.3 341.7L146.39 341.73L149.24 341.86L151.47 341.96L154 342L156.34 341.78L158.84 342.22L160.97 342.18L163.1 342.26L165.63 342.24L168 342.2" fill="none" stroke="#111" stroke-width="1.25" stroke-linejoin="round"/>
<rect x="104.2" y="277.7" width="64.4" height="64.5" fill="none" stroke="#111" stroke-width="1.45"/>
<path d="M22.2 348.4V37" stroke="#111" stroke-width="1.5" fill="none"/>
<path d="M22.2 32.3L25.3 39.8L22.2 38.4L19.1 39.8Z" fill="#111"/>
<path d="M21.5 348.4H89" stroke="#111" stroke-width="1.5" fill="none"/>
<path d="M94.3 348.4L86.6 345.3L88.1 348.4L86.6 351.6Z" fill="#111"/>
<path d="M103.3 348.5H163" stroke="#111" stroke-width="1.5" fill="none"/>
<path d="M169 348.5L161.2 345.4L162.7 348.5L161.2 351.7Z" fill="#111"/>
<text x="17.9" y="340.2" font-size="10.4" textLength="17.3" lengthAdjust="spacingAndGlyphs" transform="rotate(-90 17.9 340.2)">CD3</text>
<text x="24.8" y="363.1" font-size="10.6" textLength="22.8" lengthAdjust="spacingAndGlyphs">CD33</text>
<text x="101.9" y="362.8" font-size="10.0" textLength="19.3" lengthAdjust="spacingAndGlyphs">PD-1</text>
<text x="186.7" y="15.8" font-size="12" textLength="6" lengthAdjust="spacingAndGlyphs" style="stroke-width:.3px">B</text>
<path d="M232.7 24.9L232.7 121" stroke="#111" stroke-width="1.3"/>
<path d="M232.1 120.4L339.6 120.4" stroke="#111" stroke-width="1.3"/>
<path d="M229.3 29.2L232.7 29.2" stroke="#111" stroke-width="1.2"/>
<text x="226.1" y="32.4" font-size="8.5" text-anchor="end" textLength="12.3" lengthAdjust="spacingAndGlyphs">100</text>
<path d="M229.3 70.4L232.7 70.4" stroke="#111" stroke-width="1.2"/>
<text x="226.1" y="73.6" font-size="8.5" text-anchor="end" textLength="8.2" lengthAdjust="spacingAndGlyphs">50</text>
<path d="M229.3 111.6L232.7 111.6" stroke="#111" stroke-width="1.2"/>
<text x="226.1" y="114.8" font-size="8.5" text-anchor="end" textLength="4.1" lengthAdjust="spacingAndGlyphs">0</text>
<text x="206.1" y="103.9" font-size="9.9" textLength="61.7" lengthAdjust="spacingAndGlyphs" transform="rotate(-90 206.1 103.9)">% specific lysis</text>
<circle cx="240.5" cy="35.5" r="1.9" fill="#a8002c"/>
<circle cx="246.1" cy="37.8" r="1.9" fill="#a8002c"/>
<circle cx="243.3" cy="44.6" r="1.9" fill="#a8002c"/>
<circle cx="243.3" cy="55.9" r="1.9" fill="#a8002c"/>
<circle cx="243.3" cy="66.6" r="1.9" fill="#a8002c"/>
<circle cx="240.5" cy="71.3" r="1.9" fill="#a8002c"/>
<circle cx="246.1" cy="75.5" r="1.9" fill="#a8002c"/>
<circle cx="243.3" cy="97.3" r="1.9" fill="#a8002c"/>
<path d="M236.3 60.4L250.3 60.4" stroke="#111" stroke-width="1.3"/>
<path d="M239.8 53.1L246.8 53.1" stroke="#111" stroke-width="1.1"/>
<path d="M239.8 67.9L246.8 67.9" stroke="#111" stroke-width="1.1"/>
<path d="M243.3 53.1L243.3 67.9" stroke="#111" stroke-width="1.1"/>
<circle cx="260.1" cy="34.4" r="1.9" fill="#e38b0a"/>
<circle cx="268.9" cy="32.7" r="1.9" fill="#e38b0a"/>
<circle cx="264.6" cy="37.7" r="1.9" fill="#e38b0a"/>
<circle cx="259.9" cy="47.3" r="1.9" fill="#e38b0a"/>
<circle cx="269.1" cy="50.9" r="1.9" fill="#e38b0a"/>
<circle cx="264.6" cy="53" r="1.9" fill="#e38b0a"/>
<circle cx="264.6" cy="60.1" r="1.9" fill="#e38b0a"/>
<circle cx="264.6" cy="78.3" r="1.9" fill="#e38b0a"/>
<path d="M257.6 49.4L271.6 49.4" stroke="#111" stroke-width="1.3"/>
<path d="M261.1 43.7L268.1 43.7" stroke="#111" stroke-width="1.1"/>
<path d="M261.1 54.4L268.1 54.4" stroke="#111" stroke-width="1.1"/>
<path d="M264.6 43.7L264.6 54.4" stroke="#111" stroke-width="1.1"/>
<circle cx="281.4" cy="51.8" r="1.9" fill="#13327a"/>
<circle cx="285.8" cy="51.9" r="1.9" fill="#13327a"/>
<circle cx="290.3" cy="48.7" r="1.9" fill="#13327a"/>
<circle cx="285.8" cy="64.9" r="1.9" fill="#13327a"/>
<circle cx="282.9" cy="70.6" r="1.9" fill="#13327a"/>
<circle cx="288.6" cy="75.3" r="1.9" fill="#13327a"/>
<circle cx="288.6" cy="80.8" r="1.9" fill="#13327a"/>
<circle cx="282.9" cy="85.5" r="1.9" fill="#13327a"/>
<path d="M278.9 66.2L292.9 66.2" stroke="#111" stroke-width="1.3"/>
<path d="M282.3 61L289.5 61" stroke="#111" stroke-width="1.1"/>
<path d="M282.3 71.3L289.5 71.3" stroke="#111" stroke-width="1.1"/>
<path d="M285.9 61L285.9 71.3" stroke="#111" stroke-width="1.1"/>
<circle cx="307.3" cy="46.9" r="1.9" fill="#4a98de"/>
<circle cx="307.3" cy="60.5" r="1.9" fill="#4a98de"/>
<circle cx="307.3" cy="77.1" r="1.9" fill="#4a98de"/>
<circle cx="307.3" cy="85" r="1.9" fill="#4a98de"/>
<path d="M300.5 67.4L314.3 67.4" stroke="#111" stroke-width="1.3"/>
<path d="M304 58.8L310.8 58.8" stroke="#111" stroke-width="1.1"/>
<path d="M304 75.5L310.8 75.5" stroke="#111" stroke-width="1.1"/>
<path d="M307.4 58.8L307.4 75.5" stroke="#111" stroke-width="1.1"/>
<circle cx="328.4" cy="87.5" r="1.9" fill="none" stroke="#acacac" stroke-width=".6"/>
<circle cx="323.7" cy="104" r="1.9" fill="none" stroke="#acacac" stroke-width=".6"/>
<circle cx="333.6" cy="104.4" r="1.9" fill="none" stroke="#acacac" stroke-width=".6"/>
<circle cx="323" cy="109.9" r="1.9" fill="none" stroke="#acacac" stroke-width=".6"/>
<circle cx="326.7" cy="112.2" r="1.9" fill="none" stroke="#acacac" stroke-width=".6"/>
<circle cx="330.2" cy="110.8" r="1.9" fill="none" stroke="#acacac" stroke-width=".6"/>
<circle cx="334.1" cy="107.9" r="1.9" fill="none" stroke="#acacac" stroke-width=".6"/>
<circle cx="328.8" cy="106.5" r="1.9" fill="none" stroke="#acacac" stroke-width=".6"/>
<path d="M321.9 105.3L335.9 105.3" stroke="#111" stroke-width="1.3"/>
<path d="M325.3 102.6L332.5 102.6" stroke="#111" stroke-width="1.1"/>
<path d="M325.3 108.2L332.5 108.2" stroke="#111" stroke-width="1.1"/>
<path d="M328.9 102.6L328.9 108.2" stroke="#111" stroke-width="1.1"/>
<path d="M264.3 24.1L285.8 24.1" stroke="#333" stroke-width="1.3"/>
<circle cx="273.2" cy="19.9" r="1.15" fill="#333"/>
<circle cx="276.7" cy="19.9" r="1.15" fill="#333"/>
<text x="250.4" y="129.3" font-size="8.5" text-anchor="end" textLength="15.6" lengthAdjust="spacingAndGlyphs" transform="rotate(-36 250.4 129.3)">CiTE</text>
<text x="266.8" y="128.9" font-size="8.5" text-anchor="end" textLength="14.8" lengthAdjust="spacingAndGlyphs" transform="rotate(-36 266.8 128.9)">sctb</text>
<text x="289.3" y="129.3" font-size="8.5" text-anchor="end" textLength="30" lengthAdjust="spacingAndGlyphs" transform="rotate(-36 289.3 129.3)">BiTE-like</text>
<text x="310.6" y="129.3" font-size="8.5" text-anchor="end" textLength="85" lengthAdjust="spacingAndGlyphs" transform="rotate(-36 310.6 129.3)">BiTE-like + αPD-L1 mAB</text>
<text x="332.8" y="129.3" font-size="8.5" text-anchor="end" textLength="45.5" lengthAdjust="spacingAndGlyphs" transform="rotate(-36 332.8 129.3)">specificity ctr</text>
<text x="356.1" y="16" font-size="12" textLength="6.9" lengthAdjust="spacingAndGlyphs" style="stroke-width:.3px">C</text>
<path d="M405.6 23.7L405.6 121.1" stroke="#111" stroke-width="1.3"/>
<path d="M405 120.5L512.6 120.5" stroke="#111" stroke-width="1.3"/>
<path d="M402.2 27.7L405.6 27.7" stroke="#111" stroke-width="1.2"/>
<text x="399" y="30.9" font-size="8.5" text-anchor="end" textLength="8.2" lengthAdjust="spacingAndGlyphs">10</text>
<path d="M402.2 46.3L405.6 46.3" stroke="#111" stroke-width="1.2"/>
<text x="399" y="49.5" font-size="8.5" text-anchor="end" textLength="4.1" lengthAdjust="spacingAndGlyphs">8</text>
<path d="M402.2 64.9L405.6 64.9" stroke="#111" stroke-width="1.2"/>
<text x="399" y="68.1" font-size="8.5" text-anchor="end" textLength="4.1" lengthAdjust="spacingAndGlyphs">6</text>
<path d="M402.2 83.5L405.6 83.5" stroke="#111" stroke-width="1.2"/>
<text x="399" y="86.7" font-size="8.5" text-anchor="end" textLength="4.1" lengthAdjust="spacingAndGlyphs">4</text>
<path d="M402.2 102.1L405.6 102.1" stroke="#111" stroke-width="1.2"/>
<text x="399" y="105.3" font-size="8.5" text-anchor="end" textLength="4.1" lengthAdjust="spacingAndGlyphs">2</text>
<path d="M402.2 120.6L405.6 120.6" stroke="#111" stroke-width="1.2"/>
<text x="399" y="123.8" font-size="8.5" text-anchor="end" textLength="4.1" lengthAdjust="spacingAndGlyphs">0</text>
<text x="383.9" y="101.7" font-size="9.9" textLength="57.9" lengthAdjust="spacingAndGlyphs" transform="rotate(-90 383.9 101.7)">MFI ratio PD-1</text>
<circle cx="416.9" cy="45" r="1.9" fill="#a8002c"/>
<circle cx="414.1" cy="57.2" r="1.9" fill="#a8002c"/>
<circle cx="419.8" cy="54.9" r="1.9" fill="#a8002c"/>
<circle cx="421.8" cy="68.9" r="1.9" fill="#a8002c"/>
<circle cx="412.2" cy="71.7" r="1.9" fill="#a8002c"/>
<circle cx="416.9" cy="73" r="1.9" fill="#a8002c"/>
<circle cx="416.9" cy="95.8" r="1.9" fill="#a8002c"/>
<path d="M410 66.8L424 66.8" stroke="#111" stroke-width="1.3"/>
<path d="M413.4 60.3L420.6 60.3" stroke="#111" stroke-width="1.1"/>
<path d="M413.4 72.7L420.6 72.7" stroke="#111" stroke-width="1.1"/>
<path d="M417 60.3L417 72.7" stroke="#111" stroke-width="1.1"/>
<circle cx="434.5" cy="32.6" r="1.9" fill="#e38b0a"/>
<circle cx="439" cy="35.2" r="1.9" fill="#e38b0a"/>
<circle cx="446.1" cy="34.8" r="1.9" fill="#e38b0a"/>
<circle cx="434.5" cy="39.1" r="1.9" fill="#e38b0a"/>
<circle cx="443.6" cy="39.1" r="1.9" fill="#e38b0a"/>
<circle cx="439" cy="43.2" r="1.9" fill="#e38b0a"/>
<circle cx="438.8" cy="83.5" r="1.9" fill="#e38b0a"/>
<path d="M432.1 43.7L446.1 43.7" stroke="#111" stroke-width="1.3"/>
<path d="M435.6 37.1L442.6 37.1" stroke="#111" stroke-width="1.1"/>
<path d="M435.6 50.9L442.6 50.9" stroke="#111" stroke-width="1.1"/>
<path d="M439.1 37.1L439.1 50.9" stroke="#111" stroke-width="1.1"/>
<circle cx="458.4" cy="62.7" r="1.9" fill="#13327a"/>
<circle cx="464.2" cy="63" r="1.9" fill="#13327a"/>
<circle cx="458.4" cy="74.6" r="1.9" fill="#13327a"/>
<circle cx="464.2" cy="72.5" r="1.9" fill="#13327a"/>
<circle cx="458.4" cy="82.6" r="1.9" fill="#13327a"/>
<circle cx="466.7" cy="83.1" r="1.9" fill="#13327a"/>
<circle cx="464.2" cy="88.5" r="1.9" fill="#13327a"/>
<circle cx="458.4" cy="93.8" r="1.9" fill="#13327a"/>
<path d="M454.3 77.8L468.5 77.8" stroke="#111" stroke-width="1.3"/>
<path d="M457.6 73.3L465.2 73.3" stroke="#111" stroke-width="1.1"/>
<path d="M457.6 81.7L465.2 81.7" stroke="#111" stroke-width="1.1"/>
<path d="M461.4 73.3L461.4 81.7" stroke="#111" stroke-width="1.1"/>
<circle cx="480.2" cy="64.8" r="1.9" fill="#4a98de"/>
<circle cx="486" cy="60.9" r="1.9" fill="#4a98de"/>
<circle cx="483.3" cy="80.5" r="1.9" fill="#4a98de"/>
<circle cx="483.3" cy="87.6" r="1.9" fill="#4a98de"/>
<path d="M476.4 73.3L490.4 73.3" stroke="#111" stroke-width="1.3"/>
<path d="M479.9 67.1L486.9 67.1" stroke="#111" stroke-width="1.1"/>
<path d="M479.9 79.4L486.9 79.4" stroke="#111" stroke-width="1.1"/>
<path d="M483.4 67.1L483.4 79.4" stroke="#111" stroke-width="1.1"/>
<circle cx="505.2" cy="106.4" r="1.9" fill="none" stroke="#acacac" stroke-width=".6"/>
<circle cx="500.9" cy="108.3" r="1.9" fill="none" stroke="#acacac" stroke-width=".6"/>
<circle cx="510.3" cy="108.9" r="1.9" fill="none" stroke="#acacac" stroke-width=".6"/>
<circle cx="505" cy="112.6" r="1.9" fill="none" stroke="#acacac" stroke-width=".6"/>
<circle cx="501.5" cy="112.2" r="1.9" fill="none" stroke="#acacac" stroke-width=".6"/>
<circle cx="508.8" cy="112.2" r="1.9" fill="none" stroke="#acacac" stroke-width=".6"/>
<path d="M498.4 110.6L512.2 110.6" stroke="#111" stroke-width="1.3"/>
<path d="M503.8 110.1L506.8 110.1" stroke="#111" stroke-width="1.1"/>
<path d="M503.8 111.1L506.8 111.1" stroke="#111" stroke-width="1.1"/>
<path d="M505.3 110.1L505.3 111.1" stroke="#111" stroke-width="1.1"/>
<path d="M439 24.6L461.3 24.6" stroke="#333" stroke-width="1.3"/>
<circle cx="449.7" cy="20.4" r="1.15" fill="#333"/>
<text x="422.8" y="129.2" font-size="8.5" text-anchor="end" textLength="15.6" lengthAdjust="spacingAndGlyphs" transform="rotate(-36 422.8 129.2)">CiTE</text>
<text x="439.5" y="128.9" font-size="8.5" text-anchor="end" textLength="14.8" lengthAdjust="spacingAndGlyphs" transform="rotate(-36 439.5 128.9)">sctb</text>
<text x="462.5" y="129.2" font-size="8.5" text-anchor="end" textLength="30" lengthAdjust="spacingAndGlyphs" transform="rotate(-36 462.5 129.2)">BiTE-like</text>
<text x="484.2" y="129.2" font-size="8.5" text-anchor="end" textLength="85" lengthAdjust="spacingAndGlyphs" transform="rotate(-36 484.2 129.2)">BiTE-like + αPD-L1 mAB</text>
<text x="508.3" y="128" font-size="8.5" text-anchor="end" textLength="45.5" lengthAdjust="spacingAndGlyphs" transform="rotate(-36 508.3 128)">specificity ctr</text>
<text x="186.1" y="214.9" font-size="12" textLength="7.6" lengthAdjust="spacingAndGlyphs" style="stroke-width:.3px">D</text>
<path d="M232.5 223.4L232.5 320.9" stroke="#111" stroke-width="1.3"/>
<path d="M231.9 320.3L340.7 320.3" stroke="#111" stroke-width="1.3"/>
<path d="M229.1 227.3L232.5 227.3" stroke="#111" stroke-width="1.2"/>
<text x="225.9" y="230.5" font-size="8.5" text-anchor="end" textLength="8.2" lengthAdjust="spacingAndGlyphs">14</text>
<path d="M229.1 240.6L232.5 240.6" stroke="#111" stroke-width="1.2"/>
<text x="225.9" y="243.8" font-size="8.5" text-anchor="end" textLength="8.2" lengthAdjust="spacingAndGlyphs">12</text>
<path d="M229.1 253.9L232.5 253.9" stroke="#111" stroke-width="1.2"/>
<text x="225.9" y="257.1" font-size="8.5" text-anchor="end" textLength="8.2" lengthAdjust="spacingAndGlyphs">10</text>
<path d="M229.1 267.2L232.5 267.2" stroke="#111" stroke-width="1.2"/>
<text x="225.9" y="270.4" font-size="8.5" text-anchor="end" textLength="4.1" lengthAdjust="spacingAndGlyphs">8</text>
<path d="M229.1 280.5L232.5 280.5" stroke="#111" stroke-width="1.2"/>
<text x="225.9" y="283.7" font-size="8.5" text-anchor="end" textLength="4.1" lengthAdjust="spacingAndGlyphs">6</text>
<path d="M229.1 293.8L232.5 293.8" stroke="#111" stroke-width="1.2"/>
<text x="225.9" y="297" font-size="8.5" text-anchor="end" textLength="4.1" lengthAdjust="spacingAndGlyphs">4</text>
<path d="M229.1 307.1L232.5 307.1" stroke="#111" stroke-width="1.2"/>
<text x="225.9" y="310.3" font-size="8.5" text-anchor="end" textLength="4.1" lengthAdjust="spacingAndGlyphs">2</text>
<path d="M229.1 320.4L232.5 320.4" stroke="#111" stroke-width="1.2"/>
<text x="225.9" y="323.6" font-size="8.5" text-anchor="end" textLength="4.1" lengthAdjust="spacingAndGlyphs">0</text>
<text x="211.3" y="305.4" font-size="9.5" transform="rotate(-90 211.3 305.4)" textLength="67" lengthAdjust="spacingAndGlyphs">CD2<tspan dy="-3.5" font-size="6.5">+</tspan><tspan dy="3.5"> cells x 10</tspan><tspan dy="-3.5" font-size="6.5">4</tspan></text>
<circle cx="242.9" cy="233.5" r="1.9" fill="#a8002c"/>
<circle cx="242.9" cy="247.7" r="1.9" fill="#a8002c"/>
<circle cx="246.1" cy="270.8" r="1.9" fill="#a8002c"/>
<circle cx="240.5" cy="274.6" r="1.9" fill="#a8002c"/>
<circle cx="242.9" cy="283.1" r="1.9" fill="#a8002c"/>
<circle cx="240.5" cy="293.4" r="1.9" fill="#a8002c"/>
<circle cx="246.1" cy="292.9" r="1.9" fill="#a8002c"/>
<path d="M236 270.8L250.2 270.8" stroke="#111" stroke-width="1.3"/>
<path d="M239.7 262.2L246.5 262.2" stroke="#111" stroke-width="1.1"/>
<path d="M239.7 279.1L246.5 279.1" stroke="#111" stroke-width="1.1"/>
<path d="M243.1 262.2L243.1 279.1" stroke="#111" stroke-width="1.1"/>
<circle cx="264.9" cy="236.7" r="1.9" fill="#e38b0a"/>
<circle cx="264.9" cy="243.9" r="1.9" fill="#e38b0a"/>
<circle cx="262.2" cy="261.2" r="1.9" fill="#e38b0a"/>
<circle cx="267.5" cy="265.3" r="1.9" fill="#e38b0a"/>
<circle cx="264.9" cy="279" r="1.9" fill="#e38b0a"/>
<circle cx="264.9" cy="285.6" r="1.9" fill="#e38b0a"/>
<circle cx="264.9" cy="293.7" r="1.9" fill="#e38b0a"/>
<path d="M258.1 266.1L271.7 266.1" stroke="#111" stroke-width="1.3"/>
<path d="M261.1 258.3L268.7 258.3" stroke="#111" stroke-width="1.1"/>
<path d="M261.1 274.2L268.7 274.2" stroke="#111" stroke-width="1.1"/>
<path d="M264.9 258.3L264.9 274.2" stroke="#111" stroke-width="1.1"/>
<circle cx="286.5" cy="240.3" r="1.9" fill="#13327a"/>
<circle cx="286.5" cy="249.2" r="1.9" fill="#13327a"/>
<circle cx="286.4" cy="285.6" r="1.9" fill="#13327a"/>
<circle cx="280.9" cy="298.6" r="1.9" fill="#13327a"/>
<circle cx="284.8" cy="302.4" r="1.9" fill="#13327a"/>
<circle cx="288.5" cy="299.2" r="1.9" fill="#13327a"/>
<circle cx="292.4" cy="298.8" r="1.9" fill="#13327a"/>
<path d="M279.6 281.8L293.6 281.8" stroke="#111" stroke-width="1.3"/>
<path d="M283.3 272.2L289.9 272.2" stroke="#111" stroke-width="1.1"/>
<path d="M283.3 291.8L289.9 291.8" stroke="#111" stroke-width="1.1"/>
<path d="M286.6 272.2L286.6 291.8" stroke="#111" stroke-width="1.1"/>
<circle cx="308.4" cy="236" r="1.9" fill="#4a98de"/>
<circle cx="308.4" cy="244.1" r="1.9" fill="#4a98de"/>
<circle cx="308.4" cy="281" r="1.9" fill="#4a98de"/>
<circle cx="305.2" cy="286" r="1.9" fill="#4a98de"/>
<circle cx="314" cy="289.8" r="1.9" fill="#4a98de"/>
<circle cx="311.1" cy="292.9" r="1.9" fill="#4a98de"/>
<circle cx="305.2" cy="298" r="1.9" fill="#4a98de"/>
<path d="M301.5 275.3L315.3 275.3" stroke="#111" stroke-width="1.3"/>
<path d="M304.9 265.8L311.9 265.8" stroke="#111" stroke-width="1.1"/>
<path d="M304.9 284.7L311.9 284.7" stroke="#111" stroke-width="1.1"/>
<path d="M308.4 265.8L308.4 284.7" stroke="#111" stroke-width="1.1"/>
<circle cx="329.8" cy="259.9" r="1.9" fill="none" stroke="#acacac" stroke-width=".6"/>
<circle cx="329.8" cy="281.7" r="1.9" fill="none" stroke="#acacac" stroke-width=".6"/>
<circle cx="329.8" cy="300" r="1.9" fill="none" stroke="#acacac" stroke-width=".6"/>
<circle cx="324.6" cy="303.9" r="1.9" fill="none" stroke="#acacac" stroke-width=".6"/>
<circle cx="329.8" cy="306.4" r="1.9" fill="none" stroke="#acacac" stroke-width=".6"/>
<circle cx="334.5" cy="305.6" r="1.9" fill="none" stroke="#acacac" stroke-width=".6"/>
<path d="M323.1 293.1L336.9 293.1" stroke="#111" stroke-width="1.3"/>
<path d="M326.6 286.4L333.4 286.4" stroke="#111" stroke-width="1.1"/>
<path d="M326.6 298.7L333.4 298.7" stroke="#111" stroke-width="1.1"/>
<path d="M330 286.4L330 298.7" stroke="#111" stroke-width="1.1"/>
<path d="M242.5 221.5L285.7 221.5" stroke="#333" stroke-width="1.3"/>
<circle cx="265.4" cy="217.3" r="1.15" fill="#333"/>
<path d="M264.2 229.5L285.7 229.5" stroke="#333" stroke-width="1.3"/>
<circle cx="274.9" cy="225.3" r="1.15" fill="#333"/>
<text x="250.4" y="328.9" font-size="8.5" text-anchor="end" textLength="15.6" lengthAdjust="spacingAndGlyphs" transform="rotate(-36 250.4 328.9)">CiTE</text>
<text x="266.8" y="328.6" font-size="8.5" text-anchor="end" textLength="14.8" lengthAdjust="spacingAndGlyphs" transform="rotate(-36 266.8 328.6)">sctb</text>
<text x="289.5" y="328.9" font-size="8.5" text-anchor="end" textLength="30" lengthAdjust="spacingAndGlyphs" transform="rotate(-36 289.5 328.9)">BiTE-like</text>
<text x="310.6" y="328.9" font-size="8.5" text-anchor="end" textLength="85" lengthAdjust="spacingAndGlyphs" transform="rotate(-36 310.6 328.9)">BiTE-like + αPD-L1 mAB</text>
<text x="333.6" y="328.9" font-size="8.5" text-anchor="end" textLength="45.5" lengthAdjust="spacingAndGlyphs" transform="rotate(-36 333.6 328.9)">specificity ctr</text>
<path d="M.75 393V.75H519.3V392H0" fill="none" stroke="#111" stroke-width="1.5"/>
<path d="M0 392.1H520" stroke="#111" stroke-width="1.9"/>
</svg>
</body></html>
